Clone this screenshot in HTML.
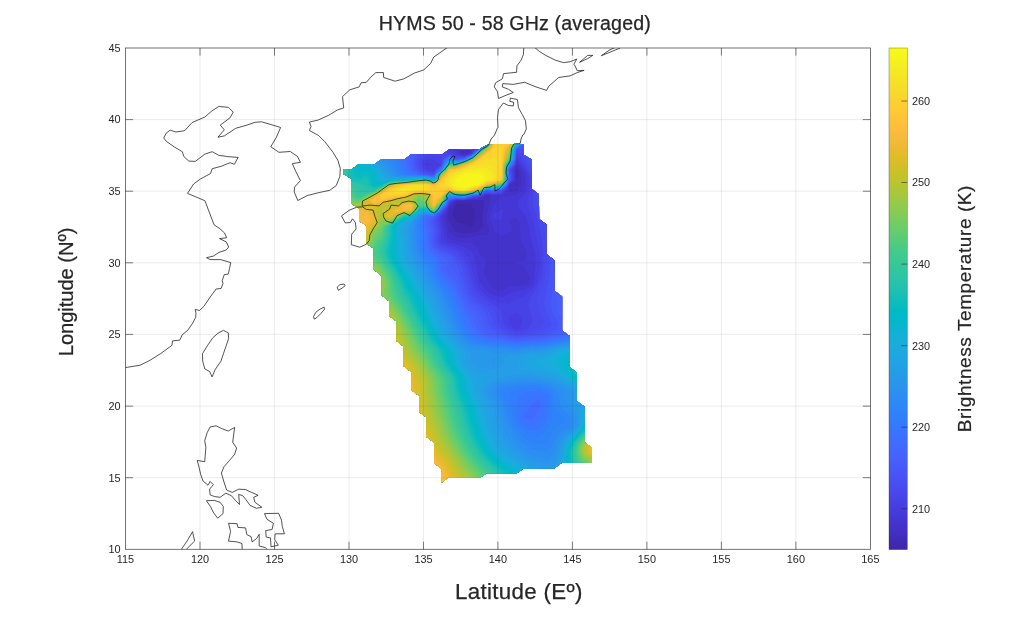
<!DOCTYPE html><html><head><meta charset="utf-8"><title>HYMS 50 - 58 GHz (averaged)</title>
<style>html,body{margin:0;padding:0;background:#fff}body{width:1024px;height:619px;overflow:hidden}svg{display:block}text{font-family:"Liberation Sans",Arial,Helvetica,sans-serif;fill:#262626}</style></head><body>
<svg width="1024" height="619" viewBox="0 0 1024 619">
<rect width="1024" height="619" fill="#fff"/>
<defs><clipPath id="ax"><rect x="125.5" y="48.0" width="744.9" height="501.3"/></clipPath>
<clipPath id="sw"><path d="M343.8 169.5 L351.2 169.5 L358.4 164.6 L374.0 164.6 L381.3 159.4 L404.3 159.4 L411.3 154.3 L442.3 154.3 L448.9 149.5 L478.8 149.5 L488.5 144.0 L523.7 144.0 L523.7 154.7 L531.8 159.6 L531.8 188.7 L538.9 194.3 L539.2 219.1 L547.0 224.7 L547.0 254.6 L554.5 260.3 L554.7 290.8 L562.1 296.5 L562.1 330.4 L569.7 336.1 L569.7 367.6 L577.0 372.4 L577.0 401.3 L584.7 407.0 L584.7 442.5 L591.8 447.4 L591.8 462.7 L561.6 463.0 L554.3 468.2 L523.8 468.4 L516.6 473.2 L486.7 473.2 L479.7 478.0 L448.2 478.1 L441.7 482.4 L441.7 469.2 L434.0 462.7 L434.0 442.5 L426.4 436.9 L426.4 417.5 L419.1 411.8 L419.1 395.7 L411.6 390.5 L411.6 372.4 L403.6 366.0 L403.6 346.6 L396.4 340.9 L396.4 321.5 L389.1 315.9 L389.1 301.3 L381.8 295.4 L381.7 276.0 L373.6 269.5 L373.6 248.5 L366.4 243.6 L366.3 225.4 L359.0 221.0 L359.0 208.6 L351.3 203.5 L351.3 178.8 L343.8 174.2Z"/></clipPath>
<linearGradient id="cb" x1="0" y1="1" x2="0" y2="0"><stop offset="0.0000" stop-color="#3e26a8"/><stop offset="0.0159" stop-color="#402ab4"/><stop offset="0.0317" stop-color="#422ec0"/><stop offset="0.0476" stop-color="#4332cb"/><stop offset="0.0635" stop-color="#4537d5"/><stop offset="0.0794" stop-color="#463cde"/><stop offset="0.0952" stop-color="#4741e5"/><stop offset="0.1111" stop-color="#4747eb"/><stop offset="0.1270" stop-color="#484df0"/><stop offset="0.1429" stop-color="#4852f4"/><stop offset="0.1587" stop-color="#4758f8"/><stop offset="0.1746" stop-color="#465efb"/><stop offset="0.1905" stop-color="#4563fd"/><stop offset="0.2063" stop-color="#4269fe"/><stop offset="0.2222" stop-color="#3e6fff"/><stop offset="0.2381" stop-color="#3875fe"/><stop offset="0.2540" stop-color="#327cfc"/><stop offset="0.2698" stop-color="#2f81fa"/><stop offset="0.2857" stop-color="#2e87f7"/><stop offset="0.3016" stop-color="#2d8cf3"/><stop offset="0.3175" stop-color="#2b91ef"/><stop offset="0.3333" stop-color="#2797eb"/><stop offset="0.3492" stop-color="#259be8"/><stop offset="0.3651" stop-color="#23a0e5"/><stop offset="0.3810" stop-color="#20a5e3"/><stop offset="0.3968" stop-color="#1ca9df"/><stop offset="0.4127" stop-color="#18addb"/><stop offset="0.4286" stop-color="#12b1d6"/><stop offset="0.4444" stop-color="#08b5d0"/><stop offset="0.4603" stop-color="#01b8ca"/><stop offset="0.4762" stop-color="#02bac3"/><stop offset="0.4921" stop-color="#0bbdbd"/><stop offset="0.5079" stop-color="#19bfb6"/><stop offset="0.5238" stop-color="#24c1ae"/><stop offset="0.5397" stop-color="#2cc4a7"/><stop offset="0.5556" stop-color="#31c69f"/><stop offset="0.5714" stop-color="#37c897"/><stop offset="0.5873" stop-color="#3fca8e"/><stop offset="0.6032" stop-color="#4acb84"/><stop offset="0.6190" stop-color="#57cc7a"/><stop offset="0.6349" stop-color="#64cd6f"/><stop offset="0.6508" stop-color="#72cd64"/><stop offset="0.6667" stop-color="#81cc59"/><stop offset="0.6825" stop-color="#8fcb4e"/><stop offset="0.6984" stop-color="#9dc943"/><stop offset="0.7143" stop-color="#abc739"/><stop offset="0.7302" stop-color="#b9c431"/><stop offset="0.7460" stop-color="#c5c22a"/><stop offset="0.7619" stop-color="#d1bf27"/><stop offset="0.7778" stop-color="#dcbd29"/><stop offset="0.7937" stop-color="#e6bb2d"/><stop offset="0.8095" stop-color="#f0ba36"/><stop offset="0.8254" stop-color="#f8ba3d"/><stop offset="0.8413" stop-color="#febe3c"/><stop offset="0.8571" stop-color="#fec338"/><stop offset="0.8730" stop-color="#fec934"/><stop offset="0.8889" stop-color="#fccf30"/><stop offset="0.9048" stop-color="#fad62d"/><stop offset="0.9206" stop-color="#f7dc2a"/><stop offset="0.9365" stop-color="#f5e327"/><stop offset="0.9524" stop-color="#f5e924"/><stop offset="0.9683" stop-color="#f6ef20"/><stop offset="0.9841" stop-color="#f7f51b"/><stop offset="1.0000" stop-color="#f9fb15"/></linearGradient></defs>
<g clip-path="url(#sw)"><path d="M328.7 128.6L336.3 128.6L343.8 128.6L351.3 128.6L358.8 128.6L366.3 128.6L373.9 128.6L381.4 128.6L388.9 128.6L396.4 128.6L403.9 128.6L411.5 128.6L419.0 128.6L426.5 128.6L434.0 128.6L441.5 128.6L449.1 128.6L456.6 128.6L464.1 128.6L471.6 128.6L479.1 128.6L486.7 128.6L494.2 128.6L501.7 128.6L509.2 128.6L516.7 128.6L524.3 128.6L531.8 128.6L539.3 128.6L546.8 128.6L554.3 128.6L561.9 128.6L569.4 128.6L576.9 128.6L584.4 128.6L591.9 128.6L599.5 128.6L607.0 128.6L614.5 128.6L614.5 133.7L614.5 138.9L614.5 144.0L614.5 149.1L614.5 154.3L614.5 159.4L614.5 164.6L614.5 169.7L614.5 174.8L614.5 180.0L614.5 185.1L614.5 190.3L614.5 195.4L614.5 200.5L614.5 205.7L614.5 210.8L614.5 216.0L614.5 221.1L614.5 226.2L614.5 231.4L614.5 236.5L614.5 241.7L614.5 246.8L614.5 251.9L614.5 257.1L614.5 262.2L614.5 267.4L614.5 272.5L614.5 277.6L614.5 282.8L614.5 287.9L614.5 293.1L614.5 298.2L614.5 303.3L614.5 308.5L614.5 313.6L614.5 318.8L614.5 323.9L614.5 329.0L614.5 334.2L614.5 339.3L614.5 344.5L614.5 349.6L614.5 354.7L614.5 359.9L614.5 365.0L614.5 370.2L614.5 375.3L614.5 380.4L614.5 385.6L614.5 390.7L614.5 395.9L614.5 401.0L614.5 406.1L614.5 411.3L614.5 416.4L614.5 421.6L614.5 426.7L614.5 431.8L614.5 437.0L614.5 442.1L614.5 447.3L614.5 452.4L614.5 457.5L614.5 462.7L614.5 467.8L614.5 473.0L614.5 478.1L614.5 483.2L614.5 488.4L614.5 493.5L614.5 498.7L607.0 498.7L599.5 498.7L591.9 498.7L584.4 498.7L576.9 498.7L569.4 498.7L561.9 498.7L554.3 498.7L546.8 498.7L539.3 498.7L531.8 498.7L524.3 498.7L516.7 498.7L509.2 498.7L501.7 498.7L494.2 498.7L486.7 498.7L479.1 498.7L471.6 498.7L464.1 498.7L456.6 498.7L449.1 498.7L441.5 498.7L434.0 498.7L426.5 498.7L419.0 498.7L411.5 498.7L403.9 498.7L396.4 498.7L388.9 498.7L381.4 498.7L373.9 498.7L366.3 498.7L358.8 498.7L351.3 498.7L343.8 498.7L336.3 498.7L328.7 498.7L328.7 493.5L328.7 488.4L328.7 483.2L328.7 478.1L328.7 473.0L328.7 467.8L328.7 462.7L328.7 457.5L328.7 452.4L328.7 447.3L328.7 442.1L328.7 437.0L328.7 431.8L328.7 426.7L328.7 421.6L328.7 416.4L328.7 411.3L328.7 406.1L328.7 401.0L328.7 395.9L328.7 390.7L328.7 385.6L328.7 380.4L328.7 375.3L328.7 370.2L328.7 365.0L328.7 359.9L328.7 354.7L328.7 349.6L328.7 344.5L328.7 339.3L328.7 334.2L328.7 329.0L328.7 323.9L328.7 318.8L328.7 313.6L328.7 308.5L328.7 303.3L328.7 298.2L328.7 293.1L328.7 287.9L328.7 282.8L328.7 277.6L328.7 272.5L328.7 267.4L328.7 262.2L328.7 257.1L328.7 251.9L328.7 246.8L328.7 241.7L328.7 236.5L328.7 231.4L328.7 226.2L328.7 221.1L328.7 216.0L328.7 210.8L328.7 205.7L328.7 200.5L328.7 195.4L328.7 190.3L328.7 185.1L328.7 180.0L328.7 174.8L328.7 169.7L328.7 164.6L328.7 159.4L328.7 154.3L328.7 149.1L328.7 144.0L328.7 138.9L328.7 133.7Z" fill="#3e26a8"/>
<path d="M328.7 128.6L336.3 128.6L343.8 128.6L351.3 128.6L358.8 128.6L366.3 128.6L373.9 128.6L381.4 128.6L388.9 128.6L396.4 128.6L403.9 128.6L411.5 128.6L419.0 128.6L426.5 128.6L434.0 128.6L441.5 128.6L449.1 128.6L456.6 128.6L464.1 128.6L471.6 128.6L479.1 128.6L486.7 128.6L494.2 128.6L501.7 128.6L509.2 128.6L516.7 128.6L524.3 128.6L531.8 128.6L539.3 128.6L546.8 128.6L554.3 128.6L561.9 128.6L569.4 128.6L576.9 128.6L584.4 128.6L591.9 128.6L599.5 128.6L607.0 128.6L614.5 128.6L614.5 133.7L614.5 138.9L614.5 144.0L614.5 149.1L614.5 154.3L614.5 159.4L614.5 164.6L614.5 169.7L614.5 174.8L614.5 180.0L614.5 185.1L614.5 190.3L614.5 195.4L614.5 200.5L614.5 205.7L614.5 210.8L614.5 216.0L614.5 221.1L614.5 226.2L614.5 231.4L614.5 236.5L614.5 241.7L614.5 246.8L614.5 251.9L614.5 257.1L614.5 262.2L614.5 267.4L614.5 272.5L614.5 277.6L614.5 282.8L614.5 287.9L614.5 293.1L614.5 298.2L614.5 303.3L614.5 308.5L614.5 313.6L614.5 318.8L614.5 323.9L614.5 329.0L614.5 334.2L614.5 339.3L614.5 344.5L614.5 349.6L614.5 354.7L614.5 359.9L614.5 365.0L614.5 370.2L614.5 375.3L614.5 380.4L614.5 385.6L614.5 390.7L614.5 395.9L614.5 401.0L614.5 406.1L614.5 411.3L614.5 416.4L614.5 421.6L614.5 426.7L614.5 431.8L614.5 437.0L614.5 442.1L614.5 447.3L614.5 452.4L614.5 457.5L614.5 462.7L614.5 467.8L614.5 473.0L614.5 478.1L614.5 483.2L614.5 488.4L614.5 493.5L614.5 498.7L607.0 498.7L599.5 498.7L591.9 498.7L584.4 498.7L576.9 498.7L569.4 498.7L561.9 498.7L554.3 498.7L546.8 498.7L539.3 498.7L531.8 498.7L524.3 498.7L516.7 498.7L509.2 498.7L501.7 498.7L494.2 498.7L486.7 498.7L479.1 498.7L471.6 498.7L464.1 498.7L456.6 498.7L449.1 498.7L441.5 498.7L434.0 498.7L426.5 498.7L419.0 498.7L411.5 498.7L403.9 498.7L396.4 498.7L388.9 498.7L381.4 498.7L373.9 498.7L366.3 498.7L358.8 498.7L351.3 498.7L343.8 498.7L336.3 498.7L328.7 498.7L328.7 493.5L328.7 488.4L328.7 483.2L328.7 478.1L328.7 473.0L328.7 467.8L328.7 462.7L328.7 457.5L328.7 452.4L328.7 447.3L328.7 442.1L328.7 437.0L328.7 431.8L328.7 426.7L328.7 421.6L328.7 416.4L328.7 411.3L328.7 406.1L328.7 401.0L328.7 395.9L328.7 390.7L328.7 385.6L328.7 380.4L328.7 375.3L328.7 370.2L328.7 365.0L328.7 359.9L328.7 354.7L328.7 349.6L328.7 344.5L328.7 339.3L328.7 334.2L328.7 329.0L328.7 323.9L328.7 318.8L328.7 313.6L328.7 308.5L328.7 303.3L328.7 298.2L328.7 293.1L328.7 287.9L328.7 282.8L328.7 277.6L328.7 272.5L328.7 267.4L328.7 262.2L328.7 257.1L328.7 251.9L328.7 246.8L328.7 241.7L328.7 236.5L328.7 231.4L328.7 226.2L328.7 221.1L328.7 216.0L328.7 210.8L328.7 205.7L328.7 200.5L328.7 195.4L328.7 190.3L328.7 185.1L328.7 180.0L328.7 174.8L328.7 169.7L328.7 164.6L328.7 159.4L328.7 154.3L328.7 149.1L328.7 144.0L328.7 138.9L328.7 133.7ZM456.6 204.1L455.2 205.7L453.3 210.8L453.3 216.0L455.9 221.1L456.6 222.5L464.1 223.7L466.4 226.2L471.6 226.7L472.6 226.2L474.1 221.1L475.2 216.0L475.2 210.8L472.0 205.7L471.6 203.1L464.1 203.7Z" fill="#402ab5"/>
<path d="M328.7 128.6L336.3 128.6L343.8 128.6L351.3 128.6L358.8 128.6L366.3 128.6L373.9 128.6L381.4 128.6L388.9 128.6L396.4 128.6L403.9 128.6L411.5 128.6L419.0 128.6L426.5 128.6L434.0 128.6L441.5 128.6L449.1 128.6L456.6 128.6L464.1 128.6L471.6 128.6L479.1 128.6L486.7 128.6L494.2 128.6L501.7 128.6L509.2 128.6L516.7 128.6L524.3 128.6L531.8 128.6L539.3 128.6L546.8 128.6L554.3 128.6L561.9 128.6L569.4 128.6L576.9 128.6L584.4 128.6L591.9 128.6L599.5 128.6L607.0 128.6L614.5 128.6L614.5 133.7L614.5 138.9L614.5 144.0L614.5 149.1L614.5 154.3L614.5 159.4L614.5 164.6L614.5 169.7L614.5 174.8L614.5 180.0L614.5 185.1L614.5 190.3L614.5 195.4L614.5 200.5L614.5 205.7L614.5 210.8L614.5 216.0L614.5 221.1L614.5 226.2L614.5 231.4L614.5 236.5L614.5 241.7L614.5 246.8L614.5 251.9L614.5 257.1L614.5 262.2L614.5 267.4L614.5 272.5L614.5 277.6L614.5 282.8L614.5 287.9L614.5 293.1L614.5 298.2L614.5 303.3L614.5 308.5L614.5 313.6L614.5 318.8L614.5 323.9L614.5 329.0L614.5 334.2L614.5 339.3L614.5 344.5L614.5 349.6L614.5 354.7L614.5 359.9L614.5 365.0L614.5 370.2L614.5 375.3L614.5 380.4L614.5 385.6L614.5 390.7L614.5 395.9L614.5 401.0L614.5 406.1L614.5 411.3L614.5 416.4L614.5 421.6L614.5 426.7L614.5 431.8L614.5 437.0L614.5 442.1L614.5 447.3L614.5 452.4L614.5 457.5L614.5 462.7L614.5 467.8L614.5 473.0L614.5 478.1L614.5 483.2L614.5 488.4L614.5 493.5L614.5 498.7L607.0 498.7L599.5 498.7L591.9 498.7L584.4 498.7L576.9 498.7L569.4 498.7L561.9 498.7L554.3 498.7L546.8 498.7L539.3 498.7L531.8 498.7L524.3 498.7L516.7 498.7L509.2 498.7L501.7 498.7L494.2 498.7L486.7 498.7L479.1 498.7L471.6 498.7L464.1 498.7L456.6 498.7L449.1 498.7L441.5 498.7L434.0 498.7L426.5 498.7L419.0 498.7L411.5 498.7L403.9 498.7L396.4 498.7L388.9 498.7L381.4 498.7L373.9 498.7L366.3 498.7L358.8 498.7L351.3 498.7L343.8 498.7L336.3 498.7L328.7 498.7L328.7 493.5L328.7 488.4L328.7 483.2L328.7 478.1L328.7 473.0L328.7 467.8L328.7 462.7L328.7 457.5L328.7 452.4L328.7 447.3L328.7 442.1L328.7 437.0L328.7 431.8L328.7 426.7L328.7 421.6L328.7 416.4L328.7 411.3L328.7 406.1L328.7 401.0L328.7 395.9L328.7 390.7L328.7 385.6L328.7 380.4L328.7 375.3L328.7 370.2L328.7 365.0L328.7 359.9L328.7 354.7L328.7 349.6L328.7 344.5L328.7 339.3L328.7 334.2L328.7 329.0L328.7 323.9L328.7 318.8L328.7 313.6L328.7 308.5L328.7 303.3L328.7 298.2L328.7 293.1L328.7 287.9L328.7 282.8L328.7 277.6L328.7 272.5L328.7 267.4L328.7 262.2L328.7 257.1L328.7 251.9L328.7 246.8L328.7 241.7L328.7 236.5L328.7 231.4L328.7 226.2L328.7 221.1L328.7 216.0L328.7 210.8L328.7 205.7L328.7 200.5L328.7 195.4L328.7 190.3L328.7 185.1L328.7 180.0L328.7 174.8L328.7 169.7L328.7 164.6L328.7 159.4L328.7 154.3L328.7 149.1L328.7 144.0L328.7 138.9L328.7 133.7ZM464.1 153.6L464.0 154.3L464.1 154.3L464.2 154.3ZM471.6 146.6L468.1 149.1L471.6 149.5L471.8 149.1ZM516.7 168.4L516.3 169.7L516.3 174.8L516.7 179.4L518.3 174.8L517.7 169.7ZM464.1 200.4L456.8 200.5L456.6 200.6L452.1 205.7L449.1 209.4L448.7 210.8L448.2 216.0L448.9 221.1L449.1 221.6L451.9 226.2L455.6 231.4L456.6 232.1L464.1 233.4L471.6 232.8L478.7 231.4L479.1 231.2L483.4 226.2L482.2 221.1L482.5 216.0L483.4 210.8L483.6 205.7L484.2 200.5L479.1 200.0L471.6 200.1ZM516.7 181.5L515.7 185.1L516.7 185.9L517.3 185.1Z" fill="#422ec0"/>
<path d="M328.7 128.6L336.3 128.6L343.8 128.6L351.3 128.6L358.8 128.6L366.3 128.6L373.9 128.6L381.4 128.6L388.9 128.6L396.4 128.6L403.9 128.6L411.5 128.6L419.0 128.6L426.5 128.6L434.0 128.6L441.5 128.6L449.1 128.6L456.6 128.6L464.1 128.6L471.6 128.6L479.1 128.6L486.7 128.6L494.2 128.6L501.7 128.6L509.2 128.6L516.7 128.6L524.3 128.6L531.8 128.6L539.3 128.6L546.8 128.6L554.3 128.6L561.9 128.6L569.4 128.6L576.9 128.6L584.4 128.6L591.9 128.6L599.5 128.6L607.0 128.6L614.5 128.6L614.5 133.7L614.5 138.9L614.5 144.0L614.5 149.1L614.5 154.3L614.5 159.4L614.5 164.6L614.5 169.7L614.5 174.8L614.5 180.0L614.5 185.1L614.5 190.3L614.5 195.4L614.5 200.5L614.5 205.7L614.5 210.8L614.5 216.0L614.5 221.1L614.5 226.2L614.5 231.4L614.5 236.5L614.5 241.7L614.5 246.8L614.5 251.9L614.5 257.1L614.5 262.2L614.5 267.4L614.5 272.5L614.5 277.6L614.5 282.8L614.5 287.9L614.5 293.1L614.5 298.2L614.5 303.3L614.5 308.5L614.5 313.6L614.5 318.8L614.5 323.9L614.5 329.0L614.5 334.2L614.5 339.3L614.5 344.5L614.5 349.6L614.5 354.7L614.5 359.9L614.5 365.0L614.5 370.2L614.5 375.3L614.5 380.4L614.5 385.6L614.5 390.7L614.5 395.9L614.5 401.0L614.5 406.1L614.5 411.3L614.5 416.4L614.5 421.6L614.5 426.7L614.5 431.8L614.5 437.0L614.5 442.1L614.5 447.3L614.5 452.4L614.5 457.5L614.5 462.7L614.5 467.8L614.5 473.0L614.5 478.1L614.5 483.2L614.5 488.4L614.5 493.5L614.5 498.7L607.0 498.7L599.5 498.7L591.9 498.7L584.4 498.7L576.9 498.7L569.4 498.7L561.9 498.7L554.3 498.7L546.8 498.7L539.3 498.7L531.8 498.7L524.3 498.7L516.7 498.7L509.2 498.7L501.7 498.7L494.2 498.7L486.7 498.7L479.1 498.7L471.6 498.7L464.1 498.7L456.6 498.7L449.1 498.7L441.5 498.7L434.0 498.7L426.5 498.7L419.0 498.7L411.5 498.7L403.9 498.7L396.4 498.7L388.9 498.7L381.4 498.7L373.9 498.7L366.3 498.7L358.8 498.7L351.3 498.7L343.8 498.7L336.3 498.7L328.7 498.7L328.7 493.5L328.7 488.4L328.7 483.2L328.7 478.1L328.7 473.0L328.7 467.8L328.7 462.7L328.7 457.5L328.7 452.4L328.7 447.3L328.7 442.1L328.7 437.0L328.7 431.8L328.7 426.7L328.7 421.6L328.7 416.4L328.7 411.3L328.7 406.1L328.7 401.0L328.7 395.9L328.7 390.7L328.7 385.6L328.7 380.4L328.7 375.3L328.7 370.2L328.7 365.0L328.7 359.9L328.7 354.7L328.7 349.6L328.7 344.5L328.7 339.3L328.7 334.2L328.7 329.0L328.7 323.9L328.7 318.8L328.7 313.6L328.7 308.5L328.7 303.3L328.7 298.2L328.7 293.1L328.7 287.9L328.7 282.8L328.7 277.6L328.7 272.5L328.7 267.4L328.7 262.2L328.7 257.1L328.7 251.9L328.7 246.8L328.7 241.7L328.7 236.5L328.7 231.4L328.7 226.2L328.7 221.1L328.7 216.0L328.7 210.8L328.7 205.7L328.7 200.5L328.7 195.4L328.7 190.3L328.7 185.1L328.7 180.0L328.7 174.8L328.7 169.7L328.7 164.6L328.7 159.4L328.7 154.3L328.7 149.1L328.7 144.0L328.7 138.9L328.7 133.7ZM471.6 138.7L471.4 138.9L464.1 143.5L463.7 144.0L460.2 149.1L461.3 154.3L464.1 154.8L466.1 154.3L471.6 150.7L472.5 149.1L479.1 144.2L479.4 144.0L479.7 138.9L479.1 137.6ZM486.7 195.0L485.7 195.4L479.1 199.2L471.6 199.6L464.1 200.2L456.6 200.3L455.5 200.5L449.1 205.6L449.0 205.7L447.8 210.8L446.0 216.0L446.5 221.1L447.7 226.2L448.9 231.4L449.1 231.8L454.7 236.5L456.6 237.2L464.1 238.1L471.6 237.3L474.1 236.5L479.1 235.3L486.7 235.2L489.6 231.4L488.9 226.2L486.8 221.1L486.7 219.1L486.4 216.0L486.7 215.1L487.7 210.8L488.8 205.7L490.4 200.5L491.4 195.4ZM516.7 165.1L515.3 169.7L515.5 174.8L515.9 180.0L509.2 185.1L509.2 185.1L508.9 190.3L509.2 191.4L516.7 190.8L517.4 190.3L521.2 185.1L521.0 180.0L521.4 174.8L519.9 169.7Z" fill="#4433cb"/>
<path d="M328.7 128.6L336.3 128.6L343.8 128.6L351.3 128.6L358.8 128.6L366.3 128.6L373.9 128.6L381.4 128.6L388.9 128.6L396.4 128.6L403.9 128.6L411.5 128.6L419.0 128.6L426.5 128.6L434.0 128.6L441.5 128.6L449.1 128.6L456.6 128.6L464.1 128.6L471.6 128.6L479.1 128.6L486.7 128.6L494.2 128.6L501.7 128.6L509.2 128.6L516.7 128.6L524.3 128.6L531.8 128.6L539.3 128.6L546.8 128.6L554.3 128.6L561.9 128.6L569.4 128.6L576.9 128.6L584.4 128.6L591.9 128.6L599.5 128.6L607.0 128.6L614.5 128.6L614.5 133.7L614.5 138.9L614.5 144.0L614.5 149.1L614.5 154.3L614.5 159.4L614.5 164.6L614.5 169.7L614.5 174.8L614.5 180.0L614.5 185.1L614.5 190.3L614.5 195.4L614.5 200.5L614.5 205.7L614.5 210.8L614.5 216.0L614.5 221.1L614.5 226.2L614.5 231.4L614.5 236.5L614.5 241.7L614.5 246.8L614.5 251.9L614.5 257.1L614.5 262.2L614.5 267.4L614.5 272.5L614.5 277.6L614.5 282.8L614.5 287.9L614.5 293.1L614.5 298.2L614.5 303.3L614.5 308.5L614.5 313.6L614.5 318.8L614.5 323.9L614.5 329.0L614.5 334.2L614.5 339.3L614.5 344.5L614.5 349.6L614.5 354.7L614.5 359.9L614.5 365.0L614.5 370.2L614.5 375.3L614.5 380.4L614.5 385.6L614.5 390.7L614.5 395.9L614.5 401.0L614.5 406.1L614.5 411.3L614.5 416.4L614.5 421.6L614.5 426.7L614.5 431.8L614.5 437.0L614.5 442.1L614.5 447.3L614.5 452.4L614.5 457.5L614.5 462.7L614.5 467.8L614.5 473.0L614.5 478.1L614.5 483.2L614.5 488.4L614.5 493.5L614.5 498.7L607.0 498.7L599.5 498.7L591.9 498.7L584.4 498.7L576.9 498.7L569.4 498.7L561.9 498.7L554.3 498.7L546.8 498.7L539.3 498.7L531.8 498.7L524.3 498.7L516.7 498.7L509.2 498.7L501.7 498.7L494.2 498.7L486.7 498.7L479.1 498.7L471.6 498.7L464.1 498.7L456.6 498.7L449.1 498.7L441.5 498.7L434.0 498.7L426.5 498.7L419.0 498.7L411.5 498.7L403.9 498.7L396.4 498.7L388.9 498.7L381.4 498.7L373.9 498.7L366.3 498.7L358.8 498.7L351.3 498.7L343.8 498.7L336.3 498.7L328.7 498.7L328.7 493.5L328.7 488.4L328.7 483.2L328.7 478.1L328.7 473.0L328.7 467.8L328.7 462.7L328.7 457.5L328.7 452.4L328.7 447.3L328.7 442.1L328.7 437.0L328.7 431.8L328.7 426.7L328.7 421.6L328.7 416.4L328.7 411.3L328.7 406.1L328.7 401.0L328.7 395.9L328.7 390.7L328.7 385.6L328.7 380.4L328.7 375.3L328.7 370.2L328.7 365.0L328.7 359.9L328.7 354.7L328.7 349.6L328.7 344.5L328.7 339.3L328.7 334.2L328.7 329.0L328.7 323.9L328.7 318.8L328.7 313.6L328.7 308.5L328.7 303.3L328.7 298.2L328.7 293.1L328.7 287.9L328.7 282.8L328.7 277.6L328.7 272.5L328.7 267.4L328.7 262.2L328.7 257.1L328.7 251.9L328.7 246.8L328.7 241.7L328.7 236.5L328.7 231.4L328.7 226.2L328.7 221.1L328.7 216.0L328.7 210.8L328.7 205.7L328.7 200.5L328.7 195.4L328.7 190.3L328.7 185.1L328.7 180.0L328.7 174.8L328.7 169.7L328.7 164.6L328.7 159.4L328.7 154.3L328.7 149.1L328.7 144.0L328.7 138.9L328.7 133.7ZM471.6 131.8L468.0 133.7L464.1 135.9L461.5 138.9L457.6 144.0L456.6 145.7L455.2 149.1L456.6 150.8L458.7 154.3L464.1 155.2L467.9 154.3L471.6 151.9L473.2 149.1L479.1 144.8L479.9 144.0L482.3 138.9L486.7 133.8L486.7 133.7L486.7 133.5L479.1 130.9ZM516.7 162.0L516.4 164.6L514.3 169.7L514.6 174.8L514.9 180.0L509.2 184.3L509.0 185.1L507.8 190.3L501.7 195.2L494.2 195.1L486.7 194.5L484.3 195.4L479.1 198.4L471.6 199.1L464.1 200.0L456.6 200.0L454.4 200.5L449.1 204.8L448.7 205.7L446.9 210.8L443.9 216.0L444.0 221.1L445.4 226.2L446.4 231.4L447.4 236.5L449.1 238.6L456.6 241.0L460.3 241.7L464.1 242.4L471.6 242.7L476.4 246.8L478.9 251.9L479.1 252.9L483.3 257.1L486.4 262.2L484.2 267.4L483.8 272.5L485.8 277.6L486.7 279.2L489.5 282.8L492.1 287.9L494.2 289.4L501.7 291.0L507.1 287.9L509.2 286.2L516.7 285.3L524.3 285.5L529.6 282.8L529.8 277.6L527.3 272.5L524.9 267.4L524.3 265.0L516.7 263.7L515.9 262.2L516.7 261.7L524.3 260.9L526.4 257.1L526.4 251.9L524.3 246.8L524.3 246.6L521.7 241.7L520.5 236.5L519.9 231.4L520.0 226.2L518.9 221.1L516.7 218.3L509.2 220.2L508.9 221.1L509.2 222.8L511.6 226.2L511.6 231.4L509.2 232.6L501.7 236.2L494.4 231.4L494.2 231.0L492.9 226.2L490.7 221.1L489.9 216.0L491.3 210.8L493.2 205.7L494.2 203.7L497.3 200.5L501.7 196.9L509.2 196.4L512.8 195.4L516.7 194.8L522.5 190.3L524.3 187.0L524.8 185.1L525.0 180.0L524.5 174.8L524.3 174.3L522.2 169.7L518.5 164.6Z" fill="#4537d6"/>
<path d="M328.7 128.6L336.3 128.6L343.8 128.6L351.3 128.6L358.8 128.6L366.3 128.6L373.9 128.6L381.4 128.6L388.9 128.6L396.4 128.6L403.9 128.6L411.5 128.6L419.0 128.6L426.5 128.6L434.0 128.6L441.5 128.6L449.1 128.6L456.6 128.6L463.8 128.6L458.6 133.7L456.6 136.2L455.1 138.9L452.9 144.0L451.5 149.1L455.8 154.3L456.6 154.5L464.1 155.7L469.8 154.3L471.6 153.1L473.9 149.1L479.1 145.3L480.5 144.0L485.0 138.9L486.7 136.9L487.0 133.7L487.0 128.6L494.2 128.6L501.7 128.6L509.2 128.6L516.7 128.6L524.3 128.6L531.8 128.6L539.3 128.6L546.8 128.6L554.3 128.6L561.9 128.6L569.4 128.6L576.9 128.6L584.4 128.6L591.9 128.6L599.5 128.6L607.0 128.6L614.5 128.6L614.5 133.7L614.5 138.9L614.5 144.0L614.5 149.1L614.5 154.3L614.5 159.4L614.5 164.6L614.5 169.7L614.5 174.8L614.5 180.0L614.5 185.1L614.5 190.3L614.5 195.4L614.5 200.5L614.5 205.7L614.5 210.8L614.5 216.0L614.5 221.1L614.5 226.2L614.5 231.4L614.5 236.5L614.5 241.7L614.5 246.8L614.5 251.9L614.5 257.1L614.5 262.2L614.5 267.4L614.5 272.5L614.5 277.6L614.5 282.8L614.5 287.9L614.5 293.1L614.5 298.2L614.5 303.3L614.5 308.5L614.5 313.6L614.5 318.8L614.5 323.9L614.5 329.0L614.5 334.2L614.5 339.3L614.5 344.5L614.5 349.6L614.5 354.7L614.5 359.9L614.5 365.0L614.5 370.2L614.5 375.3L614.5 380.4L614.5 385.6L614.5 390.7L614.5 395.9L614.5 401.0L614.5 406.1L614.5 411.3L614.5 416.4L614.5 421.6L614.5 426.7L614.5 431.8L614.5 437.0L614.5 442.1L614.5 447.3L614.5 452.4L614.5 457.5L614.5 462.7L614.5 467.8L614.5 473.0L614.5 478.1L614.5 483.2L614.5 488.4L614.5 493.5L614.5 498.7L607.0 498.7L599.5 498.7L591.9 498.7L584.4 498.7L576.9 498.7L569.4 498.7L561.9 498.7L554.3 498.7L546.8 498.7L539.3 498.7L531.8 498.7L524.3 498.7L516.7 498.7L509.2 498.7L501.7 498.7L494.2 498.7L486.7 498.7L479.1 498.7L471.6 498.7L464.1 498.7L456.6 498.7L449.1 498.7L441.5 498.7L434.0 498.7L426.5 498.7L419.0 498.7L411.5 498.7L403.9 498.7L396.4 498.7L388.9 498.7L381.4 498.7L373.9 498.7L366.3 498.7L358.8 498.7L351.3 498.7L343.8 498.7L336.3 498.7L328.7 498.7L328.7 493.5L328.7 488.4L328.7 483.2L328.7 478.1L328.7 473.0L328.7 467.8L328.7 462.7L328.7 457.5L328.7 452.4L328.7 447.3L328.7 442.1L328.7 437.0L328.7 431.8L328.7 426.7L328.7 421.6L328.7 416.4L328.7 411.3L328.7 406.1L328.7 401.0L328.7 395.9L328.7 390.7L328.7 385.6L328.7 380.4L328.7 375.3L328.7 370.2L328.7 365.0L328.7 359.9L328.7 354.7L328.7 349.6L328.7 344.5L328.7 339.3L328.7 334.2L328.7 329.0L328.7 323.9L328.7 318.8L328.7 313.6L328.7 308.5L328.7 303.3L328.7 298.2L328.7 293.1L328.7 287.9L328.7 282.8L328.7 277.6L328.7 272.5L328.7 267.4L328.7 262.2L328.7 257.1L328.7 251.9L328.7 246.8L328.7 241.7L328.7 236.5L328.7 231.4L328.7 226.2L328.7 221.1L328.7 216.0L328.7 210.8L328.7 205.7L328.7 200.5L328.7 195.4L328.7 190.3L328.7 185.1L328.7 180.0L328.7 174.8L328.7 169.7L328.7 164.6L328.7 159.4L328.7 154.3L328.7 149.1L328.7 144.0L328.7 138.9L328.7 133.7ZM426.5 163.5L426.0 164.6L426.5 165.3L432.4 164.6ZM516.7 158.7L516.7 159.4L515.9 164.6L513.3 169.7L513.7 174.8L513.9 180.0L509.2 183.6L508.7 185.1L506.7 190.3L501.7 194.3L494.2 194.7L486.7 194.0L482.9 195.4L479.1 197.6L471.6 198.7L464.1 199.8L456.6 199.8L453.3 200.5L449.1 203.9L448.4 205.7L445.9 210.8L441.8 216.0L441.5 220.1L441.5 221.1L441.5 221.3L443.1 226.2L444.0 231.4L443.7 236.5L447.2 241.7L449.1 242.5L456.6 244.3L464.1 246.8L464.1 246.8L471.6 251.4L472.0 251.9L474.5 257.1L475.6 262.2L476.5 267.4L477.2 272.5L477.9 277.6L479.1 281.1L480.5 282.8L484.2 287.9L486.7 291.0L489.7 293.1L494.2 295.5L501.7 297.0L509.2 293.8L510.5 293.1L516.7 290.9L524.3 290.2L528.0 287.9L531.8 285.9L533.8 282.8L534.4 277.6L534.2 272.5L534.8 267.4L535.8 262.2L535.3 257.1L534.3 251.9L533.0 246.8L531.8 241.8L531.7 241.7L530.4 236.5L529.6 231.4L528.8 226.2L527.4 221.1L525.2 216.0L524.3 214.0L521.2 210.8L517.3 205.7L518.0 200.5L523.9 195.4L524.3 195.1L526.5 190.3L527.5 185.1L527.5 180.0L526.7 174.8L524.4 169.7L524.3 169.5L520.7 164.6L517.2 159.4ZM500.0 210.8L501.7 209.1L502.9 210.8L502.4 216.0L501.7 219.9L494.2 219.3L493.4 216.0L494.2 213.4Z" fill="#463cdf"/>
<path d="M328.7 128.6L336.3 128.6L343.8 128.6L351.3 128.6L358.8 128.6L366.3 128.6L373.9 128.6L381.4 128.6L388.9 128.6L396.4 128.6L403.9 128.6L411.5 128.6L419.0 128.6L426.5 128.6L434.0 128.6L441.5 128.6L449.1 128.6L455.2 128.6L452.0 133.7L449.8 138.9L449.1 141.4L448.3 144.0L447.4 149.1L449.1 150.5L452.4 154.3L456.6 155.5L464.1 156.1L471.6 154.3L471.6 154.3L474.6 149.1L479.1 145.8L481.0 144.0L486.7 139.0L486.7 138.9L487.4 133.7L488.0 128.6L494.2 128.6L501.7 128.6L509.2 128.6L516.7 128.6L524.3 128.6L531.8 128.6L539.3 128.6L546.8 128.6L554.3 128.6L561.9 128.6L569.4 128.6L576.9 128.6L584.4 128.6L591.9 128.6L599.5 128.6L607.0 128.6L614.5 128.6L614.5 133.7L614.5 138.9L614.5 144.0L614.5 149.1L614.5 154.3L614.5 159.4L614.5 164.6L614.5 169.7L614.5 174.8L614.5 180.0L614.5 185.1L614.5 190.3L614.5 195.4L614.5 200.5L614.5 205.7L614.5 210.8L614.5 216.0L614.5 221.1L614.5 226.2L614.5 231.4L614.5 236.5L614.5 241.7L614.5 246.8L614.5 251.9L614.5 257.1L614.5 262.2L614.5 267.4L614.5 272.5L614.5 277.6L614.5 282.8L614.5 287.9L614.5 293.1L614.5 298.2L614.5 303.3L614.5 308.5L614.5 313.6L614.5 318.8L614.5 323.9L614.5 329.0L614.5 334.2L614.5 339.3L614.5 344.5L614.5 349.6L614.5 354.7L614.5 359.9L614.5 365.0L614.5 370.2L614.5 375.3L614.5 380.4L614.5 385.6L614.5 390.7L614.5 395.9L614.5 401.0L614.5 406.1L614.5 411.3L614.5 416.4L614.5 421.6L614.5 426.7L614.5 431.8L614.5 437.0L614.5 442.1L614.5 447.3L614.5 452.4L614.5 457.5L614.5 462.7L614.5 467.8L614.5 473.0L614.5 478.1L614.5 483.2L614.5 488.4L614.5 493.5L614.5 498.7L607.0 498.7L599.5 498.7L591.9 498.7L584.4 498.7L576.9 498.7L569.4 498.7L561.9 498.7L554.3 498.7L546.8 498.7L539.3 498.7L531.8 498.7L524.3 498.7L516.7 498.7L509.2 498.7L501.7 498.7L494.2 498.7L486.7 498.7L479.1 498.7L471.6 498.7L464.1 498.7L456.6 498.7L449.1 498.7L441.5 498.7L434.0 498.7L426.5 498.7L419.0 498.7L411.5 498.7L403.9 498.7L396.4 498.7L388.9 498.7L381.4 498.7L373.9 498.7L366.3 498.7L358.8 498.7L351.3 498.7L343.8 498.7L336.3 498.7L328.7 498.7L328.7 493.5L328.7 488.4L328.7 483.2L328.7 478.1L328.7 473.0L328.7 467.8L328.7 462.7L328.7 457.5L328.7 452.4L328.7 447.3L328.7 442.1L328.7 437.0L328.7 431.8L328.7 426.7L328.7 421.6L328.7 416.4L328.7 411.3L328.7 406.1L328.7 401.0L328.7 395.9L328.7 390.7L328.7 385.6L328.7 380.4L328.7 375.3L328.7 370.2L328.7 365.0L328.7 359.9L328.7 354.7L328.7 349.6L328.7 344.5L328.7 339.3L328.7 334.2L328.7 329.0L328.7 323.9L328.7 318.8L328.7 313.6L328.7 308.5L328.7 303.3L328.7 298.2L328.7 293.1L328.7 287.9L328.7 282.8L328.7 277.6L328.7 272.5L328.7 267.4L328.7 262.2L328.7 257.1L328.7 251.9L328.7 246.8L328.7 241.7L328.7 236.5L328.7 231.4L328.7 226.2L328.7 221.1L328.7 216.0L328.7 210.8L328.7 205.7L328.7 200.5L328.7 195.4L328.7 190.3L328.7 185.1L328.7 180.0L328.7 174.8L328.7 169.7L328.7 164.6L328.7 159.4L328.7 154.3L328.7 149.1L328.7 144.0L328.7 138.9L328.7 133.7ZM426.5 158.4L425.7 159.4L423.6 164.6L426.5 169.4L427.1 169.7L434.0 170.7L434.5 169.7L439.9 164.6L434.0 159.6L433.2 159.4ZM516.7 155.1L516.5 159.4L515.5 164.6L512.3 169.7L512.9 174.8L513.0 180.0L509.2 182.9L508.5 185.1L505.5 190.3L501.7 193.4L494.2 194.2L486.7 193.4L481.5 195.4L479.1 196.7L471.6 198.2L464.1 199.6L456.6 199.6L452.3 200.5L449.1 203.1L448.0 205.7L445.0 210.8L441.5 215.0L440.5 216.0L439.6 221.1L440.9 226.2L441.5 231.4L440.8 236.5L441.3 241.7L441.5 241.9L449.1 245.1L454.9 246.8L456.6 247.4L463.8 251.9L464.1 252.3L468.5 257.1L470.6 262.2L471.6 266.6L471.8 267.4L473.3 272.5L474.5 277.6L476.4 282.8L479.1 287.9L479.1 287.9L483.2 293.1L486.7 295.9L490.8 298.2L494.2 300.1L501.7 303.0L506.4 303.3L509.2 304.2L510.2 303.3L516.7 299.2L517.8 298.2L524.3 295.9L527.0 293.1L531.8 290.0L533.4 287.9L536.5 282.8L537.8 277.6L538.7 272.5L539.3 269.2L539.6 267.4L540.1 262.2L540.0 257.1L539.4 251.9L539.3 251.2L538.4 246.8L537.3 241.7L536.2 236.5L535.3 231.4L534.3 226.2L533.1 221.1L531.8 217.0L531.3 216.0L528.9 210.8L527.1 205.7L527.1 200.5L528.5 195.4L529.8 190.3L530.3 185.1L530.0 180.0L528.9 174.8L526.6 169.7L524.3 166.5L522.9 164.6L519.9 159.4ZM516.7 313.1L515.3 313.6L509.2 316.4L508.7 318.8L509.2 321.7L509.9 323.9L515.6 329.0L516.7 329.5L518.5 329.0L521.9 323.9L521.9 318.8L517.2 313.6Z" fill="#4742e6"/>
<path d="M328.7 128.6L336.3 128.6L343.8 128.6L351.3 128.6L358.8 128.6L366.3 128.6L373.9 128.6L381.4 128.6L388.9 128.6L396.4 128.6L403.9 128.6L411.5 128.6L419.0 128.6L426.5 128.6L434.0 128.6L441.5 128.6L448.0 128.6L445.7 133.7L444.1 138.9L443.2 144.0L442.7 149.1L448.3 154.3L449.1 154.3L456.6 156.4L464.1 156.6L471.6 154.4L471.8 154.3L475.3 149.1L479.1 146.3L481.5 144.0L486.7 139.5L486.9 138.9L487.8 133.7L489.0 128.6L494.2 128.6L501.7 128.6L509.2 128.6L516.7 128.6L524.3 128.6L531.8 128.6L539.3 128.6L546.8 128.6L554.3 128.6L561.9 128.6L569.4 128.6L576.9 128.6L584.4 128.6L591.9 128.6L599.5 128.6L607.0 128.6L614.5 128.6L614.5 133.7L614.5 138.9L614.5 144.0L614.5 149.1L614.5 154.3L614.5 159.4L614.5 164.6L614.5 169.7L614.5 174.8L614.5 180.0L614.5 185.1L614.5 190.3L614.5 195.4L614.5 200.5L614.5 205.7L614.5 210.8L614.5 216.0L614.5 221.1L614.5 226.2L614.5 231.4L614.5 236.5L614.5 241.7L614.5 246.8L614.5 251.9L614.5 257.1L614.5 262.2L614.5 267.4L614.5 272.5L614.5 277.6L614.5 282.8L614.5 287.9L614.5 293.1L614.5 298.2L614.5 303.3L614.5 308.5L614.5 313.6L614.5 318.8L614.5 323.9L614.5 329.0L614.5 334.2L614.5 339.3L614.5 344.5L614.5 349.6L614.5 354.7L614.5 359.9L614.5 365.0L614.5 370.2L614.5 375.3L614.5 380.4L614.5 385.6L614.5 390.7L614.5 395.9L614.5 401.0L614.5 406.1L614.5 411.3L614.5 416.4L614.5 421.6L614.5 426.7L614.5 431.8L614.5 437.0L614.5 442.1L614.5 447.3L614.5 452.4L614.5 457.5L614.5 462.7L614.5 467.8L614.5 473.0L614.5 478.1L614.5 483.2L614.5 488.4L614.5 493.5L614.5 498.7L607.0 498.7L599.5 498.7L591.9 498.7L584.4 498.7L576.9 498.7L569.4 498.7L561.9 498.7L554.3 498.7L546.8 498.7L539.3 498.7L531.8 498.7L524.3 498.7L516.7 498.7L509.2 498.7L501.7 498.7L494.2 498.7L486.7 498.7L479.1 498.7L471.6 498.7L464.1 498.7L456.6 498.7L449.1 498.7L441.5 498.7L434.0 498.7L426.5 498.7L419.0 498.7L411.5 498.7L403.9 498.7L396.4 498.7L388.9 498.7L381.4 498.7L373.9 498.7L366.3 498.7L358.8 498.7L351.3 498.7L343.8 498.7L336.3 498.7L328.7 498.7L328.7 493.5L328.7 488.4L328.7 483.2L328.7 478.1L328.7 473.0L328.7 467.8L328.7 462.7L328.7 457.5L328.7 452.4L328.7 447.3L328.7 442.1L328.7 437.0L328.7 431.8L328.7 426.7L328.7 421.6L328.7 416.4L328.7 411.3L328.7 406.1L328.7 401.0L328.7 395.9L328.7 390.7L328.7 385.6L328.7 380.4L328.7 375.3L328.7 370.2L328.7 365.0L328.7 359.9L328.7 354.7L328.7 349.6L328.7 344.5L328.7 339.3L328.7 334.2L328.7 329.0L328.7 323.9L328.7 318.8L328.7 313.6L328.7 308.5L328.7 303.3L328.7 298.2L328.7 293.1L328.7 287.9L328.7 282.8L328.7 277.6L328.7 272.5L328.7 267.4L328.7 262.2L328.7 257.1L328.7 251.9L328.7 246.8L328.7 241.7L328.7 236.5L328.7 231.4L328.7 226.2L328.7 221.1L328.7 216.0L328.7 210.8L328.7 205.7L328.7 200.5L328.7 195.4L328.7 190.3L328.7 185.1L328.7 180.0L328.7 174.8L328.7 169.7L328.7 164.6L328.7 159.4L328.7 154.3L328.7 149.1L328.7 144.0L328.7 138.9L328.7 133.7ZM426.5 154.6L422.7 159.4L421.1 164.6L424.2 169.7L426.5 170.8L434.0 172.3L435.2 169.7L441.5 164.9L441.7 164.6L441.8 159.4L441.5 155.8L434.0 154.7ZM516.7 152.6L516.6 154.3L516.2 159.4L515.1 164.6L511.3 169.7L512.0 174.8L512.0 180.0L509.2 182.1L508.2 185.1L504.4 190.3L501.7 192.4L494.2 193.8L486.7 192.9L480.1 195.4L479.1 195.9L471.6 197.7L464.1 199.4L456.6 199.3L451.2 200.5L449.1 202.2L447.7 205.7L444.1 210.8L441.5 213.8L439.4 216.0L437.7 221.1L439.2 226.2L439.9 231.4L439.1 236.5L439.4 241.7L441.5 244.4L447.1 246.8L449.1 247.6L456.6 250.5L458.9 251.9L462.9 257.1L464.1 258.7L466.8 262.2L468.7 267.4L469.9 272.5L471.2 277.6L471.6 279.0L473.0 282.8L475.2 287.9L478.2 293.1L479.1 294.0L484.1 298.2L486.7 300.1L492.3 303.3L494.2 304.8L499.3 308.5L501.6 313.6L501.7 314.4L502.4 318.8L504.2 323.9L509.0 329.0L509.2 329.1L516.7 332.1L524.3 330.3L527.4 329.0L531.5 323.9L531.8 322.0L532.4 318.8L531.8 316.7L530.9 313.6L528.9 308.5L528.3 303.3L530.2 298.2L531.8 296.2L533.4 293.1L536.7 287.9L539.2 282.8L539.3 282.3L541.4 277.6L542.3 272.5L542.9 267.4L543.2 262.2L543.3 257.1L543.2 251.9L542.7 246.8L542.0 241.7L541.2 236.5L540.2 231.4L539.3 226.9L539.1 226.2L537.8 221.1L536.2 216.0L534.5 210.8L533.0 205.7L532.5 200.5L532.8 195.4L533.2 190.3L533.1 185.1L532.5 180.0L531.8 177.6L531.1 174.8L528.8 169.7L525.2 164.6L524.3 162.7L522.5 159.4L519.5 154.3Z" fill="#4848ec"/>
<path d="M328.7 128.6L336.3 128.6L343.8 128.6L351.3 128.6L358.8 128.6L366.3 128.6L373.9 128.6L381.4 128.6L388.9 128.6L396.4 128.6L403.9 128.6L411.5 128.6L419.0 128.6L426.5 128.6L434.0 128.6L441.1 128.6L439.1 133.7L437.4 138.9L435.2 144.0L434.0 145.7L428.9 149.1L426.5 149.8L422.8 154.3L419.7 159.4L419.0 162.7L418.7 164.6L419.0 165.1L421.7 169.7L426.5 172.0L434.0 173.8L435.8 169.7L441.5 165.4L442.0 164.6L442.4 159.4L449.1 154.7L456.6 157.4L464.1 157.0L471.6 154.6L472.1 154.3L476.0 149.1L479.1 146.8L482.0 144.0L486.7 140.0L487.1 138.9L488.1 133.7L490.0 128.6L494.2 128.6L501.7 128.6L509.2 128.6L516.7 128.6L524.3 128.6L531.8 128.6L539.3 128.6L546.8 128.6L554.3 128.6L561.9 128.6L569.4 128.6L576.9 128.6L584.4 128.6L591.9 128.6L599.5 128.6L607.0 128.6L614.5 128.6L614.5 133.7L614.5 138.9L614.5 144.0L614.5 149.1L614.5 154.3L614.5 159.4L614.5 164.6L614.5 169.7L614.5 174.8L614.5 180.0L614.5 185.1L614.5 190.3L614.5 195.4L614.5 200.5L614.5 205.7L614.5 210.8L614.5 216.0L614.5 221.1L614.5 226.2L614.5 231.4L614.5 236.5L614.5 241.7L614.5 246.8L614.5 251.9L614.5 257.1L614.5 262.2L614.5 267.4L614.5 272.5L614.5 277.6L614.5 282.8L614.5 287.9L614.5 293.1L614.5 298.2L614.5 303.3L614.5 308.5L614.5 313.6L614.5 318.8L614.5 323.9L614.5 329.0L614.5 334.2L614.5 339.3L614.5 344.5L614.5 349.6L614.5 354.7L614.5 359.9L614.5 365.0L614.5 370.2L614.5 375.3L614.5 380.4L614.5 385.6L614.5 390.7L614.5 395.9L614.5 401.0L614.5 406.1L614.5 411.3L614.5 416.4L614.5 421.6L614.5 426.7L614.5 431.8L614.5 437.0L614.5 442.1L614.5 447.3L614.5 452.4L614.5 457.5L614.5 462.7L614.5 467.8L614.5 473.0L614.5 478.1L614.5 483.2L614.5 488.4L614.5 493.5L614.5 498.7L607.0 498.7L599.5 498.7L591.9 498.7L584.4 498.7L576.9 498.7L569.4 498.7L561.9 498.7L554.3 498.7L546.8 498.7L539.3 498.7L531.8 498.7L524.3 498.7L516.7 498.7L509.2 498.7L501.7 498.7L494.2 498.7L486.7 498.7L479.1 498.7L471.6 498.7L464.1 498.7L456.6 498.7L449.1 498.7L441.5 498.7L434.0 498.7L426.5 498.7L419.0 498.7L411.5 498.7L403.9 498.7L396.4 498.7L388.9 498.7L381.4 498.7L373.9 498.7L366.3 498.7L358.8 498.7L351.3 498.7L343.8 498.7L336.3 498.7L328.7 498.7L328.7 493.5L328.7 488.4L328.7 483.2L328.7 478.1L328.7 473.0L328.7 467.8L328.7 462.7L328.7 457.5L328.7 452.4L328.7 447.3L328.7 442.1L328.7 437.0L328.7 431.8L328.7 426.7L328.7 421.6L328.7 416.4L328.7 411.3L328.7 406.1L328.7 401.0L328.7 395.9L328.7 390.7L328.7 385.6L328.7 380.4L328.7 375.3L328.7 370.2L328.7 365.0L328.7 359.9L328.7 354.7L328.7 349.6L328.7 344.5L328.7 339.3L328.7 334.2L328.7 329.0L328.7 323.9L328.7 318.8L328.7 313.6L328.7 308.5L328.7 303.3L328.7 298.2L328.7 293.1L328.7 287.9L328.7 282.8L328.7 277.6L328.7 272.5L328.7 267.4L328.7 262.2L328.7 257.1L328.7 251.9L328.7 246.8L328.7 241.7L328.7 236.5L328.7 231.4L328.7 226.2L328.7 221.1L328.7 216.0L328.7 210.8L328.7 205.7L328.7 200.5L328.7 195.4L328.7 190.3L328.7 185.1L328.7 180.0L328.7 174.8L328.7 169.7L328.7 164.6L328.7 159.4L328.7 154.3L328.7 149.1L328.7 144.0L328.7 138.9L328.7 133.7ZM516.7 150.5L516.4 154.3L516.0 159.4L514.6 164.6L510.3 169.7L511.1 174.8L511.1 180.0L509.2 181.4L508.0 185.1L503.2 190.3L501.7 191.5L494.2 193.3L486.7 192.4L479.1 195.4L478.5 195.4L471.6 197.3L464.1 199.2L456.6 199.1L450.1 200.5L449.1 201.4L447.3 205.7L443.1 210.8L441.5 212.7L438.3 216.0L435.8 221.1L437.4 226.2L438.3 231.4L437.4 236.5L437.5 241.7L441.4 246.8L441.5 246.9L449.1 249.8L453.9 251.9L456.6 254.1L459.2 257.1L463.2 262.2L464.1 264.0L465.7 267.4L466.8 272.5L468.2 277.6L469.9 282.8L471.4 287.9L471.6 288.7L473.7 293.1L478.7 298.2L479.1 298.6L485.7 303.3L486.7 304.1L492.5 308.5L494.2 310.9L496.1 313.6L497.2 318.8L498.9 323.9L501.7 326.7L503.9 329.0L509.2 331.7L515.4 334.2L516.7 334.5L519.5 334.2L524.3 333.2L531.8 330.4L539.3 329.3L539.8 329.0L544.0 323.9L542.8 318.8L540.2 313.6L539.3 311.0L538.2 308.5L537.2 303.3L537.6 298.2L538.9 293.1L539.3 291.5L540.5 287.9L543.5 282.8L545.1 277.6L545.9 272.5L546.2 267.4L546.3 262.2L546.7 257.1L546.8 254.8L547.0 251.9L546.8 247.0L546.8 246.8L546.3 241.7L545.5 236.5L544.6 231.4L543.5 226.2L542.2 221.1L540.8 216.0L539.3 210.8L539.3 210.7L537.9 205.7L537.0 200.5L536.7 195.4L536.5 190.3L536.1 185.1L535.3 180.0L533.6 174.8L531.8 171.4L531.0 169.7L527.8 164.6L525.2 159.4L524.3 156.9L523.0 154.3Z" fill="#484df1"/>
<path d="M328.7 128.6L336.3 128.6L343.8 128.6L351.3 128.6L358.8 128.6L366.3 128.6L373.9 128.6L381.4 128.6L388.9 128.6L396.4 128.6L403.9 128.6L411.5 128.6L419.0 128.6L426.5 128.6L433.9 128.6L431.8 133.7L429.3 138.9L426.5 142.4L425.6 144.0L422.0 149.1L419.0 153.8L418.8 154.3L417.3 159.4L416.8 164.6L419.0 169.2L419.2 169.7L426.5 173.2L432.5 174.8L434.0 175.0L434.1 174.8L436.5 169.7L441.5 165.9L442.2 164.6L442.9 159.4L449.1 155.1L456.6 158.4L464.1 157.5L471.6 154.8L472.3 154.3L476.7 149.1L479.1 147.3L482.6 144.0L486.7 140.4L487.3 138.9L488.5 133.7L491.0 128.6L494.2 128.6L501.7 128.6L509.2 128.6L516.7 128.6L524.3 128.6L531.8 128.6L539.3 128.6L546.8 128.6L554.3 128.6L561.9 128.6L569.4 128.6L576.9 128.6L584.4 128.6L591.9 128.6L599.5 128.6L607.0 128.6L614.5 128.6L614.5 133.7L614.5 138.9L614.5 144.0L614.5 149.1L614.5 154.3L614.5 159.4L614.5 164.6L614.5 169.7L614.5 174.8L614.5 180.0L614.5 185.1L614.5 190.3L614.5 195.4L614.5 200.5L614.5 205.7L614.5 210.8L614.5 216.0L614.5 221.1L614.5 226.2L614.5 231.4L614.5 236.5L614.5 241.7L614.5 246.8L614.5 251.9L614.5 257.1L614.5 262.2L614.5 267.4L614.5 272.5L614.5 277.6L614.5 282.8L614.5 287.9L614.5 293.1L614.5 298.2L614.5 303.3L614.5 308.5L614.5 313.6L614.5 318.8L614.5 323.9L614.5 329.0L614.5 334.2L614.5 339.3L614.5 344.5L614.5 349.6L614.5 354.7L614.5 359.9L614.5 365.0L614.5 370.2L614.5 375.3L614.5 380.4L614.5 385.6L614.5 390.7L614.5 395.9L614.5 401.0L614.5 406.1L614.5 411.3L614.5 416.4L614.5 421.6L614.5 426.7L614.5 431.8L614.5 437.0L614.5 442.1L614.5 447.3L614.5 452.4L614.5 457.5L614.5 462.7L614.5 467.8L614.5 473.0L614.5 478.1L614.5 483.2L614.5 488.4L614.5 493.5L614.5 498.7L607.0 498.7L599.5 498.7L591.9 498.7L584.4 498.7L576.9 498.7L569.4 498.7L561.9 498.7L554.3 498.7L546.8 498.7L539.3 498.7L531.8 498.7L524.3 498.7L516.7 498.7L509.2 498.7L501.7 498.7L494.2 498.7L486.7 498.7L479.1 498.7L471.6 498.7L464.1 498.7L456.6 498.7L449.1 498.7L441.5 498.7L434.0 498.7L426.5 498.7L419.0 498.7L411.5 498.7L403.9 498.7L396.4 498.7L388.9 498.7L381.4 498.7L373.9 498.7L366.3 498.7L358.8 498.7L351.3 498.7L343.8 498.7L336.3 498.7L328.7 498.7L328.7 493.5L328.7 488.4L328.7 483.2L328.7 478.1L328.7 473.0L328.7 467.8L328.7 462.7L328.7 457.5L328.7 452.4L328.7 447.3L328.7 442.1L328.7 437.0L328.7 431.8L328.7 426.7L328.7 421.6L328.7 416.4L328.7 411.3L328.7 406.1L328.7 401.0L328.7 395.9L328.7 390.7L328.7 385.6L328.7 380.4L328.7 375.3L328.7 370.2L328.7 365.0L328.7 359.9L328.7 354.7L328.7 349.6L328.7 344.5L328.7 339.3L328.7 334.2L328.7 329.0L328.7 323.9L328.7 318.8L328.7 313.6L328.7 308.5L328.7 303.3L328.7 298.2L328.7 293.1L328.7 287.9L328.7 282.8L328.7 277.6L328.7 272.5L328.7 267.4L328.7 262.2L328.7 257.1L328.7 251.9L328.7 246.8L328.7 241.7L328.7 236.5L328.7 231.4L328.7 226.2L328.7 221.1L328.7 216.0L328.7 210.8L328.7 205.7L328.7 200.5L328.7 195.4L328.7 190.3L328.7 185.1L328.7 180.0L328.7 174.8L328.7 169.7L328.7 164.6L328.7 159.4L328.7 154.3L328.7 149.1L328.7 144.0L328.7 138.9L328.7 133.7ZM516.7 149.0L516.7 149.1L516.2 154.3L515.8 159.4L514.2 164.6L509.3 169.7L510.3 174.8L510.1 180.0L509.2 180.7L507.7 185.1L502.1 190.3L501.7 190.6L494.2 192.9L486.7 191.8L479.1 195.2L476.8 195.4L471.6 196.8L464.1 198.9L456.6 198.8L449.1 200.5L449.1 200.5L447.0 205.7L442.2 210.8L441.5 211.6L437.2 216.0L434.0 221.0L433.9 221.1L434.0 221.3L435.7 226.2L436.7 231.4L435.8 236.5L435.6 241.7L438.8 246.8L441.5 249.1L448.8 251.9L449.1 252.0L455.6 257.1L456.6 258.3L459.8 262.2L462.3 267.4L463.7 272.5L464.1 273.6L465.2 277.6L467.0 282.8L468.5 287.9L470.0 293.1L471.6 295.7L474.0 298.2L479.1 302.5L480.3 303.3L486.7 308.4L486.8 308.5L490.8 313.6L492.3 318.8L493.8 323.9L494.2 324.4L498.3 329.0L501.7 330.5L509.2 334.2L509.2 334.2L516.7 336.0L524.3 335.1L530.0 334.2L531.8 333.5L539.3 333.0L546.8 329.9L548.9 329.0L551.9 323.9L550.0 318.8L547.3 313.6L546.8 312.1L545.3 308.5L544.4 303.3L544.8 298.2L545.9 293.1L546.8 289.1L547.0 287.9L548.1 282.8L549.2 277.6L549.8 272.5L550.0 267.4L550.2 262.2L550.6 257.1L550.8 251.9L550.7 246.8L550.3 241.7L549.7 236.5L548.8 231.4L547.7 226.2L546.8 222.3L546.5 221.1L545.2 216.0L543.7 210.8L542.3 205.7L541.3 200.5L540.6 195.4L539.9 190.3L539.3 186.7L539.1 185.1L538.0 180.0L536.3 174.8L533.7 169.7L531.8 166.8L530.4 164.6L528.0 159.4L526.1 154.3L524.3 149.2L524.2 149.1Z" fill="#4853f5"/>
<path d="M328.7 128.6L336.3 128.6L343.8 128.6L351.3 128.6L358.8 128.6L366.3 128.6L373.9 128.6L381.4 128.6L388.9 128.6L396.4 128.6L403.9 128.6L411.5 128.6L419.0 128.6L426.5 128.6L426.7 128.6L426.5 129.0L424.7 133.7L422.4 138.9L419.8 144.0L419.0 145.3L417.6 149.1L416.1 154.3L415.1 159.4L414.8 164.6L417.1 169.7L419.0 170.8L426.5 174.4L428.0 174.8L434.0 175.3L434.3 174.8L437.2 169.7L441.5 166.5L442.5 164.6L443.5 159.4L449.1 155.5L456.6 159.4L464.1 157.9L471.6 154.9L472.5 154.3L477.4 149.1L479.1 147.8L483.1 144.0L486.7 140.9L487.5 138.9L488.9 133.7L492.0 128.6L494.2 128.6L501.7 128.6L509.2 128.6L516.7 128.6L524.3 128.6L531.8 128.6L539.3 128.6L546.8 128.6L554.3 128.6L561.9 128.6L569.4 128.6L576.9 128.6L584.4 128.6L591.9 128.6L599.5 128.6L607.0 128.6L614.5 128.6L614.5 133.7L614.5 138.9L614.5 144.0L614.5 149.1L614.5 154.3L614.5 159.4L614.5 164.6L614.5 169.7L614.5 174.8L614.5 180.0L614.5 185.1L614.5 190.3L614.5 195.4L614.5 200.5L614.5 205.7L614.5 210.8L614.5 216.0L614.5 221.1L614.5 226.2L614.5 231.4L614.5 236.5L614.5 241.7L614.5 246.8L614.5 251.9L614.5 257.1L614.5 262.2L614.5 267.4L614.5 272.5L614.5 277.6L614.5 282.8L614.5 287.9L614.5 293.1L614.5 298.2L614.5 303.3L614.5 308.5L614.5 313.6L614.5 318.8L614.5 323.9L614.5 329.0L614.5 334.2L614.5 339.3L614.5 344.5L614.5 349.6L614.5 354.7L614.5 359.9L614.5 365.0L614.5 370.2L614.5 375.3L614.5 380.4L614.5 385.6L614.5 390.7L614.5 395.9L614.5 401.0L614.5 406.1L614.5 411.3L614.5 416.4L614.5 421.6L614.5 426.7L614.5 431.8L614.5 437.0L614.5 442.1L614.5 447.3L614.5 452.4L614.5 457.5L614.5 462.7L614.5 467.8L614.5 473.0L614.5 478.1L614.5 483.2L614.5 488.4L614.5 493.5L614.5 498.7L607.0 498.7L599.5 498.7L591.9 498.7L584.4 498.7L576.9 498.7L569.4 498.7L561.9 498.7L554.3 498.7L546.8 498.7L539.3 498.7L531.8 498.7L524.3 498.7L516.7 498.7L509.2 498.7L501.7 498.7L494.2 498.7L486.7 498.7L479.1 498.7L471.6 498.7L464.1 498.7L456.6 498.7L449.1 498.7L441.5 498.7L434.0 498.7L426.5 498.7L419.0 498.7L411.5 498.7L403.9 498.7L396.4 498.7L388.9 498.7L381.4 498.7L373.9 498.7L366.3 498.7L358.8 498.7L351.3 498.7L343.8 498.7L336.3 498.7L328.7 498.7L328.7 493.5L328.7 488.4L328.7 483.2L328.7 478.1L328.7 473.0L328.7 467.8L328.7 462.7L328.7 457.5L328.7 452.4L328.7 447.3L328.7 442.1L328.7 437.0L328.7 431.8L328.7 426.7L328.7 421.6L328.7 416.4L328.7 411.3L328.7 406.1L328.7 401.0L328.7 395.9L328.7 390.7L328.7 385.6L328.7 380.4L328.7 375.3L328.7 370.2L328.7 365.0L328.7 359.9L328.7 354.7L328.7 349.6L328.7 344.5L328.7 339.3L328.7 334.2L328.7 329.0L328.7 323.9L328.7 318.8L328.7 313.6L328.7 308.5L328.7 303.3L328.7 298.2L328.7 293.1L328.7 287.9L328.7 282.8L328.7 277.6L328.7 272.5L328.7 267.4L328.7 262.2L328.7 257.1L328.7 251.9L328.7 246.8L328.7 241.7L328.7 236.5L328.7 231.4L328.7 226.2L328.7 221.1L328.7 216.0L328.7 210.8L328.7 205.7L328.7 200.5L328.7 195.4L328.7 190.3L328.7 185.1L328.7 180.0L328.7 174.8L328.7 169.7L328.7 164.6L328.7 159.4L328.7 154.3L328.7 149.1L328.7 144.0L328.7 138.9L328.7 133.7ZM516.7 148.8L516.5 149.1L516.0 154.3L515.5 159.4L513.8 164.6L509.2 169.3L509.1 169.7L509.2 173.9L509.4 174.8L509.2 179.1L509.2 180.0L507.5 185.1L501.7 190.1L500.8 190.3L494.2 192.5L486.7 191.3L479.1 195.1L475.1 195.4L471.6 196.3L464.1 198.7L456.6 198.6L449.1 200.1L448.8 200.5L446.6 205.7L441.5 210.7L441.5 210.8L436.1 216.0L434.0 219.3L432.0 221.1L433.9 226.2L434.0 226.7L435.1 231.4L434.1 236.5L434.0 237.2L433.7 241.7L434.0 242.4L436.3 246.8L441.5 251.2L443.5 251.9L449.1 254.6L452.2 257.1L456.4 262.2L456.6 262.7L458.6 267.4L459.8 272.5L461.7 277.6L464.1 282.8L464.1 282.9L465.6 287.9L466.9 293.1L470.0 298.2L471.6 300.2L475.3 303.3L479.1 306.5L481.6 308.5L485.8 313.6L486.7 316.3L487.5 318.8L488.9 323.9L492.4 329.0L494.2 330.1L501.7 333.2L503.7 334.2L509.2 335.8L516.7 337.4L524.3 336.6L531.8 335.5L539.3 335.4L544.8 334.2L546.8 333.3L554.3 330.0L556.7 329.0L558.6 323.9L556.1 318.8L554.3 316.2L552.7 313.6L551.0 308.5L550.6 303.3L551.1 298.2L551.9 293.1L552.4 287.9L552.9 282.8L553.5 277.6L553.8 272.5L554.0 267.4L554.2 262.2L554.3 259.9L554.5 257.1L554.7 251.9L554.6 246.8L554.3 242.2L554.3 241.7L553.7 236.5L552.9 231.4L551.9 226.2L550.7 221.1L549.4 216.0L548.0 210.8L546.8 206.2L546.7 205.7L545.4 200.5L544.4 195.4L543.5 190.3L542.4 185.1L541.0 180.0L539.3 175.7L539.0 174.8L536.7 169.7L533.4 164.6L531.8 161.5L530.8 159.4L529.2 154.3L527.5 149.1L524.3 146.2Z" fill="#4759f8"/>
<path d="M328.7 128.6L336.3 128.6L343.8 128.6L351.3 128.6L358.8 128.6L366.3 128.6L373.9 128.6L381.4 128.6L388.9 128.6L396.4 128.6L403.9 128.6L411.5 128.6L419.0 128.6L420.2 128.6L419.0 131.8L418.4 133.7L416.8 138.9L415.4 144.0L414.2 149.1L413.4 154.3L412.9 159.4L412.9 164.6L415.0 169.7L419.0 172.1L424.7 174.8L426.5 175.0L434.0 175.6L434.5 174.8L437.9 169.7L441.5 167.0L442.8 164.6L444.1 159.4L449.1 155.9L455.8 159.4L456.6 159.6L458.8 159.4L464.1 158.4L471.6 155.1L472.7 154.3L478.1 149.1L479.1 148.4L483.6 144.0L486.7 141.3L487.7 138.9L489.3 133.7L493.0 128.6L494.2 128.6L501.7 128.6L509.2 128.6L516.7 128.6L524.3 128.6L531.8 128.6L539.3 128.6L546.8 128.6L554.3 128.6L561.9 128.6L569.4 128.6L576.9 128.6L584.4 128.6L591.9 128.6L599.5 128.6L607.0 128.6L614.5 128.6L614.5 133.7L614.5 138.9L614.5 144.0L614.5 149.1L614.5 154.3L614.5 159.4L614.5 164.6L614.5 169.7L614.5 174.8L614.5 180.0L614.5 185.1L614.5 190.3L614.5 195.4L614.5 200.5L614.5 205.7L614.5 210.8L614.5 216.0L614.5 221.1L614.5 226.2L614.5 231.4L614.5 236.5L614.5 241.7L614.5 246.8L614.5 251.9L614.5 257.1L614.5 262.2L614.5 267.4L614.5 272.5L614.5 277.6L614.5 282.8L614.5 287.9L614.5 293.1L614.5 298.2L614.5 303.3L614.5 308.5L614.5 313.6L614.5 318.8L614.5 323.9L614.5 329.0L614.5 334.2L614.5 339.3L614.5 344.5L614.5 349.6L614.5 354.7L614.5 359.9L614.5 365.0L614.5 370.2L614.5 375.3L614.5 380.4L614.5 385.6L614.5 390.7L614.5 395.9L614.5 401.0L614.5 406.1L614.5 411.3L614.5 416.4L614.5 421.6L614.5 426.7L614.5 431.8L614.5 437.0L614.5 442.1L614.5 447.3L614.5 452.4L614.5 457.5L614.5 462.7L614.5 467.8L614.5 473.0L614.5 478.1L614.5 483.2L614.5 488.4L614.5 493.5L614.5 498.7L607.0 498.7L599.5 498.7L591.9 498.7L584.4 498.7L576.9 498.7L569.4 498.7L561.9 498.7L554.3 498.7L546.8 498.7L539.3 498.7L531.8 498.7L524.3 498.7L516.7 498.7L509.2 498.7L501.7 498.7L494.2 498.7L486.7 498.7L479.1 498.7L471.6 498.7L464.1 498.7L456.6 498.7L449.1 498.7L441.5 498.7L434.0 498.7L426.5 498.7L419.0 498.7L411.5 498.7L403.9 498.7L396.4 498.7L388.9 498.7L381.4 498.7L373.9 498.7L366.3 498.7L358.8 498.7L351.3 498.7L343.8 498.7L336.3 498.7L328.7 498.7L328.7 493.5L328.7 488.4L328.7 483.2L328.7 478.1L328.7 473.0L328.7 467.8L328.7 462.7L328.7 457.5L328.7 452.4L328.7 447.3L328.7 442.1L328.7 437.0L328.7 431.8L328.7 426.7L328.7 421.6L328.7 416.4L328.7 411.3L328.7 406.1L328.7 401.0L328.7 395.9L328.7 390.7L328.7 385.6L328.7 380.4L328.7 375.3L328.7 370.2L328.7 365.0L328.7 359.9L328.7 354.7L328.7 349.6L328.7 344.5L328.7 339.3L328.7 334.2L328.7 329.0L328.7 323.9L328.7 318.8L328.7 313.6L328.7 308.5L328.7 303.3L328.7 298.2L328.7 293.1L328.7 287.9L328.7 282.8L328.7 277.6L328.7 272.5L328.7 267.4L328.7 262.2L328.7 257.1L328.7 251.9L328.7 246.8L328.7 241.7L328.7 236.5L328.7 231.4L328.7 226.2L328.7 221.1L328.7 216.0L328.7 210.8L328.7 205.7L328.7 200.5L328.7 195.4L328.7 190.3L328.7 185.1L328.7 180.0L328.7 174.8L328.7 169.7L328.7 164.6L328.7 159.4L328.7 154.3L328.7 149.1L328.7 144.0L328.7 138.9L328.7 133.7ZM524.3 143.7L524.2 144.0L516.7 148.5L516.3 149.1L515.8 154.3L515.3 159.4L513.3 164.6L509.2 168.8L508.9 169.7L509.1 174.8L509.0 180.0L507.3 185.1L501.7 189.9L499.5 190.3L494.2 192.0L486.7 190.8L479.1 194.9L473.3 195.4L471.6 195.9L464.1 198.5L456.6 198.3L449.1 199.6L448.6 200.5L446.3 205.7L441.5 210.4L441.2 210.8L435.0 216.0L434.0 217.5L430.0 221.1L431.7 226.2L433.3 231.4L432.3 236.5L432.0 241.7L433.8 246.8L434.0 247.1L439.5 251.9L441.5 253.6L448.7 257.1L449.1 257.4L452.6 262.2L451.3 267.4L454.9 272.5L456.6 274.4L457.9 277.6L460.6 282.8L462.7 287.9L463.9 293.1L464.1 293.5L466.8 298.2L470.7 303.3L471.6 304.5L476.4 308.5L479.1 311.3L481.1 313.6L482.8 318.8L484.1 323.9L486.7 328.8L486.8 329.0L494.2 333.5L495.9 334.2L501.7 335.3L509.2 337.3L516.7 338.9L524.3 338.1L531.8 337.1L539.3 337.1L546.8 335.5L552.3 334.2L554.3 333.3L561.9 330.5L563.2 329.0L563.9 323.9L562.1 318.8L561.9 318.4L558.5 313.6L556.6 308.5L556.3 303.3L556.7 298.2L557.3 293.1L557.5 287.9L557.7 282.8L557.9 277.6L558.1 272.5L558.3 267.4L558.4 262.2L558.6 257.1L558.7 251.9L558.6 246.8L558.3 241.7L557.7 236.5L557.0 231.4L556.0 226.2L554.9 221.1L554.3 218.9L553.6 216.0L552.2 210.8L550.9 205.7L549.5 200.5L548.3 195.4L547.0 190.3L546.8 189.5L545.7 185.1L544.2 180.0L542.3 174.8L539.7 169.7L539.3 169.0L536.9 164.6L534.2 159.4L532.2 154.3L531.8 152.7L530.8 149.1L526.3 144.0Z" fill="#465ffb"/>
<path d="M328.7 128.6L336.3 128.6L343.8 128.6L351.3 128.6L358.8 128.6L366.3 128.6L373.9 128.6L381.4 128.6L388.9 128.6L396.4 128.6L403.9 128.6L411.5 128.6L414.3 128.6L413.0 133.7L412.0 138.9L411.5 141.9L411.2 144.0L410.7 149.1L410.6 154.3L410.6 159.4L410.8 164.6L411.5 166.1L412.9 169.7L419.0 173.4L422.0 174.8L426.5 175.2L434.0 176.0L434.7 174.8L438.5 169.7L441.5 167.5L443.0 164.6L444.7 159.4L449.1 156.3L455.0 159.4L456.6 159.8L461.1 159.4L464.1 158.8L471.6 155.2L472.9 154.3L478.8 149.1L479.1 148.9L484.2 144.0L486.7 141.8L487.8 138.9L489.6 133.7L494.0 128.6L494.2 128.6L501.7 128.6L509.2 128.6L516.7 128.6L524.3 128.6L531.8 128.6L539.3 128.6L546.8 128.6L554.3 128.6L561.9 128.6L569.4 128.6L576.9 128.6L584.4 128.6L591.9 128.6L599.5 128.6L607.0 128.6L614.5 128.6L614.5 133.7L614.5 138.9L614.5 144.0L614.5 149.1L614.5 154.3L614.5 159.4L614.5 164.6L614.5 169.7L614.5 174.8L614.5 180.0L614.5 185.1L614.5 190.3L614.5 195.4L614.5 200.5L614.5 205.7L614.5 210.8L614.5 216.0L614.5 221.1L614.5 226.2L614.5 231.4L614.5 236.5L614.5 241.7L614.5 246.8L614.5 251.9L614.5 257.1L614.5 262.2L614.5 267.4L614.5 272.5L614.5 277.6L614.5 282.8L614.5 287.9L614.5 293.1L614.5 298.2L614.5 303.3L614.5 308.5L614.5 313.6L614.5 318.8L614.5 323.9L614.5 329.0L614.5 334.2L614.5 339.3L614.5 344.5L614.5 349.6L614.5 354.7L614.5 359.9L614.5 365.0L614.5 370.2L614.5 375.3L614.5 380.4L614.5 385.6L614.5 390.7L614.5 395.9L614.5 401.0L614.5 406.1L614.5 411.3L614.5 416.4L614.5 421.6L614.5 426.7L614.5 431.8L614.5 437.0L614.5 442.1L614.5 447.3L614.5 452.4L614.5 457.5L614.5 462.7L614.5 467.8L614.5 473.0L614.5 478.1L614.5 483.2L614.5 488.4L614.5 493.5L614.5 498.7L607.0 498.7L599.5 498.7L591.9 498.7L584.4 498.7L576.9 498.7L569.4 498.7L561.9 498.7L554.3 498.7L546.8 498.7L539.3 498.7L531.8 498.7L524.3 498.7L516.7 498.7L509.2 498.7L501.7 498.7L494.2 498.7L486.7 498.7L479.1 498.7L471.6 498.7L464.1 498.7L456.6 498.7L449.1 498.7L441.5 498.7L434.0 498.7L426.5 498.7L419.0 498.7L411.5 498.7L403.9 498.7L396.4 498.7L388.9 498.7L381.4 498.7L373.9 498.7L366.3 498.7L358.8 498.7L351.3 498.7L343.8 498.7L336.3 498.7L328.7 498.7L328.7 493.5L328.7 488.4L328.7 483.2L328.7 478.1L328.7 473.0L328.7 467.8L328.7 462.7L328.7 457.5L328.7 452.4L328.7 447.3L328.7 442.1L328.7 437.0L328.7 431.8L328.7 426.7L328.7 421.6L328.7 416.4L328.7 411.3L328.7 406.1L328.7 401.0L328.7 395.9L328.7 390.7L328.7 385.6L328.7 380.4L328.7 375.3L328.7 370.2L328.7 365.0L328.7 359.9L328.7 354.7L328.7 349.6L328.7 344.5L328.7 339.3L328.7 334.2L328.7 329.0L328.7 323.9L328.7 318.8L328.7 313.6L328.7 308.5L328.7 303.3L328.7 298.2L328.7 293.1L328.7 287.9L328.7 282.8L328.7 277.6L328.7 272.5L328.7 267.4L328.7 262.2L328.7 257.1L328.7 251.9L328.7 246.8L328.7 241.7L328.7 236.5L328.7 231.4L328.7 226.2L328.7 221.1L328.7 216.0L328.7 210.8L328.7 205.7L328.7 200.5L328.7 195.4L328.7 190.3L328.7 185.1L328.7 180.0L328.7 174.8L328.7 169.7L328.7 164.6L328.7 159.4L328.7 154.3L328.7 149.1L328.7 144.0L328.7 138.9L328.7 133.7ZM531.8 138.6L531.7 138.9L524.3 142.7L523.8 144.0L516.7 148.3L516.1 149.1L515.6 154.3L515.1 159.4L512.9 164.6L509.2 168.4L508.7 169.7L508.9 174.8L508.9 180.0L507.0 185.1L501.7 189.7L498.1 190.3L494.2 191.6L486.7 190.3L486.7 190.3L486.7 190.3L479.1 194.8L471.6 195.4L471.6 195.4L464.1 198.3L456.6 198.1L449.1 199.2L448.4 200.5L445.9 205.7L441.5 210.0L441.0 210.8L434.0 215.9L433.7 216.0L428.0 221.1L429.5 226.2L431.2 231.4L430.5 236.5L430.2 241.7L431.7 246.8L434.0 249.9L436.3 251.9L441.5 256.2L443.3 257.1L448.5 262.2L445.0 267.4L447.8 272.5L449.1 273.9L453.3 277.6L456.6 281.7L457.2 282.8L459.8 287.9L461.4 293.1L463.6 298.2L464.1 299.2L467.1 303.3L471.1 308.5L471.6 309.2L475.8 313.6L478.0 318.8L479.1 322.9L479.4 323.9L482.0 329.0L486.7 333.0L488.7 334.2L494.2 335.8L501.7 337.0L509.2 338.9L511.2 339.3L516.7 340.2L524.3 339.5L526.6 339.3L531.8 338.7L539.3 338.9L546.8 337.2L554.3 335.4L561.9 334.4L562.3 334.2L567.0 329.0L568.0 323.9L566.9 318.8L564.3 313.6L562.4 308.5L561.9 303.3L562.1 298.2L562.3 293.1L562.4 287.9L562.4 282.8L562.5 277.6L562.5 272.5L562.6 267.4L562.6 262.2L562.7 257.1L562.7 251.9L562.5 246.8L562.2 241.7L561.9 238.0L561.7 236.5L561.0 231.4L560.1 226.2L559.0 221.1L557.8 216.0L556.4 210.8L555.0 205.7L554.3 203.2L553.6 200.5L552.2 195.4L550.8 190.3L549.3 185.1L547.6 180.0L546.8 178.2L545.6 174.8L543.2 169.7L540.4 164.6L539.3 162.4L537.9 159.4L536.0 154.3L534.5 149.1L533.2 144.0L531.9 138.9Z" fill="#4464fd"/>
<path d="M328.7 128.6L336.3 128.6L343.8 128.6L351.3 128.6L358.8 128.6L366.3 128.6L373.9 128.6L381.4 128.6L388.9 128.6L396.4 128.6L403.9 128.6L408.9 128.6L408.0 133.7L407.4 138.9L407.2 144.0L407.3 149.1L407.6 154.3L408.0 159.4L408.4 164.6L410.7 169.7L411.5 170.2L419.0 174.7L419.3 174.8L426.5 175.4L434.0 176.3L434.9 174.8L439.2 169.7L441.5 168.0L443.3 164.6L445.2 159.4L449.1 156.7L454.3 159.4L456.6 160.0L463.4 159.4L464.1 159.3L471.6 155.4L473.1 154.3L479.1 149.2L479.2 149.1L484.7 144.0L486.7 142.3L488.0 138.9L490.0 133.7L494.2 128.9L494.3 128.6L501.7 128.6L509.2 128.6L516.7 128.6L524.3 128.6L531.8 128.6L531.5 133.7L529.7 138.9L524.3 141.7L523.4 144.0L516.7 148.1L515.9 149.1L515.4 154.3L514.8 159.4L512.5 164.6L509.2 167.9L508.6 169.7L508.8 174.8L508.7 180.0L506.8 185.1L501.7 189.5L496.8 190.3L494.2 191.1L489.3 190.3L486.7 190.1L486.4 190.3L479.1 194.6L471.6 195.3L471.1 195.4L464.1 198.1L456.6 197.8L449.1 198.7L448.2 200.5L445.6 205.7L441.5 209.7L440.7 210.8L434.0 215.7L430.8 216.0L426.5 220.5L426.1 221.1L426.5 223.0L427.3 226.2L429.1 231.4L428.7 236.5L428.5 241.7L429.6 246.8L433.2 251.9L434.0 252.7L439.4 257.1L441.3 262.2L440.9 267.4L441.5 269.2L443.9 272.5L448.4 277.6L449.1 278.4L453.3 282.8L456.6 287.5L456.8 287.9L458.8 293.1L460.9 298.2L463.6 303.3L464.1 304.2L467.2 308.5L470.6 313.6L471.6 315.9L473.2 318.8L475.0 323.9L477.5 329.0L479.1 330.8L483.1 334.2L486.7 335.7L494.2 337.8L501.7 338.8L504.0 339.3L509.2 340.3L516.7 341.4L524.3 340.7L531.8 340.0L539.3 340.2L545.0 339.3L546.8 338.9L554.3 337.0L561.9 336.1L566.1 334.2L569.4 330.6L570.3 329.0L571.2 323.9L571.0 318.8L569.8 313.6L569.4 311.6L568.3 308.5L567.4 303.3L567.2 298.2L567.1 293.1L567.1 287.9L567.0 282.8L566.9 277.6L566.9 272.5L566.9 267.4L566.9 262.2L566.8 257.1L566.8 251.9L566.6 246.8L566.2 241.7L565.7 236.5L565.0 231.4L564.1 226.2L563.1 221.1L561.9 216.0L561.9 215.9L560.6 210.8L559.2 205.7L557.7 200.5L556.2 195.4L554.7 190.3L554.3 189.3L553.1 185.1L551.3 180.0L549.2 174.8L546.8 169.8L546.8 169.7L544.3 164.6L541.8 159.4L539.7 154.3L539.3 153.0L538.2 149.1L537.1 144.0L535.9 138.9L534.5 133.7L532.0 128.6L539.3 128.6L546.8 128.6L554.3 128.6L561.9 128.6L569.4 128.6L576.9 128.6L584.4 128.6L591.9 128.6L599.5 128.6L607.0 128.6L614.5 128.6L614.5 133.7L614.5 138.9L614.5 144.0L614.5 149.1L614.5 154.3L614.5 159.4L614.5 164.6L614.5 169.7L614.5 174.8L614.5 180.0L614.5 185.1L614.5 190.3L614.5 195.4L614.5 200.5L614.5 205.7L614.5 210.8L614.5 216.0L614.5 221.1L614.5 226.2L614.5 231.4L614.5 236.5L614.5 241.7L614.5 246.8L614.5 251.9L614.5 257.1L614.5 262.2L614.5 267.4L614.5 272.5L614.5 277.6L614.5 282.8L614.5 287.9L614.5 293.1L614.5 298.2L614.5 303.3L614.5 308.5L614.5 313.6L614.5 318.8L614.5 323.9L614.5 329.0L614.5 334.2L614.5 339.3L614.5 344.5L614.5 349.6L614.5 354.7L614.5 359.9L614.5 365.0L614.5 370.2L614.5 375.3L614.5 380.4L614.5 385.6L614.5 390.7L614.5 395.9L614.5 401.0L614.5 406.1L614.5 411.3L614.5 416.4L614.5 421.6L614.5 426.7L614.5 431.8L614.5 437.0L614.5 442.1L614.5 447.3L614.5 452.4L614.5 457.5L614.5 462.7L614.5 467.8L614.5 473.0L614.5 478.1L614.5 483.2L614.5 488.4L614.5 493.5L614.5 498.7L607.0 498.7L599.5 498.7L591.9 498.7L584.4 498.7L576.9 498.7L569.4 498.7L561.9 498.7L554.3 498.7L546.8 498.7L539.3 498.7L531.8 498.7L524.3 498.7L516.7 498.7L509.2 498.7L501.7 498.7L494.2 498.7L486.7 498.7L479.1 498.7L471.6 498.7L464.1 498.7L456.6 498.7L449.1 498.7L441.5 498.7L434.0 498.7L426.5 498.7L419.0 498.7L411.5 498.7L403.9 498.7L396.4 498.7L388.9 498.7L381.4 498.7L373.9 498.7L366.3 498.7L358.8 498.7L351.3 498.7L343.8 498.7L336.3 498.7L328.7 498.7L328.7 493.5L328.7 488.4L328.7 483.2L328.7 478.1L328.7 473.0L328.7 467.8L328.7 462.7L328.7 457.5L328.7 452.4L328.7 447.3L328.7 442.1L328.7 437.0L328.7 431.8L328.7 426.7L328.7 421.6L328.7 416.4L328.7 411.3L328.7 406.1L328.7 401.0L328.7 395.9L328.7 390.7L328.7 385.6L328.7 380.4L328.7 375.3L328.7 370.2L328.7 365.0L328.7 359.9L328.7 354.7L328.7 349.6L328.7 344.5L328.7 339.3L328.7 334.2L328.7 329.0L328.7 323.9L328.7 318.8L328.7 313.6L328.7 308.5L328.7 303.3L328.7 298.2L328.7 293.1L328.7 287.9L328.7 282.8L328.7 277.6L328.7 272.5L328.7 267.4L328.7 262.2L328.7 257.1L328.7 251.9L328.7 246.8L328.7 241.7L328.7 236.5L328.7 231.4L328.7 226.2L328.7 221.1L328.7 216.0L328.7 210.8L328.7 205.7L328.7 200.5L328.7 195.4L328.7 190.3L328.7 185.1L328.7 180.0L328.7 174.8L328.7 169.7L328.7 164.6L328.7 159.4L328.7 154.3L328.7 149.1L328.7 144.0L328.7 138.9L328.7 133.7Z" fill="#416afe"/>
<path d="M328.7 128.6L336.3 128.6L343.8 128.6L351.3 128.6L358.8 128.6L366.3 128.6L373.9 128.6L381.4 128.6L388.9 128.6L396.4 128.6L403.7 128.6L403.1 133.7L402.9 138.9L403.2 144.0L403.9 149.1L403.9 149.5L404.7 154.3L405.4 159.4L406.0 164.6L407.9 169.7L411.5 171.9L416.4 174.8L419.0 175.1L426.5 175.6L434.0 176.7L435.1 174.8L439.9 169.7L441.5 168.5L443.5 164.6L445.8 159.4L449.1 157.1L453.5 159.4L456.6 160.2L464.1 159.5L464.3 159.4L471.6 155.5L473.3 154.3L479.1 149.4L479.5 149.1L485.2 144.0L486.7 142.7L488.2 138.9L490.4 133.7L494.2 129.4L494.5 128.6L501.7 128.6L509.2 128.6L516.7 128.6L524.3 128.6L531.5 128.6L531.1 133.7L527.7 138.9L524.3 140.6L522.9 144.0L516.7 147.8L515.7 149.1L515.2 154.3L514.6 159.4L512.0 164.6L509.2 167.5L508.4 169.7L508.6 174.8L508.5 180.0L506.5 185.1L501.7 189.3L495.4 190.3L494.2 190.7L491.9 190.3L486.7 190.0L486.2 190.3L479.1 194.5L471.6 195.2L470.5 195.4L464.1 197.9L456.6 197.6L449.1 198.3L448.0 200.5L445.2 205.7L441.5 209.3L440.4 210.8L434.0 215.6L427.9 216.0L426.5 217.4L424.5 221.1L425.2 226.2L426.5 230.1L426.9 231.4L427.0 236.5L426.7 241.7L427.5 246.8L430.4 251.9L434.0 255.2L436.3 257.1L439.1 262.2L439.1 267.4L440.7 272.5L441.5 274.1L444.9 277.6L449.1 282.4L449.4 282.8L453.5 287.9L456.2 293.1L456.6 293.9L458.3 298.2L460.8 303.3L463.5 308.5L464.1 309.9L466.5 313.6L469.0 318.8L470.9 323.9L471.6 325.7L473.3 329.0L478.1 334.2L479.1 334.7L486.7 337.9L492.4 339.3L494.2 339.6L501.7 340.3L509.2 341.6L516.7 342.6L524.3 341.9L531.8 341.2L539.3 341.4L546.8 340.3L551.7 339.3L554.3 338.7L561.9 337.7L569.4 334.4L569.7 334.2L572.6 329.0L574.0 323.9L574.3 318.8L573.7 313.6L572.9 308.5L572.2 303.3L571.9 298.2L571.7 293.1L571.6 287.9L571.5 282.8L571.3 277.6L571.2 272.5L571.2 267.4L571.1 262.2L571.0 257.1L570.8 251.9L570.6 246.8L570.2 241.7L569.7 236.5L569.4 234.0L569.0 231.4L568.2 226.2L567.2 221.1L566.0 216.0L564.7 210.8L563.3 205.7L561.9 200.6L561.9 200.5L560.3 195.4L558.7 190.3L557.0 185.1L555.1 180.0L554.3 178.1L553.1 174.8L550.8 169.7L548.4 164.6L546.8 161.3L546.0 159.4L544.0 154.3L542.4 149.1L541.2 144.0L540.1 138.9L539.3 135.1L539.0 133.7L537.7 128.6L539.3 128.6L546.8 128.6L554.3 128.6L561.9 128.6L569.4 128.6L576.9 128.6L584.4 128.6L591.9 128.6L599.5 128.6L607.0 128.6L614.5 128.6L614.5 133.7L614.5 138.9L614.5 144.0L614.5 149.1L614.5 154.3L614.5 159.4L614.5 164.6L614.5 169.7L614.5 174.8L614.5 180.0L614.5 185.1L614.5 190.3L614.5 195.4L614.5 200.5L614.5 205.7L614.5 210.8L614.5 216.0L614.5 221.1L614.5 226.2L614.5 231.4L614.5 236.5L614.5 241.7L614.5 246.8L614.5 251.9L614.5 257.1L614.5 262.2L614.5 267.4L614.5 272.5L614.5 277.6L614.5 282.8L614.5 287.9L614.5 293.1L614.5 298.2L614.5 303.3L614.5 308.5L614.5 313.6L614.5 318.8L614.5 323.9L614.5 329.0L614.5 334.2L614.5 339.3L614.5 344.5L614.5 349.6L614.5 354.7L614.5 359.9L614.5 365.0L614.5 370.2L614.5 375.3L614.5 380.4L614.5 385.6L614.5 390.7L614.5 395.9L614.5 401.0L614.5 406.1L614.5 411.3L614.5 416.4L614.5 421.6L614.5 426.7L614.5 431.8L614.5 437.0L614.5 442.1L614.5 447.3L614.5 452.4L614.5 457.5L614.5 462.7L614.5 467.8L614.5 473.0L614.5 478.1L614.5 483.2L614.5 488.4L614.5 493.5L614.5 498.7L607.0 498.7L599.5 498.7L591.9 498.7L584.4 498.7L576.9 498.7L569.4 498.7L561.9 498.7L554.3 498.7L546.8 498.7L539.3 498.7L531.8 498.7L524.3 498.7L516.7 498.7L509.2 498.7L501.7 498.7L494.2 498.7L486.7 498.7L479.1 498.7L471.6 498.7L464.1 498.7L456.6 498.7L449.1 498.7L441.5 498.7L434.0 498.7L426.5 498.7L419.0 498.7L411.5 498.7L403.9 498.7L396.4 498.7L388.9 498.7L381.4 498.7L373.9 498.7L366.3 498.7L358.8 498.7L351.3 498.7L343.8 498.7L336.3 498.7L328.7 498.7L328.7 493.5L328.7 488.4L328.7 483.2L328.7 478.1L328.7 473.0L328.7 467.8L328.7 462.7L328.7 457.5L328.7 452.4L328.7 447.3L328.7 442.1L328.7 437.0L328.7 431.8L328.7 426.7L328.7 421.6L328.7 416.4L328.7 411.3L328.7 406.1L328.7 401.0L328.7 395.9L328.7 390.7L328.7 385.6L328.7 380.4L328.7 375.3L328.7 370.2L328.7 365.0L328.7 359.9L328.7 354.7L328.7 349.6L328.7 344.5L328.7 339.3L328.7 334.2L328.7 329.0L328.7 323.9L328.7 318.8L328.7 313.6L328.7 308.5L328.7 303.3L328.7 298.2L328.7 293.1L328.7 287.9L328.7 282.8L328.7 277.6L328.7 272.5L328.7 267.4L328.7 262.2L328.7 257.1L328.7 251.9L328.7 246.8L328.7 241.7L328.7 236.5L328.7 231.4L328.7 226.2L328.7 221.1L328.7 216.0L328.7 210.8L328.7 205.7L328.7 200.5L328.7 195.4L328.7 190.3L328.7 185.1L328.7 180.0L328.7 174.8L328.7 169.7L328.7 164.6L328.7 159.4L328.7 154.3L328.7 149.1L328.7 144.0L328.7 138.9L328.7 133.7ZM539.3 399.4L536.5 401.0L531.8 405.2L531.4 406.1L527.9 411.3L524.3 415.1L523.8 416.4L524.3 417.3L531.8 419.7L535.4 416.4L537.5 411.3L539.3 408.6L539.7 406.1L539.9 401.0Z" fill="#3d71ff"/>
<path d="M328.7 128.6L336.3 128.6L343.8 128.6L351.3 128.6L358.8 128.6L366.3 128.6L373.9 128.6L381.4 128.6L388.9 128.6L396.4 128.6L398.8 128.6L398.4 133.7L398.4 138.9L398.9 144.0L399.9 149.1L401.3 154.3L402.6 159.4L403.5 164.6L403.9 165.8L405.2 169.7L411.5 173.7L413.4 174.8L419.0 175.3L426.5 175.8L434.0 177.0L435.3 174.8L440.6 169.7L441.5 169.0L443.8 164.6L446.4 159.4L449.1 157.5L452.7 159.4L456.6 160.4L464.1 159.7L464.6 159.4L471.6 155.7L473.5 154.3L479.1 149.6L479.7 149.1L485.7 144.0L486.7 143.2L488.4 138.9L490.7 133.7L494.2 129.8L494.7 128.6L501.7 128.6L509.2 128.6L516.7 128.6L524.3 128.6L531.3 128.6L530.7 133.7L525.7 138.9L524.3 139.6L522.5 144.0L516.7 147.6L515.5 149.1L515.0 154.3L514.3 159.4L511.6 164.6L509.2 167.0L508.3 169.7L508.4 174.8L508.3 180.0L506.3 185.1L501.7 189.1L494.2 190.2L486.7 189.9L485.9 190.3L479.1 194.4L471.6 195.0L469.9 195.4L464.1 197.7L456.6 197.3L449.1 197.9L447.8 200.5L444.9 205.7L441.5 209.0L440.2 210.8L434.0 215.4L426.5 215.7L425.8 216.0L422.9 221.1L423.2 226.2L424.7 231.4L424.8 236.5L424.6 241.7L425.3 246.8L426.5 249.8L427.6 251.9L432.9 257.1L434.0 257.9L437.0 262.2L437.2 267.4L438.5 272.5L441.4 277.6L441.5 277.9L446.1 282.8L449.1 286.6L450.1 287.9L453.3 293.1L455.6 298.2L456.6 300.5L457.9 303.3L460.5 308.5L462.8 313.6L464.1 316.7L465.1 318.8L467.3 323.9L469.7 329.0L471.6 332.1L473.4 334.2L479.1 337.2L484.6 339.3L486.7 339.8L494.2 341.2L501.7 341.7L509.2 342.9L516.7 343.8L524.3 343.1L531.8 342.4L539.3 342.6L546.8 341.5L554.3 340.0L561.9 339.4L562.1 339.3L569.4 336.2L571.8 334.2L575.0 329.0L576.8 323.9L576.9 322.9L577.4 318.8L577.5 313.6L577.1 308.5L576.9 305.2L576.7 303.3L576.4 298.2L576.1 293.1L575.9 287.9L575.8 282.8L575.7 277.6L575.5 272.5L575.4 267.4L575.3 262.2L575.1 257.1L574.9 251.9L574.7 246.8L574.3 241.7L573.8 236.5L573.1 231.4L572.3 226.2L571.3 221.1L570.1 216.0L569.4 212.8L568.9 210.8L567.5 205.7L566.1 200.5L564.5 195.4L562.8 190.3L561.9 187.5L561.1 185.1L559.2 180.0L557.2 174.8L554.9 169.7L554.3 168.4L552.7 164.6L550.4 159.4L548.4 154.3L546.8 149.3L546.8 149.1L545.6 144.0L544.5 138.9L543.6 133.7L542.7 128.6L546.8 128.6L554.3 128.6L561.9 128.6L569.4 128.6L576.9 128.6L584.4 128.6L591.9 128.6L599.5 128.6L607.0 128.6L614.5 128.6L614.5 133.7L614.5 138.9L614.5 144.0L614.5 149.1L614.5 154.3L614.5 159.4L614.5 164.6L614.5 169.7L614.5 174.8L614.5 180.0L614.5 185.1L614.5 190.3L614.5 195.4L614.5 200.5L614.5 205.7L614.5 210.8L614.5 216.0L614.5 221.1L614.5 226.2L614.5 231.4L614.5 236.5L614.5 241.7L614.5 246.8L614.5 251.9L614.5 257.1L614.5 262.2L614.5 267.4L614.5 272.5L614.5 277.6L614.5 282.8L614.5 287.9L614.5 293.1L614.5 298.2L614.5 303.3L614.5 308.5L614.5 313.6L614.5 318.8L614.5 323.9L614.5 329.0L614.5 334.2L614.5 339.3L614.5 344.5L614.5 349.6L614.5 354.7L614.5 359.9L614.5 365.0L614.5 370.2L614.5 375.3L614.5 380.4L614.5 385.6L614.5 390.7L614.5 395.9L614.5 401.0L614.5 406.1L614.5 411.3L614.5 416.4L614.5 421.6L614.5 426.7L614.5 431.8L614.5 437.0L614.5 442.1L614.5 447.3L614.5 452.4L614.5 457.5L614.5 462.7L614.5 467.8L614.5 473.0L614.5 478.1L614.5 483.2L614.5 488.4L614.5 493.5L614.5 498.7L607.0 498.7L599.5 498.7L591.9 498.7L584.4 498.7L576.9 498.7L569.4 498.7L561.9 498.7L554.3 498.7L546.8 498.7L539.3 498.7L531.8 498.7L524.3 498.7L516.7 498.7L509.2 498.7L501.7 498.7L494.2 498.7L486.7 498.7L479.1 498.7L471.6 498.7L464.1 498.7L456.6 498.7L449.1 498.7L441.5 498.7L434.0 498.7L426.5 498.7L419.0 498.7L411.5 498.7L403.9 498.7L396.4 498.7L388.9 498.7L381.4 498.7L373.9 498.7L366.3 498.7L358.8 498.7L351.3 498.7L343.8 498.7L336.3 498.7L328.7 498.7L328.7 493.5L328.7 488.4L328.7 483.2L328.7 478.1L328.7 473.0L328.7 467.8L328.7 462.7L328.7 457.5L328.7 452.4L328.7 447.3L328.7 442.1L328.7 437.0L328.7 431.8L328.7 426.7L328.7 421.6L328.7 416.4L328.7 411.3L328.7 406.1L328.7 401.0L328.7 395.9L328.7 390.7L328.7 385.6L328.7 380.4L328.7 375.3L328.7 370.2L328.7 365.0L328.7 359.9L328.7 354.7L328.7 349.6L328.7 344.5L328.7 339.3L328.7 334.2L328.7 329.0L328.7 323.9L328.7 318.8L328.7 313.6L328.7 308.5L328.7 303.3L328.7 298.2L328.7 293.1L328.7 287.9L328.7 282.8L328.7 277.6L328.7 272.5L328.7 267.4L328.7 262.2L328.7 257.1L328.7 251.9L328.7 246.8L328.7 241.7L328.7 236.5L328.7 231.4L328.7 226.2L328.7 221.1L328.7 216.0L328.7 210.8L328.7 205.7L328.7 200.5L328.7 195.4L328.7 190.3L328.7 185.1L328.7 180.0L328.7 174.8L328.7 169.7L328.7 164.6L328.7 159.4L328.7 154.3L328.7 149.1L328.7 144.0L328.7 138.9L328.7 133.7ZM531.8 395.0L529.8 395.9L526.7 401.0L525.1 406.1L524.3 407.0L521.1 411.3L520.3 416.4L522.9 421.6L524.3 422.9L531.8 425.2L539.0 421.6L539.3 421.2L542.0 416.4L543.1 411.3L543.5 406.1L544.1 401.0L543.5 395.9L539.3 393.6Z" fill="#3777fe"/>
<path d="M328.7 128.6L336.3 128.6L343.8 128.6L351.3 128.6L358.8 128.6L366.3 128.6L373.9 128.6L381.4 128.6L388.9 128.6L394.1 128.6L393.8 133.7L393.9 138.9L394.5 144.0L395.9 149.1L396.4 150.3L397.8 154.3L399.6 159.4L400.8 164.6L402.5 169.7L403.9 171.2L409.9 174.8L411.5 175.0L419.0 175.5L426.5 176.1L434.0 177.4L435.6 174.8L441.3 169.7L441.5 169.5L444.1 164.6L447.0 159.4L449.1 157.9L451.9 159.4L456.6 160.6L464.1 159.8L464.9 159.4L471.6 155.8L473.8 154.3L479.1 149.8L479.9 149.1L486.3 144.0L486.7 143.7L488.6 138.9L491.1 133.7L494.2 130.2L494.9 128.6L501.7 128.6L509.2 128.6L516.7 128.6L524.3 128.6L531.0 128.6L530.3 133.7L524.3 138.8L524.2 138.9L522.1 144.0L516.7 147.3L515.3 149.1L514.8 154.3L514.1 159.4L511.2 164.6L509.2 166.6L508.1 169.7L508.3 174.8L508.2 180.0L506.1 185.1L501.7 188.9L494.2 190.1L486.7 189.7L485.7 190.3L479.1 194.2L471.6 194.9L469.4 195.4L464.1 197.4L456.6 197.1L449.1 197.4L447.6 200.5L444.6 205.7L441.5 208.7L439.9 210.8L434.0 215.2L426.5 215.2L424.4 216.0L421.2 221.1L421.1 226.2L422.4 231.4L422.6 236.5L422.4 241.7L423.1 246.8L425.0 251.9L426.5 254.4L429.0 257.1L434.0 260.9L434.9 262.2L435.4 267.4L436.3 272.5L438.8 277.6L441.5 281.4L442.8 282.8L447.0 287.9L449.1 291.1L450.3 293.1L452.8 298.2L455.1 303.3L456.6 306.7L457.5 308.5L459.8 313.6L461.8 318.8L463.8 323.9L464.1 324.4L466.4 329.0L469.8 334.2L471.6 336.0L478.2 339.3L479.1 339.6L486.7 341.4L494.2 342.7L501.7 343.2L509.2 344.2L511.9 344.5L516.7 345.0L522.2 344.5L524.3 344.3L531.8 343.6L539.3 343.7L546.8 342.8L554.3 341.2L561.9 340.4L566.3 339.3L569.4 338.0L573.9 334.2L576.9 329.6L577.3 329.0L579.2 323.9L580.1 318.8L580.5 313.6L580.5 308.5L580.4 303.3L580.3 298.2L580.1 293.1L580.0 287.9L579.9 282.8L579.8 277.6L579.7 272.5L579.5 267.4L579.4 262.2L579.2 257.1L579.0 251.9L578.7 246.8L578.3 241.7L577.8 236.5L577.1 231.4L576.9 229.9L576.3 226.2L575.4 221.1L574.3 216.0L573.1 210.8L571.8 205.7L570.3 200.5L569.4 197.5L568.7 195.4L567.1 190.3L565.4 185.1L563.5 180.0L561.9 175.9L561.4 174.8L559.4 169.7L557.2 164.6L555.0 159.4L554.3 157.5L553.1 154.3L551.6 149.1L550.3 144.0L549.2 138.9L548.3 133.7L547.4 128.6L554.3 128.6L561.9 128.6L569.4 128.6L576.9 128.6L584.4 128.6L591.9 128.6L599.5 128.6L607.0 128.6L614.5 128.6L614.5 133.7L614.5 138.9L614.5 144.0L614.5 149.1L614.5 154.3L614.5 159.4L614.5 164.6L614.5 169.7L614.5 174.8L614.5 180.0L614.5 185.1L614.5 190.3L614.5 195.4L614.5 200.5L614.5 205.7L614.5 210.8L614.5 216.0L614.5 221.1L614.5 226.2L614.5 231.4L614.5 236.5L614.5 241.7L614.5 246.8L614.5 251.9L614.5 257.1L614.5 262.2L614.5 267.4L614.5 272.5L614.5 277.6L614.5 282.8L614.5 287.9L614.5 293.1L614.5 298.2L614.5 303.3L614.5 308.5L614.5 313.6L614.5 318.8L614.5 323.9L614.5 329.0L614.5 334.2L614.5 339.3L614.5 344.5L614.5 349.6L614.5 354.7L614.5 359.9L614.5 365.0L614.5 370.2L614.5 375.3L614.5 380.4L614.5 385.6L614.5 390.7L614.5 395.9L614.5 401.0L614.5 406.1L614.5 411.3L614.5 416.4L614.5 421.6L614.5 426.7L614.5 431.8L614.5 437.0L614.5 442.1L614.5 447.3L614.5 452.4L614.5 457.5L614.5 462.7L614.5 467.8L614.5 473.0L614.5 478.1L614.5 483.2L614.5 488.4L614.5 493.5L614.5 498.7L607.0 498.7L599.5 498.7L591.9 498.7L584.4 498.7L576.9 498.7L569.4 498.7L561.9 498.7L554.3 498.7L546.8 498.7L539.3 498.7L531.8 498.7L524.3 498.7L516.7 498.7L509.2 498.7L501.7 498.7L494.2 498.7L486.7 498.7L479.1 498.7L471.6 498.7L464.1 498.7L456.6 498.7L449.1 498.7L441.5 498.7L434.0 498.7L426.5 498.7L419.0 498.7L411.5 498.7L403.9 498.7L396.4 498.7L388.9 498.7L381.4 498.7L373.9 498.7L366.3 498.7L358.8 498.7L351.3 498.7L343.8 498.7L336.3 498.7L328.7 498.7L328.7 493.5L328.7 488.4L328.7 483.2L328.7 478.1L328.7 473.0L328.7 467.8L328.7 462.7L328.7 457.5L328.7 452.4L328.7 447.3L328.7 442.1L328.7 437.0L328.7 431.8L328.7 426.7L328.7 421.6L328.7 416.4L328.7 411.3L328.7 406.1L328.7 401.0L328.7 395.9L328.7 390.7L328.7 385.6L328.7 380.4L328.7 375.3L328.7 370.2L328.7 365.0L328.7 359.9L328.7 354.7L328.7 349.6L328.7 344.5L328.7 339.3L328.7 334.2L328.7 329.0L328.7 323.9L328.7 318.8L328.7 313.6L328.7 308.5L328.7 303.3L328.7 298.2L328.7 293.1L328.7 287.9L328.7 282.8L328.7 277.6L328.7 272.5L328.7 267.4L328.7 262.2L328.7 257.1L328.7 251.9L328.7 246.8L328.7 241.7L328.7 236.5L328.7 231.4L328.7 226.2L328.7 221.1L328.7 216.0L328.7 210.8L328.7 205.7L328.7 200.5L328.7 195.4L328.7 190.3L328.7 185.1L328.7 180.0L328.7 174.8L328.7 169.7L328.7 164.6L328.7 159.4L328.7 154.3L328.7 149.1L328.7 144.0L328.7 138.9L328.7 133.7ZM539.3 390.4L532.0 390.7L531.8 390.7L524.3 392.7L518.8 395.9L517.7 401.0L517.2 406.1L516.7 408.2L516.4 411.3L516.7 416.4L516.7 416.5L519.2 421.6L524.3 426.6L524.5 426.7L531.8 430.2L539.3 428.4L540.9 426.7L544.9 421.6L546.8 416.8L547.0 416.4L547.4 411.3L547.3 406.1L547.9 401.0L548.2 395.9L546.8 394.0L540.5 390.7Z" fill="#317dfc"/>
<path d="M328.7 128.6L336.3 128.6L343.8 128.6L351.3 128.6L358.8 128.6L366.3 128.6L373.9 128.6L381.4 128.6L388.9 128.6L389.6 128.6L389.3 133.7L389.3 138.9L389.9 144.0L391.2 149.1L393.5 154.3L396.4 158.9L396.6 159.4L398.1 164.6L399.7 169.7L403.9 174.1L405.2 174.8L411.5 175.3L419.0 175.8L426.5 176.3L434.0 177.7L435.8 174.8L441.5 169.8L441.7 169.7L444.3 164.6L447.5 159.4L449.1 158.3L451.1 159.4L456.6 160.9L464.1 160.0L465.2 159.4L471.6 156.0L474.0 154.3L479.1 149.9L480.1 149.1L486.7 144.0L486.7 144.0L488.8 138.9L491.5 133.7L494.2 130.6L495.1 128.6L501.7 128.6L509.2 128.6L516.7 128.6L524.3 128.6L530.8 128.6L529.9 133.7L524.3 138.4L524.0 138.9L521.7 144.0L516.7 147.1L515.1 149.1L514.6 154.3L513.9 159.4L510.7 164.6L509.2 166.1L507.9 169.7L508.1 174.8L508.0 180.0L505.8 185.1L501.7 188.7L494.2 189.9L486.7 189.6L485.5 190.3L479.1 194.1L471.6 194.8L468.8 195.4L464.1 197.2L456.6 196.8L449.1 197.0L447.4 200.5L444.2 205.7L441.5 208.3L439.7 210.8L434.0 215.0L426.5 214.7L423.0 216.0L419.6 221.1L419.1 226.2L420.0 231.4L420.3 236.5L420.2 241.7L420.9 246.8L422.6 251.9L425.6 257.1L426.5 258.4L431.3 262.2L433.2 267.4L434.0 271.5L434.2 272.5L436.3 277.6L439.8 282.8L441.5 285.0L443.9 287.9L447.3 293.1L449.1 296.4L449.9 298.2L452.3 303.3L454.6 308.5L456.6 313.4L456.7 313.6L458.7 318.8L460.8 323.9L463.3 329.0L464.1 330.3L466.7 334.2L471.6 339.1L472.2 339.3L479.1 341.5L486.7 343.0L494.2 344.2L498.7 344.5L501.7 344.6L509.2 345.5L516.7 346.4L524.3 345.5L531.8 344.7L539.3 344.9L543.1 344.5L546.8 344.0L554.3 342.4L561.9 341.5L569.4 339.6L569.9 339.3L576.0 334.2L576.9 332.8L579.4 329.0L581.5 323.9L582.8 318.8L583.6 313.6L583.9 308.5L584.1 303.3L584.1 298.2L584.1 293.1L584.0 287.9L584.0 282.8L583.9 277.6L583.8 272.5L583.6 267.4L583.5 262.2L583.3 257.1L583.1 251.9L582.8 246.8L582.4 241.7L581.9 236.5L581.2 231.4L580.4 226.2L579.5 221.1L578.5 216.0L577.3 210.8L576.9 209.2L576.0 205.7L574.6 200.5L573.1 195.4L571.5 190.3L569.7 185.1L569.4 184.2L567.9 180.0L566.0 174.8L564.0 169.7L561.9 164.6L561.9 164.5L559.9 159.4L558.1 154.3L556.5 149.1L555.2 144.0L554.3 140.0L554.1 138.9L553.3 133.7L552.5 128.6L554.3 128.6L561.9 128.6L569.4 128.6L576.9 128.6L584.4 128.6L591.9 128.6L599.5 128.6L607.0 128.6L614.5 128.6L614.5 133.7L614.5 138.9L614.5 144.0L614.5 149.1L614.5 154.3L614.5 159.4L614.5 164.6L614.5 169.7L614.5 174.8L614.5 180.0L614.5 185.1L614.5 190.3L614.5 195.4L614.5 200.5L614.5 205.7L614.5 210.8L614.5 216.0L614.5 221.1L614.5 226.2L614.5 231.4L614.5 236.5L614.5 241.7L614.5 246.8L614.5 251.9L614.5 257.1L614.5 262.2L614.5 267.4L614.5 272.5L614.5 277.6L614.5 282.8L614.5 287.9L614.5 293.1L614.5 298.2L614.5 303.3L614.5 308.5L614.5 313.6L614.5 318.8L614.5 323.9L614.5 329.0L614.5 334.2L614.5 339.3L614.5 344.5L614.5 349.6L614.5 354.7L614.5 359.9L614.5 365.0L614.5 370.2L614.5 375.3L614.5 380.4L614.5 385.6L614.5 390.7L614.5 395.9L614.5 401.0L614.5 406.1L614.5 411.3L614.5 416.4L614.5 421.6L614.5 426.7L614.5 431.8L614.5 437.0L614.5 442.1L614.5 447.3L614.5 452.4L614.5 457.5L614.5 462.7L614.5 467.8L614.5 473.0L614.5 478.1L614.5 483.2L614.5 488.4L614.5 493.5L614.5 498.7L607.0 498.7L599.5 498.7L591.9 498.7L584.4 498.7L576.9 498.7L569.4 498.7L561.9 498.7L554.3 498.7L546.8 498.7L539.3 498.7L531.8 498.7L524.3 498.7L516.7 498.7L509.2 498.7L501.7 498.7L494.2 498.7L486.7 498.7L479.1 498.7L471.6 498.7L464.1 498.7L456.6 498.7L449.1 498.7L441.5 498.7L434.0 498.7L426.5 498.7L419.0 498.7L411.5 498.7L403.9 498.7L396.4 498.7L388.9 498.7L381.4 498.7L373.9 498.7L366.3 498.7L358.8 498.7L351.3 498.7L343.8 498.7L336.3 498.7L328.7 498.7L328.7 493.5L328.7 488.4L328.7 483.2L328.7 478.1L328.7 473.0L328.7 467.8L328.7 462.7L328.7 457.5L328.7 452.4L328.7 447.3L328.7 442.1L328.7 437.0L328.7 431.8L328.7 426.7L328.7 421.6L328.7 416.4L328.7 411.3L328.7 406.1L328.7 401.0L328.7 395.9L328.7 390.7L328.7 385.6L328.7 380.4L328.7 375.3L328.7 370.2L328.7 365.0L328.7 359.9L328.7 354.7L328.7 349.6L328.7 344.5L328.7 339.3L328.7 334.2L328.7 329.0L328.7 323.9L328.7 318.8L328.7 313.6L328.7 308.5L328.7 303.3L328.7 298.2L328.7 293.1L328.7 287.9L328.7 282.8L328.7 277.6L328.7 272.5L328.7 267.4L328.7 262.2L328.7 257.1L328.7 251.9L328.7 246.8L328.7 241.7L328.7 236.5L328.7 231.4L328.7 226.2L328.7 221.1L328.7 216.0L328.7 210.8L328.7 205.7L328.7 200.5L328.7 195.4L328.7 190.3L328.7 185.1L328.7 180.0L328.7 174.8L328.7 169.7L328.7 164.6L328.7 159.4L328.7 154.3L328.7 149.1L328.7 144.0L328.7 138.9L328.7 133.7ZM516.7 389.7L512.8 390.7L509.2 395.3L509.0 395.9L509.2 396.5L510.8 401.0L512.1 406.1L512.6 411.3L513.4 416.4L515.5 421.6L516.7 423.3L519.9 426.7L524.3 431.4L525.2 431.8L531.8 436.3L539.3 436.4L544.5 431.8L546.8 429.0L548.1 426.7L551.3 421.6L552.7 416.4L552.0 411.3L550.9 406.1L551.1 401.0L551.3 395.9L547.7 390.7L546.8 390.2L539.3 388.1L531.8 388.0L524.3 388.4Z" fill="#2e83f9"/>
<path d="M328.7 128.6L336.3 128.6L343.8 128.6L351.3 128.6L358.8 128.6L366.3 128.6L373.9 128.6L381.4 128.6L385.5 128.6L385.2 133.7L385.2 138.9L385.6 144.0L386.6 149.1L388.6 154.3L388.9 154.7L391.9 159.4L395.0 164.6L396.4 167.9L397.0 169.7L401.7 174.8L403.9 175.2L411.5 175.7L419.0 176.0L426.5 176.5L434.0 178.1L436.0 174.8L441.5 170.0L441.9 169.7L444.6 164.6L448.1 159.4L449.1 158.8L450.3 159.4L456.6 161.1L464.1 160.1L465.5 159.4L471.6 156.1L474.2 154.3L479.1 150.1L480.4 149.1L486.7 144.2L486.9 144.0L488.9 138.9L491.8 133.7L494.2 131.0L495.3 128.6L501.7 128.6L509.2 128.6L516.7 128.6L524.3 128.6L530.5 128.6L529.5 133.7L524.3 138.1L523.8 138.9L521.3 144.0L516.7 146.8L514.9 149.1L514.3 154.3L513.6 159.4L510.3 164.6L509.2 165.7L507.8 169.7L507.9 174.8L507.8 180.0L505.6 185.1L501.7 188.5L494.2 189.7L486.7 189.4L485.2 190.3L479.1 193.9L471.6 194.7L468.3 195.4L464.1 197.0L456.6 196.6L449.1 196.5L447.2 200.5L443.9 205.7L441.5 208.0L439.4 210.8L434.0 214.8L426.5 214.2L421.6 216.0L419.0 219.8L418.1 221.1L417.1 226.2L417.7 231.4L418.0 236.5L418.0 241.7L418.7 246.8L419.0 247.9L420.2 251.9L422.8 257.1L426.5 262.2L426.5 262.2L430.0 267.4L431.6 272.5L433.7 277.6L434.0 278.2L436.9 282.8L440.9 287.9L441.5 288.9L444.3 293.1L447.0 298.2L449.1 302.5L449.5 303.3L451.7 308.5L453.8 313.6L455.7 318.8L456.6 321.1L457.7 323.9L460.3 329.0L463.7 334.2L464.1 334.6L468.8 339.3L471.6 341.4L479.1 343.4L486.2 344.5L486.7 344.5L494.2 346.0L501.7 346.2L509.2 346.9L516.7 347.7L524.3 346.8L531.8 345.9L539.3 346.1L546.8 345.3L550.4 344.5L554.3 343.6L561.9 342.6L569.4 340.8L572.2 339.3L576.9 335.3L578.1 334.2L581.6 329.0L583.9 323.9L584.4 322.1L585.4 318.8L586.4 313.6L587.0 308.5L587.3 303.3L587.6 298.2L587.7 293.1L587.8 287.9L587.8 282.8L587.8 277.6L587.7 272.5L587.6 267.4L587.5 262.2L587.3 257.1L587.1 251.9L586.8 246.8L586.4 241.7L585.9 236.5L585.3 231.4L584.6 226.2L584.4 225.4L583.7 221.1L582.7 216.0L581.6 210.8L580.4 205.7L579.0 200.5L577.5 195.4L576.9 193.4L575.9 190.3L574.3 185.1L572.5 180.0L570.6 174.8L569.4 171.5L568.7 169.7L566.8 164.6L565.0 159.4L563.2 154.3L561.9 149.8L561.7 149.1L560.4 144.0L559.4 138.9L558.5 133.7L557.8 128.6L561.9 128.6L569.4 128.6L576.9 128.6L584.4 128.6L591.9 128.6L599.5 128.6L607.0 128.6L614.5 128.6L614.5 133.7L614.5 138.9L614.5 144.0L614.5 149.1L614.5 154.3L614.5 159.4L614.5 164.6L614.5 169.7L614.5 174.8L614.5 180.0L614.5 185.1L614.5 190.3L614.5 195.4L614.5 200.5L614.5 205.7L614.5 210.8L614.5 216.0L614.5 221.1L614.5 226.2L614.5 231.4L614.5 236.5L614.5 241.7L614.5 246.8L614.5 251.9L614.5 257.1L614.5 262.2L614.5 267.4L614.5 272.5L614.5 277.6L614.5 282.8L614.5 287.9L614.5 293.1L614.5 298.2L614.5 303.3L614.5 308.5L614.5 313.6L614.5 318.8L614.5 323.9L614.5 329.0L614.5 334.2L614.5 339.3L614.5 344.5L614.5 349.6L614.5 354.7L614.5 359.9L614.5 365.0L614.5 370.2L614.5 375.3L614.5 380.4L614.5 385.6L614.5 390.7L614.5 395.9L614.5 401.0L614.5 406.1L614.5 411.3L614.5 416.4L614.5 421.6L614.5 426.7L614.5 431.8L614.5 437.0L614.5 442.1L614.5 447.3L614.5 452.4L614.5 457.5L614.5 462.7L614.5 467.8L614.5 473.0L614.5 478.1L614.5 483.2L614.5 488.4L614.5 493.5L614.5 498.7L607.0 498.7L599.5 498.7L591.9 498.7L584.4 498.7L576.9 498.7L569.4 498.7L561.9 498.7L554.3 498.7L546.8 498.7L539.3 498.7L531.8 498.7L524.3 498.7L516.7 498.7L509.2 498.7L501.7 498.7L494.2 498.7L486.7 498.7L479.1 498.7L471.6 498.7L464.1 498.7L456.6 498.7L449.1 498.7L441.5 498.7L434.0 498.7L426.5 498.7L419.0 498.7L411.5 498.7L403.9 498.7L396.4 498.7L388.9 498.7L381.4 498.7L373.9 498.7L366.3 498.7L358.8 498.7L351.3 498.7L343.8 498.7L336.3 498.7L328.7 498.7L328.7 493.5L328.7 488.4L328.7 483.2L328.7 478.1L328.7 473.0L328.7 467.8L328.7 462.7L328.7 457.5L328.7 452.4L328.7 447.3L328.7 442.1L328.7 437.0L328.7 431.8L328.7 426.7L328.7 421.6L328.7 416.4L328.7 411.3L328.7 406.1L328.7 401.0L328.7 395.9L328.7 390.7L328.7 385.6L328.7 380.4L328.7 375.3L328.7 370.2L328.7 365.0L328.7 359.9L328.7 354.7L328.7 349.6L328.7 344.5L328.7 339.3L328.7 334.2L328.7 329.0L328.7 323.9L328.7 318.8L328.7 313.6L328.7 308.5L328.7 303.3L328.7 298.2L328.7 293.1L328.7 287.9L328.7 282.8L328.7 277.6L328.7 272.5L328.7 267.4L328.7 262.2L328.7 257.1L328.7 251.9L328.7 246.8L328.7 241.7L328.7 236.5L328.7 231.4L328.7 226.2L328.7 221.1L328.7 216.0L328.7 210.8L328.7 205.7L328.7 200.5L328.7 195.4L328.7 190.3L328.7 185.1L328.7 180.0L328.7 174.8L328.7 169.7L328.7 164.6L328.7 159.4L328.7 154.3L328.7 149.1L328.7 144.0L328.7 138.9L328.7 133.7ZM524.3 385.2L520.6 385.6L516.7 386.1L509.2 388.0L501.7 390.6L501.6 390.7L501.7 391.1L503.3 395.9L506.0 401.0L507.7 406.1L508.8 411.3L509.2 413.1L510.0 416.4L512.0 421.6L515.5 426.7L516.7 428.6L519.5 431.8L523.5 437.0L524.3 438.0L529.8 442.1L531.8 443.4L539.3 444.6L546.8 442.4L547.0 442.1L549.7 437.0L552.2 431.8L554.3 427.5L555.9 426.7L561.9 424.2L565.6 421.6L562.6 416.4L561.9 415.8L558.0 411.3L554.9 406.1L554.3 402.6L554.2 401.0L554.3 397.6L554.4 395.9L554.3 395.7L551.9 390.7L546.8 387.7L539.3 385.8L535.8 385.6L531.8 385.3Z" fill="#2d88f6"/>
<path d="M328.7 128.6L336.3 128.6L343.8 128.6L351.3 128.6L358.8 128.6L366.3 128.6L373.9 128.6L381.4 128.6L381.5 128.6L381.4 130.3L381.2 133.7L381.2 138.9L381.4 144.0L381.4 144.0L382.2 149.1L384.0 154.3L387.2 159.4L388.9 161.5L391.1 164.6L394.0 169.7L396.4 172.4L398.6 174.8L403.9 175.8L411.5 176.0L419.0 176.3L426.5 176.7L434.0 178.4L436.2 174.8L441.5 170.2L442.1 169.7L444.8 164.6L448.7 159.4L449.1 159.2L449.6 159.4L456.6 161.3L464.1 160.2L465.8 159.4L471.6 156.3L474.4 154.3L479.1 150.3L480.6 149.1L486.7 144.4L487.1 144.0L489.1 138.9L492.2 133.7L494.2 131.5L495.4 128.6L501.7 128.6L509.2 128.6L516.7 128.6L524.3 128.6L530.2 128.6L529.1 133.7L524.3 137.8L523.6 138.9L520.9 144.0L516.7 146.6L514.7 149.1L514.1 154.3L513.4 159.4L509.9 164.6L509.2 165.2L507.6 169.7L507.8 174.8L507.7 180.0L505.3 185.1L501.7 188.2L494.2 189.5L486.7 189.3L485.0 190.3L479.1 193.8L471.6 194.5L467.7 195.4L464.1 196.8L456.6 196.3L449.1 196.1L447.0 200.5L443.5 205.7L441.5 207.6L439.2 210.8L434.0 214.6L426.5 213.7L420.2 216.0L419.0 217.7L416.6 221.1L415.1 226.2L415.2 231.4L415.6 236.5L415.9 241.7L416.5 246.8L417.8 251.9L419.0 254.8L420.1 257.1L423.5 262.2L426.5 266.8L426.9 267.4L428.9 272.5L431.1 277.6L434.0 282.7L434.1 282.8L437.9 287.9L441.4 293.1L441.5 293.4L444.1 298.2L446.5 303.3L448.9 308.5L449.1 308.9L451.0 313.6L452.8 318.8L454.8 323.9L456.6 327.4L457.4 329.0L460.9 334.2L464.1 337.8L465.6 339.3L471.6 343.6L475.1 344.5L479.1 345.4L486.7 346.2L494.2 347.8L501.7 347.8L509.2 348.3L516.7 349.1L524.3 348.0L531.8 347.0L539.3 347.3L546.8 346.5L554.3 344.8L556.4 344.5L561.9 343.6L569.4 341.9L574.5 339.3L576.9 337.3L580.2 334.2L583.8 329.0L584.4 327.6L586.3 323.9L588.0 318.8L589.2 313.6L590.0 308.5L590.6 303.3L591.0 298.2L591.3 293.1L591.4 287.9L591.6 282.8L591.6 277.6L591.6 272.5L591.6 267.4L591.5 262.2L591.3 257.1L591.1 251.9L590.8 246.8L590.5 241.7L590.0 236.5L589.4 231.4L588.7 226.2L587.9 221.1L587.0 216.0L585.9 210.8L584.7 205.7L584.4 204.5L583.4 200.5L582.0 195.4L580.5 190.3L578.9 185.1L577.2 180.0L576.9 179.1L575.5 174.8L573.7 169.7L571.9 164.6L570.1 159.4L569.4 157.1L568.5 154.3L567.1 149.1L565.8 144.0L564.8 138.9L564.0 133.7L563.2 128.6L569.4 128.6L576.9 128.6L584.4 128.6L591.9 128.6L599.5 128.6L607.0 128.6L614.5 128.6L614.5 133.7L614.5 138.9L614.5 144.0L614.5 149.1L614.5 154.3L614.5 159.4L614.5 164.6L614.5 169.7L614.5 174.8L614.5 180.0L614.5 185.1L614.5 190.3L614.5 195.4L614.5 200.5L614.5 205.7L614.5 210.8L614.5 216.0L614.5 221.1L614.5 226.2L614.5 231.4L614.5 236.5L614.5 241.7L614.5 246.8L614.5 251.9L614.5 257.1L614.5 262.2L614.5 267.4L614.5 272.5L614.5 277.6L614.5 282.8L614.5 287.9L614.5 293.1L614.5 298.2L614.5 303.3L614.5 308.5L614.5 313.6L614.5 318.8L614.5 323.9L614.5 329.0L614.5 334.2L614.5 339.3L614.5 344.5L614.5 349.6L614.5 354.7L614.5 359.9L614.5 365.0L614.5 370.2L614.5 375.3L614.5 380.4L614.5 385.6L614.5 390.7L614.5 395.9L614.5 401.0L614.5 406.1L614.5 411.3L614.5 416.4L614.5 421.6L614.5 426.7L614.5 431.8L614.5 437.0L614.5 442.1L614.5 447.3L614.5 452.4L614.5 457.5L614.5 462.7L614.5 467.8L614.5 473.0L614.5 478.1L614.5 483.2L614.5 488.4L614.5 493.5L614.5 498.7L607.0 498.7L599.5 498.7L591.9 498.7L584.4 498.7L576.9 498.7L569.4 498.7L561.9 498.7L554.3 498.7L546.8 498.7L539.3 498.7L531.8 498.7L524.3 498.7L516.7 498.7L509.2 498.7L501.7 498.7L494.2 498.7L486.7 498.7L479.1 498.7L471.6 498.7L464.1 498.7L456.6 498.7L449.1 498.7L441.5 498.7L434.0 498.7L426.5 498.7L419.0 498.7L411.5 498.7L403.9 498.7L396.4 498.7L388.9 498.7L381.4 498.7L373.9 498.7L366.3 498.7L358.8 498.7L351.3 498.7L343.8 498.7L336.3 498.7L328.7 498.7L328.7 493.5L328.7 488.4L328.7 483.2L328.7 478.1L328.7 473.0L328.7 467.8L328.7 462.7L328.7 457.5L328.7 452.4L328.7 447.3L328.7 442.1L328.7 437.0L328.7 431.8L328.7 426.7L328.7 421.6L328.7 416.4L328.7 411.3L328.7 406.1L328.7 401.0L328.7 395.9L328.7 390.7L328.7 385.6L328.7 380.4L328.7 375.3L328.7 370.2L328.7 365.0L328.7 359.9L328.7 354.7L328.7 349.6L328.7 344.5L328.7 339.3L328.7 334.2L328.7 329.0L328.7 323.9L328.7 318.8L328.7 313.6L328.7 308.5L328.7 303.3L328.7 298.2L328.7 293.1L328.7 287.9L328.7 282.8L328.7 277.6L328.7 272.5L328.7 267.4L328.7 262.2L328.7 257.1L328.7 251.9L328.7 246.8L328.7 241.7L328.7 236.5L328.7 231.4L328.7 226.2L328.7 221.1L328.7 216.0L328.7 210.8L328.7 205.7L328.7 200.5L328.7 195.4L328.7 190.3L328.7 185.1L328.7 180.0L328.7 174.8L328.7 169.7L328.7 164.6L328.7 159.4L328.7 154.3L328.7 149.1L328.7 144.0L328.7 138.9L328.7 133.7ZM509.2 384.7L502.7 385.6L501.7 385.8L497.3 390.7L498.7 395.9L501.7 400.8L501.8 401.0L504.0 406.1L505.3 411.3L506.5 416.4L508.5 421.6L509.2 423.1L511.3 426.7L514.5 431.8L516.7 435.6L517.7 437.0L521.5 442.1L524.3 445.3L527.1 447.3L531.8 449.7L539.3 451.3L546.8 452.1L551.2 447.3L554.1 442.1L554.3 441.6L555.8 437.0L560.3 431.8L561.9 430.9L569.4 427.2L569.9 426.7L571.5 421.6L570.4 416.4L569.4 414.6L565.4 411.3L561.9 407.1L561.1 406.1L559.5 401.0L559.3 395.9L556.6 390.7L554.3 389.3L547.8 385.6L546.8 385.2L539.3 383.7L531.8 383.0L524.3 382.8L516.7 383.5Z" fill="#2c8ef2"/>
<path d="M328.7 128.6L336.3 128.6L343.8 128.6L351.3 128.6L358.8 128.6L366.3 128.6L373.9 128.6L378.0 128.6L377.8 133.7L377.7 138.9L378.0 144.0L378.7 149.1L380.0 154.3L381.4 157.5L382.5 159.4L387.3 164.6L388.9 166.5L391.1 169.7L395.5 174.8L396.4 175.1L403.9 176.3L411.5 176.4L419.0 176.5L426.5 176.9L434.0 178.8L436.4 174.8L441.5 170.4L442.3 169.7L445.1 164.6L449.1 159.5L456.6 161.5L464.1 160.4L466.1 159.4L471.6 156.5L474.6 154.3L479.1 150.5L480.8 149.1L486.7 144.6L487.3 144.0L489.3 138.9L492.6 133.7L494.2 131.9L495.6 128.6L501.7 128.6L509.2 128.6L516.7 128.6L524.3 128.6L530.0 128.6L528.7 133.7L524.3 137.4L523.4 138.9L520.5 144.0L516.7 146.3L514.5 149.1L513.9 154.3L513.2 159.4L509.4 164.6L509.2 164.8L507.5 169.7L507.6 174.8L507.5 180.0L505.1 185.1L501.7 188.0L494.2 189.4L486.7 189.2L484.8 190.3L479.1 193.7L471.6 194.4L467.2 195.4L464.1 196.6L456.6 196.1L449.1 195.6L446.8 200.5L443.2 205.7L441.5 207.3L438.9 210.8L434.0 214.4L426.5 213.2L419.0 215.9L418.9 216.0L415.2 221.1L413.1 226.2L412.8 231.4L413.3 236.5L413.7 241.7L414.3 246.8L415.4 251.9L417.4 257.1L419.0 259.9L420.5 262.2L423.8 267.4L426.3 272.5L426.5 273.0L428.4 277.6L431.3 282.8L434.0 286.7L434.9 287.9L438.4 293.1L441.2 298.2L441.5 299.0L443.6 303.3L445.9 308.5L448.1 313.6L449.1 316.4L449.9 318.8L451.9 323.9L454.5 329.0L456.6 332.0L458.0 334.2L462.6 339.3L464.1 340.8L469.2 344.5L471.6 346.2L479.1 347.6L486.7 347.9L493.9 349.6L494.2 349.7L495.8 349.6L501.7 349.4L505.5 349.6L509.2 349.9L516.7 350.9L522.0 349.6L524.3 349.3L531.8 348.2L539.3 348.6L546.8 347.8L554.3 346.0L561.9 344.7L563.1 344.5L569.4 343.1L576.8 339.3L576.9 339.2L582.4 334.2L584.4 331.2L586.0 329.0L588.6 323.9L590.5 318.8L591.9 313.6L591.9 313.4L592.9 308.5L593.7 303.3L594.2 298.2L594.6 293.1L594.9 287.9L595.1 282.8L595.3 277.6L595.4 272.5L595.4 267.4L595.4 262.2L595.3 257.1L595.1 251.9L594.8 246.8L594.5 241.7L594.1 236.5L593.5 231.4L592.9 226.2L592.1 221.1L591.9 220.1L591.2 216.0L590.2 210.8L589.1 205.7L587.9 200.5L586.6 195.4L585.2 190.3L584.4 187.7L583.7 185.1L582.1 180.0L580.4 174.8L578.8 169.7L577.1 164.6L576.9 164.0L575.5 159.4L574.0 154.3L572.6 149.1L571.4 144.0L570.4 138.9L569.6 133.7L569.4 132.1L568.9 128.6L569.4 128.6L576.9 128.6L584.4 128.6L591.9 128.6L599.5 128.6L607.0 128.6L614.5 128.6L614.5 133.7L614.5 138.9L614.5 144.0L614.5 149.1L614.5 154.3L614.5 159.4L614.5 164.6L614.5 169.7L614.5 174.8L614.5 180.0L614.5 185.1L614.5 190.3L614.5 195.4L614.5 200.5L614.5 205.7L614.5 210.8L614.5 216.0L614.5 221.1L614.5 226.2L614.5 231.4L614.5 236.5L614.5 241.7L614.5 246.8L614.5 251.9L614.5 257.1L614.5 262.2L614.5 267.4L614.5 272.5L614.5 277.6L614.5 282.8L614.5 287.9L614.5 293.1L614.5 298.2L614.5 303.3L614.5 308.5L614.5 313.6L614.5 318.8L614.5 323.9L614.5 329.0L614.5 334.2L614.5 339.3L614.5 344.5L614.5 349.6L614.5 354.7L614.5 359.9L614.5 365.0L614.5 370.2L614.5 375.3L614.5 380.4L614.5 385.6L614.5 390.7L614.5 395.9L614.5 401.0L614.5 406.1L614.5 411.3L614.5 416.4L614.5 421.6L614.5 426.7L614.5 431.8L614.5 437.0L614.5 442.1L614.5 447.3L614.5 452.4L614.5 457.5L614.5 462.7L614.5 467.8L614.5 473.0L614.5 478.1L614.5 483.2L614.5 488.4L614.5 493.5L614.5 498.7L607.0 498.7L599.5 498.7L591.9 498.7L584.4 498.7L576.9 498.7L569.4 498.7L561.9 498.7L554.3 498.7L546.8 498.7L539.3 498.7L531.8 498.7L524.3 498.7L516.7 498.7L509.2 498.7L501.7 498.7L494.2 498.7L486.7 498.7L479.1 498.7L471.6 498.7L464.1 498.7L456.6 498.7L449.1 498.7L441.5 498.7L434.0 498.7L426.5 498.7L419.0 498.7L411.5 498.7L403.9 498.7L396.4 498.7L388.9 498.7L381.4 498.7L373.9 498.7L366.3 498.7L358.8 498.7L351.3 498.7L343.8 498.7L336.3 498.7L328.7 498.7L328.7 493.5L328.7 488.4L328.7 483.2L328.7 478.1L328.7 473.0L328.7 467.8L328.7 462.7L328.7 457.5L328.7 452.4L328.7 447.3L328.7 442.1L328.7 437.0L328.7 431.8L328.7 426.7L328.7 421.6L328.7 416.4L328.7 411.3L328.7 406.1L328.7 401.0L328.7 395.9L328.7 390.7L328.7 385.6L328.7 380.4L328.7 375.3L328.7 370.2L328.7 365.0L328.7 359.9L328.7 354.7L328.7 349.6L328.7 344.5L328.7 339.3L328.7 334.2L328.7 329.0L328.7 323.9L328.7 318.8L328.7 313.6L328.7 308.5L328.7 303.3L328.7 298.2L328.7 293.1L328.7 287.9L328.7 282.8L328.7 277.6L328.7 272.5L328.7 267.4L328.7 262.2L328.7 257.1L328.7 251.9L328.7 246.8L328.7 241.7L328.7 236.5L328.7 231.4L328.7 226.2L328.7 221.1L328.7 216.0L328.7 210.8L328.7 205.7L328.7 200.5L328.7 195.4L328.7 190.3L328.7 185.1L328.7 180.0L328.7 174.8L328.7 169.7L328.7 164.6L328.7 159.4L328.7 154.3L328.7 149.1L328.7 144.0L328.7 138.9L328.7 133.7ZM524.3 380.4L523.6 380.4L516.7 380.9L509.2 382.3L501.7 383.3L496.8 385.6L494.2 388.8L492.8 390.7L494.2 394.4L494.6 395.9L498.2 401.0L500.4 406.1L501.7 411.0L501.8 411.3L503.0 416.4L504.7 421.6L507.1 426.7L509.2 431.0L509.7 431.8L512.5 437.0L515.8 442.1L516.7 443.3L520.2 447.3L524.3 451.1L526.7 452.4L531.8 454.5L539.3 457.2L540.6 457.5L546.8 459.4L549.6 457.5L554.3 453.7L554.8 452.4L555.7 447.3L557.0 442.1L560.0 437.0L561.9 435.1L565.5 431.8L569.4 429.7L572.3 426.7L574.3 421.6L573.6 416.4L571.0 411.3L569.4 408.9L566.6 406.1L564.6 401.0L564.6 395.9L562.0 390.7L561.9 390.6L554.3 385.7L554.1 385.6L546.8 383.0L539.3 381.6L531.8 380.7L525.3 380.4Z" fill="#2a93ed"/>
<path d="M328.7 128.6L336.3 128.6L343.8 128.6L351.3 128.6L358.8 128.6L366.3 128.6L373.9 128.6L374.5 128.6L374.3 133.7L374.3 138.9L374.6 144.0L375.3 149.1L376.8 154.3L379.2 159.4L381.4 162.2L383.7 164.6L388.3 169.7L388.9 170.6L392.6 174.8L396.4 175.9L403.9 176.8L411.5 176.7L419.0 176.7L426.5 177.1L434.0 179.1L436.6 174.8L441.5 170.5L442.5 169.7L445.4 164.6L449.1 159.9L456.6 161.7L464.1 160.5L466.4 159.4L471.6 156.6L474.8 154.3L479.1 150.7L481.0 149.1L486.7 144.8L487.5 144.0L489.5 138.9L493.0 133.7L494.2 132.3L495.8 128.6L501.7 128.6L509.2 128.6L516.7 128.6L524.3 128.6L529.7 128.6L528.3 133.7L524.3 137.1L523.2 138.9L520.1 144.0L516.7 146.1L514.3 149.1L513.7 154.3L512.9 159.4L509.2 164.4L509.1 164.6L507.3 169.7L507.4 174.8L507.3 180.0L504.8 185.1L501.7 187.8L494.2 189.2L486.7 189.0L484.5 190.3L479.1 193.5L471.6 194.3L466.6 195.4L464.1 196.4L456.6 195.8L450.7 195.4L449.1 195.3L449.0 195.4L446.6 200.5L442.8 205.7L441.5 207.0L438.7 210.8L434.0 214.2L426.5 212.7L419.0 215.3L418.2 216.0L413.7 221.1L411.5 225.8L411.1 226.2L410.3 231.4L411.0 236.5L411.5 240.8L411.6 241.7L412.1 246.8L413.0 251.9L414.7 257.1L417.5 262.2L419.0 264.7L420.6 267.4L423.4 272.5L425.8 277.6L426.5 279.1L428.4 282.8L431.9 287.9L434.0 291.0L435.4 293.1L438.2 298.2L440.6 303.3L441.5 305.5L442.8 308.5L445.0 313.6L447.0 318.8L448.9 323.9L449.1 324.1L451.5 329.0L455.1 334.2L456.6 335.7L459.8 339.3L464.1 343.5L465.4 344.5L471.6 348.9L477.3 349.6L479.1 350.1L486.7 349.7L494.2 354.1L501.7 352.4L509.2 352.3L516.7 353.0L524.3 351.0L530.1 349.6L531.8 349.4L536.2 349.6L539.3 349.9L541.2 349.6L546.8 349.1L554.3 347.2L561.9 345.8L568.2 344.5L569.4 344.2L576.9 340.8L579.2 339.3L584.4 334.3L584.5 334.2L588.3 329.0L591.0 323.9L591.9 321.4L593.0 318.8L594.6 313.6L595.8 308.5L596.7 303.3L597.4 298.2L597.9 293.1L598.4 287.9L598.7 282.8L599.0 277.6L599.1 272.5L599.2 267.4L599.2 262.2L599.2 257.1L599.0 251.9L598.8 246.8L598.5 241.7L598.1 236.5L597.7 231.4L597.1 226.2L596.4 221.1L595.6 216.0L594.6 210.8L593.6 205.7L592.5 200.5L591.9 198.4L591.2 195.4L589.9 190.3L588.5 185.1L587.0 180.0L585.5 174.8L584.4 171.3L583.9 169.7L582.4 164.6L580.9 159.4L579.5 154.3L578.3 149.1L577.2 144.0L576.9 142.6L576.2 138.9L575.5 133.7L574.9 128.6L576.9 128.6L584.4 128.6L591.9 128.6L599.5 128.6L607.0 128.6L614.5 128.6L614.5 133.7L614.5 138.9L614.5 144.0L614.5 149.1L614.5 154.3L614.5 159.4L614.5 164.6L614.5 169.7L614.5 174.8L614.5 180.0L614.5 185.1L614.5 190.3L614.5 195.4L614.5 200.5L614.5 205.7L614.5 210.8L614.5 216.0L614.5 221.1L614.5 226.2L614.5 231.4L614.5 236.5L614.5 241.7L614.5 246.8L614.5 251.9L614.5 257.1L614.5 262.2L614.5 267.4L614.5 272.5L614.5 277.6L614.5 282.8L614.5 287.9L614.5 293.1L614.5 298.2L614.5 303.3L614.5 308.5L614.5 313.6L614.5 318.8L614.5 323.9L614.5 329.0L614.5 334.2L614.5 339.3L614.5 344.5L614.5 349.6L614.5 354.7L614.5 359.9L614.5 365.0L614.5 370.2L614.5 375.3L614.5 380.4L614.5 385.6L614.5 390.7L614.5 395.9L614.5 401.0L614.5 406.1L614.5 411.3L614.5 416.4L614.5 421.6L614.5 426.7L614.5 431.8L614.5 437.0L614.5 442.1L614.5 447.3L614.5 452.4L614.5 457.5L614.5 462.7L614.5 467.8L614.5 473.0L614.5 478.1L614.5 483.2L614.5 488.4L614.5 493.5L614.5 498.7L607.0 498.7L599.5 498.7L591.9 498.7L584.4 498.7L576.9 498.7L569.4 498.7L561.9 498.7L554.3 498.7L546.8 498.7L539.3 498.7L531.8 498.7L524.3 498.7L516.7 498.7L509.2 498.7L501.7 498.7L494.2 498.7L486.7 498.7L479.1 498.7L471.6 498.7L464.1 498.7L456.6 498.7L449.1 498.7L441.5 498.7L434.0 498.7L426.5 498.7L419.0 498.7L411.5 498.7L403.9 498.7L396.4 498.7L388.9 498.7L381.4 498.7L373.9 498.7L366.3 498.7L358.8 498.7L351.3 498.7L343.8 498.7L336.3 498.7L328.7 498.7L328.7 493.5L328.7 488.4L328.7 483.2L328.7 478.1L328.7 473.0L328.7 467.8L328.7 462.7L328.7 457.5L328.7 452.4L328.7 447.3L328.7 442.1L328.7 437.0L328.7 431.8L328.7 426.7L328.7 421.6L328.7 416.4L328.7 411.3L328.7 406.1L328.7 401.0L328.7 395.9L328.7 390.7L328.7 385.6L328.7 380.4L328.7 375.3L328.7 370.2L328.7 365.0L328.7 359.9L328.7 354.7L328.7 349.6L328.7 344.5L328.7 339.3L328.7 334.2L328.7 329.0L328.7 323.9L328.7 318.8L328.7 313.6L328.7 308.5L328.7 303.3L328.7 298.2L328.7 293.1L328.7 287.9L328.7 282.8L328.7 277.6L328.7 272.5L328.7 267.4L328.7 262.2L328.7 257.1L328.7 251.9L328.7 246.8L328.7 241.7L328.7 236.5L328.7 231.4L328.7 226.2L328.7 221.1L328.7 216.0L328.7 210.8L328.7 205.7L328.7 200.5L328.7 195.4L328.7 190.3L328.7 185.1L328.7 180.0L328.7 174.8L328.7 169.7L328.7 164.6L328.7 159.4L328.7 154.3L328.7 149.1L328.7 144.0L328.7 138.9L328.7 133.7ZM494.2 357.5L492.7 359.9L493.5 365.0L494.2 365.2L494.6 365.0L495.2 359.9ZM509.2 379.7L505.3 380.4L501.7 380.9L494.2 383.9L491.5 385.6L488.1 390.7L490.2 395.9L494.2 400.4L494.6 401.0L496.9 406.1L498.1 411.3L499.2 416.4L500.8 421.6L501.7 423.7L502.9 426.7L505.1 431.8L507.5 437.0L509.2 439.8L510.6 442.1L514.8 447.3L516.7 449.1L520.4 452.4L524.3 455.1L529.8 457.5L531.8 458.4L539.3 462.2L540.7 462.7L546.8 464.9L550.7 462.7L554.3 460.2L555.4 457.5L557.0 452.4L558.1 447.3L559.8 442.1L561.9 439.2L563.0 437.0L569.4 432.1L569.6 431.8L574.7 426.7L576.9 421.8L577.0 421.6L576.9 419.2L576.7 416.4L574.7 411.3L571.5 406.1L569.4 401.0L570.0 395.9L569.4 393.5L568.3 390.7L561.9 386.8L560.0 385.6L554.3 383.1L546.8 380.9L544.5 380.4L539.3 379.4L531.8 378.2L524.3 377.7L516.7 378.0Z" fill="#2798ea"/>
<path d="M328.7 128.6L336.3 128.6L343.8 128.6L351.3 128.6L358.8 128.6L366.3 128.6L371.3 128.6L371.3 133.7L371.4 138.9L371.7 144.0L372.3 149.1L373.6 154.3L373.9 154.8L376.3 159.4L380.6 164.6L381.4 165.4L385.9 169.7L388.9 174.0L389.6 174.8L396.4 176.7L403.9 177.4L411.5 177.1L419.0 177.0L426.5 177.3L434.0 179.5L436.8 174.8L441.5 170.7L442.7 169.7L445.6 164.6L449.1 160.2L456.6 161.9L464.1 160.7L466.6 159.4L471.6 156.8L475.0 154.3L479.1 150.8L481.3 149.1L486.7 144.9L487.7 144.0L489.7 138.9L493.3 133.7L494.2 132.7L496.0 128.6L501.7 128.6L509.2 128.6L516.7 128.6L524.3 128.6L529.5 128.6L527.9 133.7L524.3 136.8L523.0 138.9L519.7 144.0L516.7 145.8L514.2 149.1L513.5 154.3L512.7 159.4L509.2 164.1L508.9 164.6L507.1 169.7L507.3 174.8L507.1 180.0L504.6 185.1L501.7 187.6L494.2 189.0L486.7 188.9L484.3 190.3L479.1 193.4L471.6 194.2L466.0 195.4L464.1 196.1L456.6 195.6L454.0 195.4L449.1 195.2L448.7 195.4L446.4 200.5L442.5 205.7L441.5 206.6L438.4 210.8L434.0 214.1L426.5 212.1L419.0 214.6L417.6 216.0L412.3 221.1L411.5 222.8L408.7 226.2L407.9 231.4L408.8 236.5L409.5 241.7L409.9 246.8L410.5 251.9L411.5 255.1L412.1 257.1L414.6 262.2L417.6 267.4L419.0 269.8L420.5 272.5L423.1 277.6L425.7 282.8L426.5 284.2L428.9 287.9L432.5 293.1L434.0 295.9L435.3 298.2L437.7 303.3L439.9 308.5L441.5 312.6L442.0 313.6L444.1 318.8L446.2 323.9L448.6 329.0L449.1 329.8L452.1 334.2L456.6 338.9L456.9 339.3L462.2 344.5L464.1 346.6L468.2 349.6L471.6 354.7L472.0 354.7L471.6 355.6L471.4 359.9L471.6 360.8L473.8 365.0L479.1 367.9L486.7 367.9L494.2 370.0L501.7 366.4L503.0 365.0L503.7 359.9L509.0 354.7L509.2 354.7L509.6 354.7L516.7 355.8L518.0 354.7L524.3 352.9L531.8 351.0L539.3 351.6L546.8 350.6L549.5 349.6L554.3 348.3L561.9 346.9L569.4 345.4L572.0 344.5L576.9 342.3L581.5 339.3L584.4 336.5L586.8 334.2L590.6 329.0L591.9 326.4L593.4 323.9L595.6 318.8L597.2 313.6L598.6 308.5L599.5 304.3L599.7 303.3L600.5 298.2L601.2 293.1L601.7 287.9L602.2 282.8L602.5 277.6L602.8 272.5L602.9 267.4L603.0 262.2L603.0 257.1L603.0 251.9L602.8 246.8L602.6 241.7L602.2 236.5L601.8 231.4L601.3 226.2L600.6 221.1L599.9 216.0L599.5 213.4L599.0 210.8L598.1 205.7L597.1 200.5L595.9 195.4L594.7 190.3L593.4 185.1L592.0 180.0L591.9 179.6L590.7 174.8L589.2 169.7L587.9 164.6L586.5 159.4L585.2 154.3L584.4 150.7L584.1 149.1L583.1 144.0L582.2 138.9L581.5 133.7L581.0 128.6L584.4 128.6L591.9 128.6L599.5 128.6L607.0 128.6L614.5 128.6L614.5 133.7L614.5 138.9L614.5 144.0L614.5 149.1L614.5 154.3L614.5 159.4L614.5 164.6L614.5 169.7L614.5 174.8L614.5 180.0L614.5 185.1L614.5 190.3L614.5 195.4L614.5 200.5L614.5 205.7L614.5 210.8L614.5 216.0L614.5 221.1L614.5 226.2L614.5 231.4L614.5 236.5L614.5 241.7L614.5 246.8L614.5 251.9L614.5 257.1L614.5 262.2L614.5 267.4L614.5 272.5L614.5 277.6L614.5 282.8L614.5 287.9L614.5 293.1L614.5 298.2L614.5 303.3L614.5 308.5L614.5 313.6L614.5 318.8L614.5 323.9L614.5 329.0L614.5 334.2L614.5 339.3L614.5 344.5L614.5 349.6L614.5 354.7L614.5 359.9L614.5 365.0L614.5 370.2L614.5 375.3L614.5 380.4L614.5 385.6L614.5 390.7L614.5 395.9L614.5 401.0L614.5 406.1L614.5 411.3L614.5 416.4L614.5 421.6L614.5 426.7L614.5 431.8L614.5 437.0L614.5 442.1L614.5 447.3L614.5 452.4L614.5 457.5L614.5 462.7L614.5 467.8L614.5 473.0L614.5 478.1L614.5 483.2L614.5 488.4L614.5 493.5L614.5 498.7L607.0 498.7L599.5 498.7L591.9 498.7L584.4 498.7L576.9 498.7L569.4 498.7L561.9 498.7L554.3 498.7L546.8 498.7L539.3 498.7L531.8 498.7L524.3 498.7L516.7 498.7L509.2 498.7L501.7 498.7L494.2 498.7L486.7 498.7L479.1 498.7L471.6 498.7L464.1 498.7L456.6 498.7L449.1 498.7L441.5 498.7L434.0 498.7L426.5 498.7L419.0 498.7L411.5 498.7L403.9 498.7L396.4 498.7L388.9 498.7L381.4 498.7L373.9 498.7L366.3 498.7L358.8 498.7L351.3 498.7L343.8 498.7L336.3 498.7L328.7 498.7L328.7 493.5L328.7 488.4L328.7 483.2L328.7 478.1L328.7 473.0L328.7 467.8L328.7 462.7L328.7 457.5L328.7 452.4L328.7 447.3L328.7 442.1L328.7 437.0L328.7 431.8L328.7 426.7L328.7 421.6L328.7 416.4L328.7 411.3L328.7 406.1L328.7 401.0L328.7 395.9L328.7 390.7L328.7 385.6L328.7 380.4L328.7 375.3L328.7 370.2L328.7 365.0L328.7 359.9L328.7 354.7L328.7 349.6L328.7 344.5L328.7 339.3L328.7 334.2L328.7 329.0L328.7 323.9L328.7 318.8L328.7 313.6L328.7 308.5L328.7 303.3L328.7 298.2L328.7 293.1L328.7 287.9L328.7 282.8L328.7 277.6L328.7 272.5L328.7 267.4L328.7 262.2L328.7 257.1L328.7 251.9L328.7 246.8L328.7 241.7L328.7 236.5L328.7 231.4L328.7 226.2L328.7 221.1L328.7 216.0L328.7 210.8L328.7 205.7L328.7 200.5L328.7 195.4L328.7 190.3L328.7 185.1L328.7 180.0L328.7 174.8L328.7 169.7L328.7 164.6L328.7 159.4L328.7 154.3L328.7 149.1L328.7 144.0L328.7 138.9L328.7 133.7ZM516.7 374.6L514.7 375.3L509.2 376.4L501.7 377.1L494.2 380.4L494.1 380.4L486.7 385.2L486.1 385.6L484.2 390.7L485.9 395.9L486.7 397.2L489.8 401.0L493.1 406.1L494.2 410.2L494.4 411.3L495.3 416.4L496.5 421.6L498.4 426.7L500.5 431.8L501.7 434.6L502.7 437.0L505.7 442.1L509.2 446.4L509.9 447.3L515.4 452.4L516.7 453.4L522.7 457.5L524.3 458.5L531.8 462.0L533.1 462.7L539.3 466.5L542.9 467.8L546.8 469.1L549.8 467.8L554.3 465.3L555.6 462.7L557.5 457.5L559.2 452.4L560.4 447.3L561.9 443.6L562.3 442.1L565.2 437.0L569.4 433.8L571.3 431.8L576.9 426.8L577.0 426.7L578.2 421.6L578.4 416.4L577.7 411.3L576.9 408.0L575.9 406.1L574.2 401.0L574.2 395.9L572.8 390.7L569.4 388.0L565.5 385.6L561.9 383.9L554.4 380.4L554.3 380.4L546.8 378.4L539.3 377.1L531.8 375.8L526.9 375.3L524.3 374.9ZM483.7 354.7L486.7 354.2L487.6 354.7L486.7 355.8Z" fill="#259de7"/>
<path d="M328.7 128.6L336.3 128.6L343.8 128.6L351.3 128.6L358.8 128.6L366.3 128.6L368.3 128.6L368.3 133.7L368.5 138.9L368.9 144.0L369.6 149.1L371.0 154.3L373.5 159.4L373.9 159.8L378.2 164.6L381.4 167.7L383.5 169.7L386.9 174.8L388.9 176.0L396.4 177.5L403.9 177.9L411.5 177.4L419.0 177.2L426.5 177.6L434.0 179.8L437.0 174.8L441.5 170.9L442.9 169.7L445.9 164.6L449.1 160.5L456.6 162.1L464.1 160.8L466.9 159.4L471.6 156.9L475.3 154.3L479.1 151.0L481.5 149.1L486.7 145.1L487.9 144.0L489.9 138.9L493.7 133.7L494.2 133.2L496.2 128.6L501.7 128.6L509.2 128.6L516.7 128.6L524.3 128.6L529.2 128.6L527.5 133.7L524.3 136.4L522.8 138.9L519.3 144.0L516.7 145.6L514.0 149.1L513.3 154.3L512.5 159.4L509.2 163.8L508.7 164.6L507.0 169.7L507.1 174.8L507.0 180.0L504.4 185.1L501.7 187.4L494.2 188.8L486.7 188.8L484.1 190.3L479.1 193.2L471.6 194.1L465.5 195.4L464.1 195.9L457.2 195.4L456.6 195.4L449.1 195.0L448.5 195.4L446.2 200.5L442.1 205.7L441.5 206.3L438.1 210.8L434.0 213.9L426.5 211.6L419.0 214.0L416.9 216.0L411.5 220.8L410.6 221.1L406.3 226.2L405.5 231.4L406.6 236.5L407.5 241.7L407.6 246.8L408.0 251.9L409.3 257.1L411.5 261.8L411.7 262.2L414.6 267.4L417.6 272.5L419.0 275.0L420.4 277.6L423.2 282.8L426.0 287.9L426.5 288.7L429.6 293.1L432.4 298.2L434.0 301.8L434.7 303.3L436.9 308.5L439.1 313.6L441.2 318.8L441.5 319.6L443.4 323.9L445.9 329.0L449.1 334.1L449.1 334.2L453.9 339.3L456.6 341.9L459.2 344.5L463.8 349.6L464.1 350.5L466.7 354.7L466.4 359.9L468.4 365.0L471.6 368.7L474.3 370.2L479.1 372.9L486.7 372.7L491.4 375.3L488.3 380.4L486.7 381.5L481.4 385.6L480.7 390.7L482.4 395.9L485.3 401.0L486.7 403.5L488.5 406.1L490.4 411.3L491.5 416.4L492.5 421.6L493.7 426.7L494.2 428.0L495.8 431.8L498.3 437.0L501.0 442.1L501.7 443.1L505.0 447.3L509.2 451.0L510.7 452.4L516.7 457.0L517.5 457.5L524.3 461.6L526.5 462.7L531.8 465.6L535.3 467.8L539.3 470.5L546.8 472.8L554.3 469.8L555.6 467.8L557.9 462.7L559.7 457.5L561.4 452.4L561.9 450.6L562.3 447.3L563.7 442.1L567.4 437.0L569.4 435.5L573.0 431.8L576.9 428.3L578.0 426.7L579.5 421.6L580.0 416.4L579.7 411.3L578.7 406.1L578.0 401.0L577.7 395.9L576.9 391.0L576.8 390.7L570.3 385.6L569.4 385.1L561.9 381.4L559.8 380.4L554.3 377.8L546.8 376.0L543.0 375.3L539.3 374.4L531.8 372.7L524.3 370.9L521.1 370.2L517.6 365.0L518.4 359.9L524.3 354.9L524.5 354.7L531.8 352.8L539.3 353.4L546.8 352.4L554.1 349.6L554.3 349.5L561.9 348.0L569.4 346.5L575.4 344.5L576.9 343.8L583.9 339.3L584.4 338.8L589.2 334.2L591.9 330.3L592.9 329.0L595.8 323.9L598.1 318.8L599.5 314.8L599.9 313.6L601.4 308.5L602.6 303.3L603.6 298.2L604.4 293.1L605.1 287.9L605.6 282.8L606.0 277.6L606.4 272.5L606.6 267.4L606.8 262.2L606.9 257.1L606.9 251.9L606.8 246.8L606.6 241.7L606.3 236.5L605.9 231.4L605.5 226.2L604.9 221.1L604.3 216.0L603.5 210.8L602.6 205.7L601.7 200.5L600.7 195.4L599.5 190.3L599.5 189.9L598.4 185.1L597.2 180.0L595.9 174.8L594.6 169.7L593.4 164.6L592.1 159.4L591.9 158.5L591.0 154.3L590.0 149.1L589.1 144.0L588.3 138.9L587.7 133.7L587.2 128.6L591.9 128.6L599.5 128.6L607.0 128.6L614.5 128.6L614.5 133.7L614.5 138.9L614.5 144.0L614.5 149.1L614.5 154.3L614.5 159.4L614.5 164.6L614.5 169.7L614.5 174.8L614.5 180.0L614.5 185.1L614.5 190.3L614.5 195.4L614.5 200.5L614.5 205.7L614.5 210.8L614.5 216.0L614.5 221.1L614.5 226.2L614.5 231.4L614.5 236.5L614.5 241.7L614.5 246.8L614.5 251.9L614.5 257.1L614.5 262.2L614.5 267.4L614.5 272.5L614.5 277.6L614.5 282.8L614.5 287.9L614.5 293.1L614.5 298.2L614.5 303.3L614.5 308.5L614.5 313.6L614.5 318.8L614.5 323.9L614.5 329.0L614.5 334.2L614.5 339.3L614.5 344.5L614.5 349.6L614.5 354.7L614.5 359.9L614.5 365.0L614.5 370.2L614.5 375.3L614.5 380.4L614.5 385.6L614.5 390.7L614.5 395.9L614.5 401.0L614.5 406.1L614.5 411.3L614.5 416.4L614.5 421.6L614.5 426.7L614.5 431.8L614.5 437.0L614.5 442.1L614.5 447.3L614.5 452.4L614.5 457.5L614.5 462.7L614.5 467.8L614.5 473.0L614.5 478.1L614.5 483.2L614.5 488.4L614.5 493.5L614.5 498.7L607.0 498.7L599.5 498.7L591.9 498.7L584.4 498.7L576.9 498.7L569.4 498.7L561.9 498.7L554.3 498.7L546.8 498.7L539.3 498.7L531.8 498.7L524.3 498.7L516.7 498.7L509.2 498.7L501.7 498.7L494.2 498.7L486.7 498.7L479.1 498.7L471.6 498.7L464.1 498.7L456.6 498.7L449.1 498.7L441.5 498.7L434.0 498.7L426.5 498.7L419.0 498.7L411.5 498.7L403.9 498.7L396.4 498.7L388.9 498.7L381.4 498.7L373.9 498.7L366.3 498.7L358.8 498.7L351.3 498.7L343.8 498.7L336.3 498.7L328.7 498.7L328.7 493.5L328.7 488.4L328.7 483.2L328.7 478.1L328.7 473.0L328.7 467.8L328.7 462.7L328.7 457.5L328.7 452.4L328.7 447.3L328.7 442.1L328.7 437.0L328.7 431.8L328.7 426.7L328.7 421.6L328.7 416.4L328.7 411.3L328.7 406.1L328.7 401.0L328.7 395.9L328.7 390.7L328.7 385.6L328.7 380.4L328.7 375.3L328.7 370.2L328.7 365.0L328.7 359.9L328.7 354.7L328.7 349.6L328.7 344.5L328.7 339.3L328.7 334.2L328.7 329.0L328.7 323.9L328.7 318.8L328.7 313.6L328.7 308.5L328.7 303.3L328.7 298.2L328.7 293.1L328.7 287.9L328.7 282.8L328.7 277.6L328.7 272.5L328.7 267.4L328.7 262.2L328.7 257.1L328.7 251.9L328.7 246.8L328.7 241.7L328.7 236.5L328.7 231.4L328.7 226.2L328.7 221.1L328.7 216.0L328.7 210.8L328.7 205.7L328.7 200.5L328.7 195.4L328.7 190.3L328.7 185.1L328.7 180.0L328.7 174.8L328.7 169.7L328.7 164.6L328.7 159.4L328.7 154.3L328.7 149.1L328.7 144.0L328.7 138.9L328.7 133.7Z" fill="#22a2e4"/>
<path d="M328.7 128.6L336.3 128.6L343.8 128.6L351.3 128.6L358.8 128.6L365.3 128.6L365.5 133.7L365.7 138.9L366.1 144.0L366.3 145.5L366.9 149.1L368.3 154.3L370.8 159.4L373.9 162.5L375.8 164.6L381.2 169.7L381.4 170.2L384.3 174.8L388.9 177.6L396.4 178.3L403.9 178.4L411.5 177.8L419.0 177.5L426.5 177.8L433.6 180.0L434.0 180.1L434.2 180.0L437.2 174.8L441.5 171.1L443.1 169.7L446.1 164.6L449.1 160.8L456.6 162.3L464.1 161.0L467.2 159.4L471.6 157.1L475.5 154.3L479.1 151.2L481.7 149.1L486.7 145.3L488.1 144.0L490.1 138.9L494.1 133.7L494.2 133.6L496.4 128.6L501.7 128.6L509.2 128.6L516.7 128.6L524.3 128.6L529.0 128.6L527.1 133.7L524.3 136.1L522.5 138.9L518.9 144.0L516.7 145.3L513.8 149.1L513.1 154.3L512.2 159.4L509.2 163.5L508.5 164.6L506.8 169.7L506.9 174.8L506.8 180.0L504.1 185.1L501.7 187.2L494.2 188.6L486.7 188.6L483.8 190.3L479.1 193.1L471.6 193.9L464.9 195.4L464.1 195.7L460.0 195.4L456.6 195.2L449.1 194.8L448.3 195.4L446.0 200.5L441.8 205.7L441.5 205.9L437.9 210.8L434.0 213.7L426.5 211.1L419.0 213.4L416.2 216.0L411.5 220.2L408.5 221.1L403.9 226.2L403.9 226.2L403.1 231.4L403.9 234.5L404.5 236.5L405.4 241.7L405.4 246.8L405.4 251.9L406.4 257.1L408.7 262.2L411.5 267.0L411.6 267.4L414.8 272.5L417.7 277.6L419.0 279.8L420.6 282.8L423.6 287.9L426.5 292.7L426.8 293.1L429.7 298.2L432.0 303.3L434.0 308.5L434.0 308.5L436.3 313.6L438.5 318.8L440.7 323.9L441.5 325.8L443.1 329.0L446.3 334.2L449.1 337.4L450.9 339.3L456.3 344.5L456.6 344.8L460.8 349.6L462.8 354.7L462.7 359.9L464.1 365.0L464.1 365.1L469.2 370.2L471.6 373.3L475.2 375.3L477.9 380.4L477.2 385.6L477.4 390.7L478.9 395.9L479.1 396.4L481.7 401.0L484.5 406.1L486.4 411.3L486.7 412.2L487.7 416.4L488.7 421.6L489.9 426.7L491.9 431.8L494.1 437.0L494.2 437.2L497.1 442.1L500.5 447.3L501.7 448.6L506.0 452.4L509.2 454.8L512.9 457.5L516.7 460.2L520.9 462.7L524.3 464.8L529.6 467.8L531.8 469.4L537.2 473.0L539.3 474.3L546.8 476.3L554.3 473.8L555.1 473.0L558.3 467.8L560.2 462.7L561.9 457.7L561.9 457.5L562.7 452.4L563.5 447.3L565.2 442.1L569.4 437.2L569.5 437.0L574.7 431.8L576.9 429.8L579.0 426.7L580.7 421.6L581.5 416.4L581.6 411.3L581.1 406.1L580.5 401.0L580.1 395.9L579.0 390.7L576.9 387.8L574.1 385.6L569.4 383.3L564.0 380.4L561.9 378.9L554.7 375.3L554.3 375.1L546.8 372.8L539.3 371.0L535.4 370.2L531.8 368.9L525.1 365.0L524.5 359.9L531.0 354.7L531.8 354.5L534.5 354.7L539.3 355.6L542.4 354.7L546.8 354.2L554.3 351.3L559.1 349.6L561.9 349.0L569.4 347.7L576.9 345.3L578.6 344.5L584.4 340.8L586.4 339.3L591.5 334.2L591.9 333.5L595.3 329.0L598.3 323.9L599.5 321.3L600.7 318.8L602.6 313.6L604.2 308.5L605.5 303.3L606.6 298.2L607.0 296.3L607.6 293.1L608.3 287.9L609.0 282.8L609.5 277.6L609.9 272.5L610.3 267.4L610.5 262.2L610.7 257.1L610.7 251.9L610.7 246.8L610.6 241.7L610.4 236.5L610.1 231.4L609.7 226.2L609.2 221.1L608.7 216.0L608.0 210.8L607.2 205.7L607.0 204.2L606.4 200.5L605.5 195.4L604.5 190.3L603.4 185.1L602.3 180.0L601.2 174.8L600.1 169.7L599.5 166.9L599.0 164.6L597.9 159.4L596.9 154.3L596.0 149.1L595.2 144.0L594.5 138.9L594.0 133.7L593.5 128.6L599.5 128.6L607.0 128.6L614.5 128.6L614.5 133.7L614.5 138.9L614.5 144.0L614.5 149.1L614.5 154.3L614.5 159.4L614.5 164.6L614.5 169.7L614.5 174.8L614.5 180.0L614.5 185.1L614.5 190.3L614.5 195.4L614.5 200.5L614.5 205.7L614.5 210.8L614.5 216.0L614.5 221.1L614.5 226.2L614.5 231.4L614.5 236.5L614.5 241.7L614.5 246.8L614.5 251.9L614.5 257.1L614.5 262.2L614.5 267.4L614.5 272.5L614.5 277.6L614.5 282.8L614.5 287.9L614.5 293.1L614.5 298.2L614.5 303.3L614.5 308.5L614.5 313.6L614.5 318.8L614.5 323.9L614.5 329.0L614.5 334.2L614.5 339.3L614.5 344.5L614.5 349.6L614.5 354.7L614.5 359.9L614.5 365.0L614.5 370.2L614.5 375.3L614.5 380.4L614.5 385.6L614.5 390.7L614.5 395.9L614.5 401.0L614.5 406.1L614.5 411.3L614.5 416.4L614.5 421.6L614.5 426.7L614.5 431.8L614.5 437.0L614.5 442.1L614.5 447.3L614.5 452.4L614.5 457.5L614.5 462.7L614.5 467.8L614.5 473.0L614.5 478.1L614.5 483.2L614.5 488.4L614.5 493.5L614.5 498.7L607.0 498.7L599.5 498.7L591.9 498.7L584.4 498.7L576.9 498.7L569.4 498.7L561.9 498.7L554.3 498.7L546.8 498.7L539.3 498.7L531.8 498.7L524.3 498.7L516.7 498.7L509.2 498.7L501.7 498.7L494.2 498.7L486.7 498.7L479.1 498.7L471.6 498.7L464.1 498.7L456.6 498.7L449.1 498.7L441.5 498.7L434.0 498.7L426.5 498.7L419.0 498.7L411.5 498.7L403.9 498.7L396.4 498.7L388.9 498.7L381.4 498.7L373.9 498.7L366.3 498.7L358.8 498.7L351.3 498.7L343.8 498.7L336.3 498.7L328.7 498.7L328.7 493.5L328.7 488.4L328.7 483.2L328.7 478.1L328.7 473.0L328.7 467.8L328.7 462.7L328.7 457.5L328.7 452.4L328.7 447.3L328.7 442.1L328.7 437.0L328.7 431.8L328.7 426.7L328.7 421.6L328.7 416.4L328.7 411.3L328.7 406.1L328.7 401.0L328.7 395.9L328.7 390.7L328.7 385.6L328.7 380.4L328.7 375.3L328.7 370.2L328.7 365.0L328.7 359.9L328.7 354.7L328.7 349.6L328.7 344.5L328.7 339.3L328.7 334.2L328.7 329.0L328.7 323.9L328.7 318.8L328.7 313.6L328.7 308.5L328.7 303.3L328.7 298.2L328.7 293.1L328.7 287.9L328.7 282.8L328.7 277.6L328.7 272.5L328.7 267.4L328.7 262.2L328.7 257.1L328.7 251.9L328.7 246.8L328.7 241.7L328.7 236.5L328.7 231.4L328.7 226.2L328.7 221.1L328.7 216.0L328.7 210.8L328.7 205.7L328.7 200.5L328.7 195.4L328.7 190.3L328.7 185.1L328.7 180.0L328.7 174.8L328.7 169.7L328.7 164.6L328.7 159.4L328.7 154.3L328.7 149.1L328.7 144.0L328.7 138.9L328.7 133.7Z" fill="#1ea6e1"/>
<path d="M328.7 128.6L336.3 128.6L343.8 128.6L351.3 128.6L358.8 128.6L362.6 128.6L362.8 133.7L363.2 138.9L363.7 144.0L364.4 149.1L365.7 154.3L366.3 155.7L368.1 159.4L373.2 164.6L373.9 164.9L379.2 169.7L381.4 174.4L381.7 174.8L388.9 179.2L396.4 179.1L403.9 178.9L411.5 178.1L419.0 177.7L426.5 178.0L432.9 180.0L434.0 180.3L434.4 180.0L437.5 174.8L441.5 171.3L443.4 169.7L446.4 164.6L449.1 161.2L456.6 162.5L464.1 161.1L467.5 159.4L471.6 157.2L475.7 154.3L479.1 151.4L481.9 149.1L486.7 145.5L488.3 144.0L490.2 138.9L494.2 133.9L494.3 133.7L496.5 128.6L501.7 128.6L509.2 128.6L516.7 128.6L524.3 128.6L528.7 128.6L526.7 133.7L524.3 135.8L522.3 138.9L518.5 144.0L516.7 145.1L513.6 149.1L512.9 154.3L512.0 159.4L509.2 163.1L508.3 164.6L506.6 169.7L506.8 174.8L506.6 180.0L503.9 185.1L501.7 187.0L494.2 188.5L486.7 188.5L483.6 190.3L479.1 192.9L471.6 193.8L464.4 195.4L464.1 195.5L462.8 195.4L456.6 195.1L449.1 194.7L448.1 195.4L445.8 200.5L441.5 205.6L441.5 205.7L437.6 210.8L434.0 213.5L426.7 210.8L426.5 210.7L425.6 210.8L419.0 212.7L415.6 216.0L411.5 219.6L406.4 221.1L403.9 223.9L401.6 226.2L401.0 231.4L402.3 236.5L403.3 241.7L403.0 246.8L402.8 251.9L403.6 257.1L403.9 258.1L405.7 262.2L408.9 267.4L411.5 271.6L412.0 272.5L415.1 277.6L418.1 282.8L419.0 284.2L421.3 287.9L424.3 293.1L426.5 297.5L426.9 298.2L429.3 303.3L431.4 308.5L433.5 313.6L434.0 314.8L435.9 318.8L438.2 323.9L440.6 329.0L441.5 330.9L443.5 334.2L447.9 339.3L449.1 340.4L453.4 344.5L456.6 348.1L457.9 349.6L459.9 354.7L460.1 359.9L461.7 365.0L464.1 368.6L465.7 370.2L470.0 375.3L471.6 379.2L472.5 380.4L473.4 385.6L474.4 390.7L476.2 395.9L478.3 401.0L479.1 403.0L481.0 406.1L483.1 411.3L484.5 416.4L485.4 421.6L486.3 426.7L486.7 427.8L488.4 431.8L490.9 437.0L493.4 442.1L494.2 443.7L496.7 447.3L501.3 452.4L501.7 452.8L508.3 457.5L509.2 458.1L515.9 462.7L516.7 463.3L524.0 467.8L524.3 468.0L531.4 473.0L531.8 473.3L539.3 478.0L539.7 478.1L546.8 479.9L553.3 478.1L554.3 477.8L558.4 473.0L560.9 467.8L561.9 465.1L562.3 462.7L563.1 457.5L563.8 452.4L564.7 447.3L566.7 442.1L569.4 438.9L570.8 437.0L576.4 431.8L576.9 431.4L580.0 426.7L582.0 421.6L583.1 416.4L583.6 411.3L583.5 406.1L583.1 401.0L582.5 395.9L581.1 390.7L577.5 385.6L576.9 385.2L569.4 381.4L567.5 380.4L561.9 376.5L559.5 375.3L554.3 371.7L549.5 370.2L546.8 368.6L539.3 365.4L537.9 365.0L534.6 359.9L539.3 359.7L546.8 357.6L550.2 354.7L554.3 353.2L561.9 350.5L564.9 349.6L569.4 348.8L576.9 346.8L581.6 344.5L584.4 342.7L589.0 339.3L591.9 336.3L594.0 334.2L597.8 329.0L599.5 326.1L600.8 323.9L603.3 318.8L605.3 313.6L607.0 308.6L607.0 308.5L608.5 303.3L609.7 298.2L610.7 293.1L611.6 287.9L612.3 282.8L613.0 277.6L613.5 272.5L613.9 267.4L614.2 262.2L614.5 257.1L614.5 255.9L614.5 257.1L614.5 262.2L614.5 267.4L614.5 272.5L614.5 277.6L614.5 282.8L614.5 287.9L614.5 293.1L614.5 298.2L614.5 303.3L614.5 308.5L614.5 313.6L614.5 318.8L614.5 323.9L614.5 329.0L614.5 334.2L614.5 339.3L614.5 344.5L614.5 349.6L614.5 354.7L614.5 359.9L614.5 365.0L614.5 370.2L614.5 375.3L614.5 380.4L614.5 385.6L614.5 390.7L614.5 395.9L614.5 401.0L614.5 406.1L614.5 411.3L614.5 416.4L614.5 421.6L614.5 426.7L614.5 431.8L614.5 437.0L614.5 442.1L614.5 447.3L614.5 452.4L614.5 457.5L614.5 462.7L614.5 467.8L614.5 473.0L614.5 478.1L614.5 483.2L614.5 488.4L614.5 493.5L614.5 498.7L607.0 498.7L599.5 498.7L591.9 498.7L584.4 498.7L576.9 498.7L569.4 498.7L561.9 498.7L554.3 498.7L546.8 498.7L539.3 498.7L531.8 498.7L524.3 498.7L516.7 498.7L509.2 498.7L501.7 498.7L494.2 498.7L486.7 498.7L479.1 498.7L471.6 498.7L464.1 498.7L456.6 498.7L449.1 498.7L441.5 498.7L434.0 498.7L426.5 498.7L419.0 498.7L411.5 498.7L403.9 498.7L396.4 498.7L388.9 498.7L381.4 498.7L373.9 498.7L366.3 498.7L358.8 498.7L351.3 498.7L343.8 498.7L336.3 498.7L328.7 498.7L328.7 493.5L328.7 488.4L328.7 483.2L328.7 478.1L328.7 473.0L328.7 467.8L328.7 462.7L328.7 457.5L328.7 452.4L328.7 447.3L328.7 442.1L328.7 437.0L328.7 431.8L328.7 426.7L328.7 421.6L328.7 416.4L328.7 411.3L328.7 406.1L328.7 401.0L328.7 395.9L328.7 390.7L328.7 385.6L328.7 380.4L328.7 375.3L328.7 370.2L328.7 365.0L328.7 359.9L328.7 354.7L328.7 349.6L328.7 344.5L328.7 339.3L328.7 334.2L328.7 329.0L328.7 323.9L328.7 318.8L328.7 313.6L328.7 308.5L328.7 303.3L328.7 298.2L328.7 293.1L328.7 287.9L328.7 282.8L328.7 277.6L328.7 272.5L328.7 267.4L328.7 262.2L328.7 257.1L328.7 251.9L328.7 246.8L328.7 241.7L328.7 236.5L328.7 231.4L328.7 226.2L328.7 221.1L328.7 216.0L328.7 210.8L328.7 205.7L328.7 200.5L328.7 195.4L328.7 190.3L328.7 185.1L328.7 180.0L328.7 174.8L328.7 169.7L328.7 164.6L328.7 159.4L328.7 154.3L328.7 149.1L328.7 144.0L328.7 138.9L328.7 133.7ZM600.0 128.6L607.0 128.6L614.5 128.6L614.5 133.7L614.5 138.9L614.5 144.0L614.5 149.1L614.5 154.3L614.5 159.4L614.5 164.6L614.5 169.7L614.5 174.8L614.5 180.0L614.5 185.1L614.5 190.3L614.5 195.4L614.5 200.5L614.5 205.7L614.5 210.8L614.5 216.0L614.5 221.1L614.5 226.2L614.5 231.4L614.5 236.5L614.5 236.8L614.5 236.5L614.3 231.4L614.0 226.2L613.6 221.1L613.1 216.0L612.5 210.8L611.8 205.7L611.1 200.5L610.3 195.4L609.4 190.3L608.5 185.1L607.5 180.0L607.0 177.0L606.6 174.8L605.6 169.7L604.6 164.6L603.7 159.4L602.8 154.3L602.1 149.1L601.4 144.0L600.8 138.9L600.4 133.7Z" fill="#1babde"/>
<path d="M328.7 128.6L336.3 128.6L343.8 128.6L351.3 128.6L358.8 128.6L359.8 128.6L360.2 133.7L360.6 138.9L361.2 144.0L362.0 149.1L363.2 154.3L365.4 159.4L366.3 160.5L370.0 164.6L373.9 166.6L377.3 169.7L379.6 174.8L380.9 180.0L381.4 180.2L388.9 180.1L394.6 180.0L396.4 179.9L403.9 179.5L411.5 178.5L419.0 177.9L426.5 178.2L432.2 180.0L434.0 180.4L434.6 180.0L437.7 174.8L441.5 171.5L443.6 169.7L446.6 164.6L449.1 161.5L456.6 162.7L464.1 161.3L467.8 159.4L471.6 157.4L475.9 154.3L479.1 151.6L482.2 149.1L486.7 145.6L488.5 144.0L490.4 138.9L494.2 134.1L494.6 133.7L496.7 128.6L501.7 128.6L509.2 128.6L516.7 128.6L524.3 128.6L528.5 128.6L526.3 133.7L524.3 135.4L522.1 138.9L518.1 144.0L516.7 144.8L513.4 149.1L512.7 154.3L511.8 159.4L509.2 162.8L508.1 164.6L506.5 169.7L506.6 174.8L506.4 180.0L503.6 185.1L501.7 186.8L494.2 188.3L486.7 188.4L483.4 190.3L479.1 192.8L471.6 193.7L464.1 195.3L456.6 194.9L449.1 194.5L447.8 195.4L445.6 200.5L441.5 205.4L441.2 205.7L437.4 210.8L434.0 213.3L427.2 210.8L426.5 210.3L423.5 210.8L419.0 212.1L414.9 216.0L411.5 219.0L404.3 221.1L403.9 221.6L399.3 226.2L398.9 231.4L400.1 236.5L400.9 241.7L400.6 246.8L400.3 251.9L400.9 257.1L403.0 262.2L403.9 263.9L406.3 267.4L409.5 272.5L411.5 276.0L412.5 277.6L415.5 282.8L418.9 287.9L419.0 288.1L421.9 293.1L424.4 298.2L426.5 303.2L426.6 303.3L428.7 308.5L431.0 313.6L433.3 318.8L434.0 320.3L435.7 323.9L438.3 329.0L440.9 334.2L441.5 335.1L445.1 339.3L449.1 343.1L450.5 344.5L455.1 349.6L456.6 353.4L457.1 354.7L457.5 359.9L459.3 365.0L462.9 370.2L464.1 372.0L467.0 375.3L469.3 380.4L470.2 385.6L471.4 390.7L471.6 391.4L473.4 395.9L475.7 401.0L477.9 406.1L479.1 409.7L479.9 411.3L481.5 416.4L482.6 421.6L483.7 426.7L485.3 431.8L486.7 435.1L487.6 437.0L490.4 442.1L493.2 447.3L494.2 448.7L497.5 452.4L501.7 455.9L504.0 457.5L509.2 461.2L511.5 462.7L516.7 466.3L519.2 467.8L524.3 471.5L526.3 473.0L531.8 477.1L533.3 478.1L539.3 481.6L546.2 483.2L546.8 483.4L547.5 483.2L554.3 481.7L558.1 478.1L561.7 473.0L561.9 472.5L563.0 467.8L563.8 462.7L564.3 457.5L564.9 452.4L565.8 447.3L568.2 442.1L569.4 440.7L572.0 437.0L576.9 432.6L577.5 431.8L581.1 426.7L583.2 421.6L584.4 417.2L584.6 416.4L585.3 411.3L585.4 406.1L585.3 401.0L584.8 395.9L584.4 394.5L583.3 390.7L579.7 385.6L576.9 383.6L570.8 380.4L569.4 379.6L563.2 375.3L561.9 373.4L557.2 370.2L554.3 367.1L550.8 365.0L549.8 359.9L554.3 355.7L555.1 354.7L561.9 352.3L569.4 350.2L571.3 349.6L576.9 348.2L584.4 344.6L584.7 344.5L591.6 339.3L591.9 339.0L596.6 334.2L599.5 330.2L600.3 329.0L603.4 323.9L605.9 318.8L607.0 316.1L608.0 313.6L609.9 308.5L611.4 303.3L612.7 298.2L613.9 293.1L614.5 289.7L614.5 293.1L614.5 298.2L614.5 303.3L614.5 308.5L614.5 313.6L614.5 318.8L614.5 323.9L614.5 329.0L614.5 334.2L614.5 339.3L614.5 344.5L614.5 349.6L614.5 354.7L614.5 359.9L614.5 365.0L614.5 370.2L614.5 375.3L614.5 380.4L614.5 385.6L614.5 390.7L614.5 395.9L614.5 401.0L614.5 406.1L614.5 411.3L614.5 416.4L614.5 421.6L614.5 426.7L614.5 431.8L614.5 437.0L614.5 442.1L614.5 447.3L614.5 452.4L614.5 457.5L614.5 462.7L614.5 467.8L614.5 473.0L614.5 478.1L614.5 483.2L614.5 488.4L614.5 493.5L614.5 498.7L607.0 498.7L599.5 498.7L591.9 498.7L584.4 498.7L576.9 498.7L569.4 498.7L561.9 498.7L554.3 498.7L546.8 498.7L539.3 498.7L531.8 498.7L524.3 498.7L516.7 498.7L509.2 498.7L501.7 498.7L494.2 498.7L486.7 498.7L479.1 498.7L471.6 498.7L464.1 498.7L456.6 498.7L449.1 498.7L441.5 498.7L434.0 498.7L426.5 498.7L419.0 498.7L411.5 498.7L403.9 498.7L396.4 498.7L388.9 498.7L381.4 498.7L373.9 498.7L366.3 498.7L358.8 498.7L351.3 498.7L343.8 498.7L336.3 498.7L328.7 498.7L328.7 493.5L328.7 488.4L328.7 483.2L328.7 478.1L328.7 473.0L328.7 467.8L328.7 462.7L328.7 457.5L328.7 452.4L328.7 447.3L328.7 442.1L328.7 437.0L328.7 431.8L328.7 426.7L328.7 421.6L328.7 416.4L328.7 411.3L328.7 406.1L328.7 401.0L328.7 395.9L328.7 390.7L328.7 385.6L328.7 380.4L328.7 375.3L328.7 370.2L328.7 365.0L328.7 359.9L328.7 354.7L328.7 349.6L328.7 344.5L328.7 339.3L328.7 334.2L328.7 329.0L328.7 323.9L328.7 318.8L328.7 313.6L328.7 308.5L328.7 303.3L328.7 298.2L328.7 293.1L328.7 287.9L328.7 282.8L328.7 277.6L328.7 272.5L328.7 267.4L328.7 262.2L328.7 257.1L328.7 251.9L328.7 246.8L328.7 241.7L328.7 236.5L328.7 231.4L328.7 226.2L328.7 221.1L328.7 216.0L328.7 210.8L328.7 205.7L328.7 200.5L328.7 195.4L328.7 190.3L328.7 185.1L328.7 180.0L328.7 174.8L328.7 169.7L328.7 164.6L328.7 159.4L328.7 154.3L328.7 149.1L328.7 144.0L328.7 138.9L328.7 133.7ZM606.6 128.6L607.0 128.6L614.5 128.6L614.5 133.7L614.5 138.9L614.5 144.0L614.5 149.1L614.5 154.3L614.5 159.4L614.5 164.6L614.5 169.7L614.5 174.8L614.5 180.0L614.5 185.1L614.5 190.3L614.5 190.7L614.4 190.3L613.6 185.1L612.8 180.0L612.0 174.8L611.2 169.7L610.3 164.6L609.6 159.4L608.8 154.3L608.2 149.1L607.6 144.0L607.2 138.9L607.0 136.0L606.8 133.7Z" fill="#15afd9"/>
<path d="M328.7 128.6L336.3 128.6L343.8 128.6L351.3 128.6L357.2 128.6L357.6 133.7L358.1 138.9L358.8 144.0L358.8 144.3L359.6 149.1L360.7 154.3L362.5 159.4L366.3 164.0L366.8 164.6L373.9 168.3L375.4 169.7L377.6 174.8L378.5 180.0L381.4 181.6L388.9 180.4L396.4 180.2L403.9 180.0L404.1 180.0L411.5 178.8L419.0 178.2L426.5 178.4L431.6 180.0L434.0 180.6L434.9 180.0L437.9 174.8L441.5 171.6L443.8 169.7L446.9 164.6L449.1 161.8L456.6 162.9L464.1 161.4L468.1 159.4L471.6 157.5L476.1 154.3L479.1 151.7L482.4 149.1L486.7 145.8L488.7 144.0L490.6 138.9L494.2 134.3L494.8 133.7L496.9 128.6L501.7 128.6L509.2 128.6L516.7 128.6L524.3 128.6L528.2 128.6L525.9 133.7L524.3 135.1L521.9 138.9L517.7 144.0L516.7 144.6L513.2 149.1L512.5 154.3L511.5 159.4L509.2 162.5L507.9 164.6L506.3 169.7L506.5 174.8L506.3 180.0L503.4 185.1L501.7 186.6L494.2 188.1L486.7 188.2L483.1 190.3L479.1 192.7L471.6 193.6L464.1 195.2L456.6 194.8L449.1 194.3L447.6 195.4L445.4 200.5L441.5 205.1L440.9 205.7L437.1 210.8L434.0 213.1L427.7 210.8L426.5 210.0L421.3 210.8L419.0 211.5L414.2 216.0L411.5 218.4L403.9 220.5L403.0 221.1L397.1 226.2L396.8 231.4L398.0 236.5L398.6 241.7L398.1 246.8L397.7 251.9L398.3 257.1L400.6 262.2L403.7 267.4L403.9 267.8L407.1 272.5L410.0 277.6L411.5 280.3L413.0 282.8L416.3 287.9L419.0 292.3L419.5 293.1L421.9 298.2L424.1 303.3L426.1 308.5L426.5 309.3L428.4 313.6L430.9 318.8L433.3 323.9L434.0 325.3L435.9 329.0L438.7 334.2L441.5 338.4L442.3 339.3L447.7 344.5L449.1 346.0L452.3 349.6L454.5 354.7L455.0 359.9L456.6 364.2L456.9 365.0L460.6 370.2L464.0 375.3L464.1 375.4L466.6 380.4L467.6 385.6L468.8 390.7L470.8 395.9L471.6 397.8L473.1 401.0L475.3 406.1L477.1 411.3L478.5 416.4L479.1 418.9L479.8 421.6L481.1 426.7L482.8 431.8L484.9 437.0L486.7 440.7L487.4 442.1L490.5 447.3L493.9 452.4L494.2 452.8L500.0 457.5L501.7 458.9L507.3 462.7L509.2 464.1L514.6 467.8L516.7 469.4L521.6 473.0L524.3 475.2L528.1 478.1L531.8 481.0L535.7 483.2L539.3 485.2L546.8 487.0L554.3 485.6L557.5 483.2L561.9 478.7L562.2 478.1L564.0 473.0L564.9 467.8L565.2 462.7L565.5 457.5L566.0 452.4L567.0 447.3L569.4 442.6L569.6 442.1L573.3 437.0L576.9 433.7L578.5 431.8L582.1 426.7L584.4 421.6L584.5 421.6L585.9 416.4L586.7 411.3L587.1 406.1L587.1 401.0L586.6 395.9L585.3 390.7L584.4 389.2L582.0 385.6L576.9 381.9L574.0 380.4L569.4 377.9L565.7 375.3L562.1 370.2L561.9 369.3L558.8 365.0L556.8 359.9L560.3 354.7L561.9 354.2L569.4 352.0L576.9 349.7L577.2 349.6L584.4 346.5L587.9 344.5L591.9 341.4L594.4 339.3L599.1 334.2L599.5 333.7L602.9 329.0L606.0 323.9L607.0 321.9L608.6 318.8L610.8 313.6L612.7 308.5L614.3 303.3L614.5 302.7L614.5 303.3L614.5 308.5L614.5 313.6L614.5 318.8L614.5 323.9L614.5 329.0L614.5 334.2L614.5 339.3L614.5 344.5L614.5 349.6L614.5 354.7L614.5 359.9L614.5 365.0L614.5 370.2L614.5 375.3L614.5 380.4L614.5 385.6L614.5 390.7L614.5 395.9L614.5 401.0L614.5 406.1L614.5 411.3L614.5 416.4L614.5 421.6L614.5 426.7L614.5 431.8L614.5 437.0L614.5 442.1L614.5 447.3L614.5 452.4L614.5 457.5L614.5 462.7L614.5 467.8L614.5 473.0L614.5 478.1L614.5 483.2L614.5 488.4L614.5 493.5L614.5 498.7L607.0 498.7L599.5 498.7L591.9 498.7L584.4 498.7L576.9 498.7L569.4 498.7L561.9 498.7L554.3 498.7L546.8 498.7L539.3 498.7L531.8 498.7L524.3 498.7L516.7 498.7L509.2 498.7L501.7 498.7L494.2 498.7L486.7 498.7L479.1 498.7L471.6 498.7L464.1 498.7L456.6 498.7L449.1 498.7L441.5 498.7L434.0 498.7L426.5 498.7L419.0 498.7L411.5 498.7L403.9 498.7L396.4 498.7L388.9 498.7L381.4 498.7L373.9 498.7L366.3 498.7L358.8 498.7L351.3 498.7L343.8 498.7L336.3 498.7L328.7 498.7L328.7 493.5L328.7 488.4L328.7 483.2L328.7 478.1L328.7 473.0L328.7 467.8L328.7 462.7L328.7 457.5L328.7 452.4L328.7 447.3L328.7 442.1L328.7 437.0L328.7 431.8L328.7 426.7L328.7 421.6L328.7 416.4L328.7 411.3L328.7 406.1L328.7 401.0L328.7 395.9L328.7 390.7L328.7 385.6L328.7 380.4L328.7 375.3L328.7 370.2L328.7 365.0L328.7 359.9L328.7 354.7L328.7 349.6L328.7 344.5L328.7 339.3L328.7 334.2L328.7 329.0L328.7 323.9L328.7 318.8L328.7 313.6L328.7 308.5L328.7 303.3L328.7 298.2L328.7 293.1L328.7 287.9L328.7 282.8L328.7 277.6L328.7 272.5L328.7 267.4L328.7 262.2L328.7 257.1L328.7 251.9L328.7 246.8L328.7 241.7L328.7 236.5L328.7 231.4L328.7 226.2L328.7 221.1L328.7 216.0L328.7 210.8L328.7 205.7L328.7 200.5L328.7 195.4L328.7 190.3L328.7 185.1L328.7 180.0L328.7 174.8L328.7 169.7L328.7 164.6L328.7 159.4L328.7 154.3L328.7 149.1L328.7 144.0L328.7 138.9L328.7 133.7ZM613.2 128.6L614.5 128.6L614.5 133.7L614.5 138.9L614.5 144.0L614.5 149.1L614.5 150.5L614.4 149.1L613.9 144.0L613.6 138.9L613.4 133.7Z" fill="#0db3d3"/>
<path d="M328.7 128.6L336.3 128.6L343.8 128.6L351.3 128.6L354.7 128.6L355.2 133.7L355.8 138.9L356.5 144.0L357.3 149.1L358.3 154.3L358.8 156.7L359.6 159.4L362.4 164.6L366.3 166.9L372.6 169.7L373.9 170.7L375.7 174.8L376.1 180.0L381.4 182.9L388.9 180.7L396.4 180.4L403.9 180.2L406.3 180.0L411.5 179.2L419.0 178.4L426.5 178.6L430.9 180.0L434.0 180.8L435.1 180.0L438.1 174.8L441.5 171.8L444.0 169.7L447.2 164.6L449.1 162.2L456.6 163.1L464.1 161.5L468.4 159.4L471.6 157.7L476.3 154.3L479.1 151.9L482.6 149.1L486.7 146.0L488.9 144.0L490.8 138.9L494.2 134.6L495.1 133.7L497.1 128.6L501.7 128.6L509.2 128.6L516.7 128.6L524.3 128.6L528.0 128.6L525.5 133.7L524.3 134.7L521.7 138.9L517.3 144.0L516.7 144.3L513.0 149.1L512.3 154.3L511.3 159.4L509.2 162.2L507.6 164.6L506.2 169.7L506.3 174.8L506.1 180.0L503.1 185.1L501.7 186.4L494.2 187.9L486.7 188.1L482.9 190.3L479.1 192.5L471.6 193.4L464.1 195.0L456.6 194.6L449.1 194.2L447.4 195.4L445.2 200.5L441.5 204.9L440.7 205.7L436.9 210.8L434.0 212.9L428.3 210.8L426.5 209.6L419.1 210.8L419.0 210.9L413.5 216.0L411.5 217.8L403.9 219.8L401.9 221.1L396.4 225.6L395.6 226.2L395.4 231.4L396.0 236.5L396.2 241.7L395.8 246.8L395.4 251.9L395.8 257.1L396.4 258.4L398.3 262.2L401.6 267.4L403.9 271.4L404.7 272.5L407.8 277.6L410.5 282.8L411.5 284.4L413.7 287.9L416.9 293.1L419.0 297.3L419.4 298.2L421.6 303.3L423.7 308.5L426.0 313.6L426.5 314.7L428.5 318.8L431.1 323.9L433.7 329.0L434.0 329.7L436.6 334.2L440.0 339.3L441.5 341.2L444.9 344.5L449.1 349.0L449.6 349.6L451.9 354.7L452.6 359.9L454.5 365.0L456.6 367.8L458.3 370.2L461.9 375.3L463.9 380.4L464.1 381.4L465.0 385.6L466.3 390.7L468.4 395.9L470.6 401.0L471.6 403.6L472.7 406.1L474.5 411.3L476.0 416.4L477.3 421.6L478.6 426.7L479.1 428.5L480.2 431.8L482.4 437.0L484.8 442.1L486.7 445.4L487.8 447.3L491.3 452.4L494.2 455.6L496.5 457.5L501.7 461.6L503.3 462.7L509.2 467.0L510.4 467.8L516.7 472.7L517.1 473.0L523.4 478.1L524.3 478.9L529.8 483.2L531.8 484.8L538.4 488.4L539.3 488.8L546.8 490.6L554.3 489.5L556.2 488.4L561.9 484.0L562.4 483.2L564.9 478.1L566.2 473.0L566.7 467.8L566.7 462.7L566.7 457.5L567.0 452.4L568.2 447.3L569.4 444.9L570.6 442.1L574.5 437.0L576.9 434.8L579.5 431.8L583.1 426.7L584.4 423.8L585.6 421.6L587.1 416.4L588.2 411.3L588.7 406.1L588.9 401.0L588.5 395.9L587.2 390.7L584.4 385.9L584.2 385.6L577.1 380.4L576.9 380.3L569.4 376.1L568.2 375.3L564.4 370.2L563.5 365.0L563.1 359.9L566.2 354.7L569.4 353.8L576.9 351.6L581.6 349.6L584.4 348.4L591.0 344.5L591.9 343.8L597.2 339.3L599.5 336.8L601.8 334.2L605.6 329.0L607.0 326.7L608.7 323.9L611.3 318.8L613.6 313.6L614.5 311.2L614.5 313.6L614.5 318.8L614.5 323.9L614.5 329.0L614.5 334.2L614.5 339.3L614.5 344.5L614.5 349.6L614.5 354.7L614.5 359.9L614.5 365.0L614.5 370.2L614.5 375.3L614.5 380.4L614.5 385.6L614.5 390.7L614.5 395.9L614.5 401.0L614.5 406.1L614.5 411.3L614.5 416.4L614.5 421.6L614.5 426.7L614.5 431.8L614.5 437.0L614.5 442.1L614.5 447.3L614.5 452.4L614.5 457.5L614.5 462.7L614.5 467.8L614.5 473.0L614.5 478.1L614.5 483.2L614.5 488.4L614.5 493.5L614.5 498.7L607.0 498.7L599.5 498.7L591.9 498.7L584.4 498.7L576.9 498.7L569.4 498.7L561.9 498.7L554.3 498.7L546.8 498.7L539.3 498.7L531.8 498.7L524.3 498.7L516.7 498.7L509.2 498.7L501.7 498.7L494.2 498.7L486.7 498.7L479.1 498.7L471.6 498.7L464.1 498.7L456.6 498.7L449.1 498.7L441.5 498.7L434.0 498.7L426.5 498.7L419.0 498.7L411.5 498.7L403.9 498.7L396.4 498.7L388.9 498.7L381.4 498.7L373.9 498.7L366.3 498.7L358.8 498.7L351.3 498.7L343.8 498.7L336.3 498.7L328.7 498.7L328.7 493.5L328.7 488.4L328.7 483.2L328.7 478.1L328.7 473.0L328.7 467.8L328.7 462.7L328.7 457.5L328.7 452.4L328.7 447.3L328.7 442.1L328.7 437.0L328.7 431.8L328.7 426.7L328.7 421.6L328.7 416.4L328.7 411.3L328.7 406.1L328.7 401.0L328.7 395.9L328.7 390.7L328.7 385.6L328.7 380.4L328.7 375.3L328.7 370.2L328.7 365.0L328.7 359.9L328.7 354.7L328.7 349.6L328.7 344.5L328.7 339.3L328.7 334.2L328.7 329.0L328.7 323.9L328.7 318.8L328.7 313.6L328.7 308.5L328.7 303.3L328.7 298.2L328.7 293.1L328.7 287.9L328.7 282.8L328.7 277.6L328.7 272.5L328.7 267.4L328.7 262.2L328.7 257.1L328.7 251.9L328.7 246.8L328.7 241.7L328.7 236.5L328.7 231.4L328.7 226.2L328.7 221.1L328.7 216.0L328.7 210.8L328.7 205.7L328.7 200.5L328.7 195.4L328.7 190.3L328.7 185.1L328.7 180.0L328.7 174.8L328.7 169.7L328.7 164.6L328.7 159.4L328.7 154.3L328.7 149.1L328.7 144.0L328.7 138.9L328.7 133.7Z" fill="#05b6cd"/>
<path d="M328.7 128.6L336.3 128.6L343.8 128.6L351.3 128.6L352.1 128.6L352.7 133.7L353.5 138.9L354.3 144.0L355.2 149.1L356.1 154.3L357.2 159.4L358.3 164.6L358.8 166.8L366.3 169.6L366.5 169.7L373.5 174.8L373.8 180.0L373.9 180.3L381.4 184.3L388.9 181.0L396.4 180.6L403.9 180.4L408.5 180.0L411.5 179.5L419.0 178.7L426.5 178.8L430.2 180.0L434.0 181.0L435.4 180.0L438.3 174.8L441.5 172.0L444.2 169.7L447.4 164.6L449.1 162.5L456.6 163.3L464.1 161.7L468.7 159.4L471.6 157.9L476.5 154.3L479.1 152.1L482.9 149.1L486.7 146.2L489.1 144.0L491.0 138.9L494.2 134.8L495.3 133.7L497.3 128.6L501.7 128.6L509.2 128.6L516.7 128.6L524.3 128.6L527.7 128.6L525.1 133.7L524.3 134.4L521.5 138.9L516.9 144.0L516.7 144.1L512.8 149.1L512.1 154.3L511.1 159.4L509.2 161.9L507.4 164.6L506.0 169.7L506.1 174.8L505.9 180.0L502.9 185.1L501.7 186.2L494.2 187.7L486.7 188.0L482.7 190.3L479.1 192.4L471.6 193.3L464.1 194.9L456.6 194.5L449.1 194.0L447.2 195.4L445.0 200.5L441.5 204.7L440.4 205.7L436.6 210.8L434.0 212.7L428.8 210.8L426.5 209.3L419.0 210.3L418.6 210.8L412.9 216.0L411.5 217.2L403.9 219.1L400.8 221.1L396.4 224.7L394.4 226.2L394.2 231.4L394.6 236.5L394.5 241.7L393.8 246.8L393.3 251.9L393.7 257.1L396.0 262.2L396.4 262.8L399.5 267.4L402.6 272.5L403.9 275.1L405.5 277.6L408.2 282.8L411.1 287.9L411.5 288.5L414.4 293.1L416.9 298.2L419.0 303.0L419.1 303.3L421.3 308.5L423.6 313.6L426.1 318.8L426.5 319.4L428.9 323.9L431.5 329.0L434.0 333.6L434.4 334.2L437.8 339.3L441.5 343.8L442.2 344.5L446.9 349.6L449.1 354.1L449.3 354.7L450.1 359.9L452.2 365.0L456.0 370.2L456.6 370.9L459.8 375.3L461.8 380.4L462.7 385.6L463.8 390.7L464.1 391.4L466.0 395.9L468.3 401.0L470.2 406.1L471.6 410.5L471.9 411.3L473.4 416.4L474.8 421.6L476.2 426.7L477.8 431.8L479.1 435.3L479.8 437.0L482.4 442.1L485.3 447.3L486.7 449.4L488.8 452.4L493.3 457.5L494.2 458.4L499.7 462.7L501.7 464.2L506.6 467.8L509.2 470.0L513.1 473.0L516.7 476.2L519.1 478.1L524.3 482.7L524.9 483.2L531.6 488.4L531.8 488.5L539.3 492.5L544.0 493.5L546.8 494.2L553.0 493.5L554.3 493.4L561.9 489.0L562.4 488.4L565.8 483.2L567.7 478.1L568.5 473.0L568.5 467.8L568.2 462.7L567.9 457.5L568.1 452.4L569.4 447.3L569.4 447.3L571.6 442.1L575.8 437.0L576.9 436.0L580.4 431.8L584.1 426.7L584.4 426.0L586.6 421.6L588.4 416.4L589.6 411.3L590.4 406.1L590.7 401.0L590.4 395.9L589.2 390.7L586.4 385.6L584.4 383.5L580.3 380.4L576.9 378.7L570.9 375.3L569.4 373.6L566.8 370.2L566.3 365.0L567.2 359.9L569.4 357.1L572.3 354.7L576.9 353.4L584.4 350.4L585.9 349.6L591.9 346.1L594.3 344.5L599.5 339.9L600.1 339.3L604.6 334.2L607.0 330.9L608.3 329.0L611.4 323.9L614.1 318.8L614.5 317.8L614.5 318.8L614.5 323.9L614.5 329.0L614.5 334.2L614.5 339.3L614.5 344.5L614.5 349.6L614.5 354.7L614.5 359.9L614.5 365.0L614.5 370.2L614.5 375.3L614.5 380.4L614.5 385.6L614.5 390.7L614.5 395.9L614.5 401.0L614.5 406.1L614.5 411.3L614.5 416.4L614.5 421.6L614.5 426.7L614.5 431.8L614.5 437.0L614.5 442.1L614.5 447.3L614.5 452.4L614.5 457.5L614.5 462.7L614.5 467.8L614.5 473.0L614.5 478.1L614.5 483.2L614.5 488.4L614.5 493.5L614.5 498.7L607.0 498.7L599.5 498.7L591.9 498.7L584.4 498.7L576.9 498.7L569.4 498.7L561.9 498.7L554.3 498.7L546.8 498.7L539.3 498.7L531.8 498.7L524.3 498.7L516.7 498.7L509.2 498.7L501.7 498.7L494.2 498.7L486.7 498.7L479.1 498.7L471.6 498.7L464.1 498.7L456.6 498.7L449.1 498.7L441.5 498.7L434.0 498.7L426.5 498.7L419.0 498.7L411.5 498.7L403.9 498.7L396.4 498.7L388.9 498.7L381.4 498.7L373.9 498.7L366.3 498.7L358.8 498.7L351.3 498.7L343.8 498.7L336.3 498.7L328.7 498.7L328.7 493.5L328.7 488.4L328.7 483.2L328.7 478.1L328.7 473.0L328.7 467.8L328.7 462.7L328.7 457.5L328.7 452.4L328.7 447.3L328.7 442.1L328.7 437.0L328.7 431.8L328.7 426.7L328.7 421.6L328.7 416.4L328.7 411.3L328.7 406.1L328.7 401.0L328.7 395.9L328.7 390.7L328.7 385.6L328.7 380.4L328.7 375.3L328.7 370.2L328.7 365.0L328.7 359.9L328.7 354.7L328.7 349.6L328.7 344.5L328.7 339.3L328.7 334.2L328.7 329.0L328.7 323.9L328.7 318.8L328.7 313.6L328.7 308.5L328.7 303.3L328.7 298.2L328.7 293.1L328.7 287.9L328.7 282.8L328.7 277.6L328.7 272.5L328.7 267.4L328.7 262.2L328.7 257.1L328.7 251.9L328.7 246.8L328.7 241.7L328.7 236.5L328.7 231.4L328.7 226.2L328.7 221.1L328.7 216.0L328.7 210.8L328.7 205.7L328.7 200.5L328.7 195.4L328.7 190.3L328.7 185.1L328.7 180.0L328.7 174.8L328.7 169.7L328.7 164.6L328.7 159.4L328.7 154.3L328.7 149.1L328.7 144.0L328.7 138.9L328.7 133.7Z" fill="#01b9c7"/>
<path d="M328.7 128.6L336.3 128.6L343.8 128.6L349.6 128.6L350.3 133.7L351.1 138.9L351.3 139.8L352.0 144.0L353.0 149.1L354.0 154.3L355.0 159.4L355.8 164.6L356.5 169.7L358.8 173.6L366.3 172.3L369.9 174.8L371.7 180.0L373.5 185.1L373.9 185.3L381.4 185.3L381.6 185.1L388.9 181.3L396.4 180.8L403.9 180.5L410.7 180.0L411.5 179.9L419.0 178.9L426.5 179.1L429.5 180.0L434.0 181.2L435.6 180.0L438.5 174.8L441.5 172.2L444.4 169.7L447.7 164.6L449.1 162.8L456.6 163.5L464.1 161.8L469.0 159.4L471.6 158.0L476.7 154.3L479.1 152.3L483.1 149.1L486.7 146.3L489.3 144.0L491.2 138.9L494.2 135.0L495.6 133.7L497.5 128.6L501.7 128.6L509.2 128.6L516.7 128.6L524.3 128.6L527.5 128.6L524.7 133.7L524.3 134.1L521.3 138.9L516.7 143.9L516.5 144.0L512.6 149.1L511.9 154.3L510.8 159.4L509.2 161.6L507.2 164.6L505.8 169.7L506.0 174.8L505.7 180.0L502.7 185.1L501.7 186.0L494.2 187.6L486.7 187.8L482.4 190.3L479.1 192.2L471.6 193.2L464.1 194.7L456.6 194.4L449.1 193.8L446.9 195.4L444.8 200.5L441.5 204.4L440.1 205.7L436.4 210.8L434.0 212.5L429.3 210.8L426.5 208.9L419.0 209.8L418.3 210.8L412.2 216.0L411.5 216.6L403.9 218.4L399.7 221.1L396.4 223.7L393.2 226.2L392.9 231.4L393.2 236.5L392.7 241.7L391.9 246.8L391.2 251.9L391.7 257.1L394.2 262.2L396.4 265.8L397.5 267.4L400.7 272.5L403.3 277.6L403.9 279.1L405.9 282.8L408.6 287.9L411.5 292.4L411.9 293.1L414.5 298.2L416.7 303.3L418.9 308.5L419.0 308.7L421.3 313.6L423.9 318.8L426.5 323.7L426.6 323.9L429.4 329.0L432.3 334.2L434.0 336.9L435.7 339.3L439.8 344.5L441.5 346.7L444.2 349.6L446.8 354.7L447.8 359.9L449.1 363.0L449.9 365.0L453.8 370.2L456.6 373.8L457.7 375.3L459.7 380.4L460.4 385.6L461.5 390.7L463.5 395.9L464.1 397.1L465.9 401.0L467.9 406.1L469.4 411.3L470.9 416.4L471.6 419.0L472.4 421.6L473.9 426.7L475.5 431.8L477.4 437.0L479.1 440.6L479.9 442.1L482.9 447.3L486.3 452.4L486.7 452.9L490.7 457.5L494.2 460.9L496.4 462.7L501.7 466.9L503.0 467.8L509.1 473.0L509.2 473.1L515.0 478.1L516.7 479.8L520.6 483.2L524.3 486.6L526.5 488.4L531.8 492.3L534.1 493.5L539.3 496.1L546.8 497.8L554.3 497.3L561.9 493.6L562.0 493.5L566.4 488.4L569.2 483.2L569.4 482.6L570.4 478.1L570.6 473.0L570.3 467.8L569.6 462.7L569.4 460.5L569.1 457.5L569.2 452.4L569.4 451.6L570.3 447.3L572.7 442.1L576.9 437.1L577.0 437.0L581.4 431.8L584.4 427.6L585.1 426.7L587.7 421.6L589.6 416.4L591.1 411.3L591.9 406.6L592.0 406.1L592.4 401.0L592.2 395.9L591.9 394.5L591.1 390.7L588.7 385.6L584.4 381.2L583.4 380.4L576.9 377.2L573.7 375.3L569.4 370.5L569.1 370.2L569.2 365.0L569.4 364.4L571.0 359.9L576.9 355.5L578.4 354.7L584.4 352.5L590.0 349.6L591.9 348.5L597.6 344.5L599.5 342.8L603.1 339.3L607.0 334.7L607.4 334.2L611.1 329.0L614.2 323.9L614.5 323.3L614.5 323.9L614.5 329.0L614.5 334.2L614.5 339.3L614.5 344.5L614.5 349.6L614.5 354.7L614.5 359.9L614.5 365.0L614.5 370.2L614.5 375.3L614.5 380.4L614.5 385.6L614.5 390.7L614.5 395.9L614.5 401.0L614.5 406.1L614.5 411.3L614.5 416.4L614.5 421.6L614.5 426.7L614.5 431.8L614.5 437.0L614.5 442.1L614.5 447.3L614.5 452.4L614.5 457.5L614.5 462.7L614.5 467.8L614.5 473.0L614.5 478.1L614.5 483.2L614.5 488.4L614.5 493.5L614.5 498.7L607.0 498.7L599.5 498.7L591.9 498.7L584.4 498.7L576.9 498.7L569.4 498.7L561.9 498.7L554.3 498.7L546.8 498.7L539.3 498.7L531.8 498.7L524.3 498.7L516.7 498.7L509.2 498.7L501.7 498.7L494.2 498.7L486.7 498.7L479.1 498.7L471.6 498.7L464.1 498.7L456.6 498.7L449.1 498.7L441.5 498.7L434.0 498.7L426.5 498.7L419.0 498.7L411.5 498.7L403.9 498.7L396.4 498.7L388.9 498.7L381.4 498.7L373.9 498.7L366.3 498.7L358.8 498.7L351.3 498.7L343.8 498.7L336.3 498.7L328.7 498.7L328.7 493.5L328.7 488.4L328.7 483.2L328.7 478.1L328.7 473.0L328.7 467.8L328.7 462.7L328.7 457.5L328.7 452.4L328.7 447.3L328.7 442.1L328.7 437.0L328.7 431.8L328.7 426.7L328.7 421.6L328.7 416.4L328.7 411.3L328.7 406.1L328.7 401.0L328.7 395.9L328.7 390.7L328.7 385.6L328.7 380.4L328.7 375.3L328.7 370.2L328.7 365.0L328.7 359.9L328.7 354.7L328.7 349.6L328.7 344.5L328.7 339.3L328.7 334.2L328.7 329.0L328.7 323.9L328.7 318.8L328.7 313.6L328.7 308.5L328.7 303.3L328.7 298.2L328.7 293.1L328.7 287.9L328.7 282.8L328.7 277.6L328.7 272.5L328.7 267.4L328.7 262.2L328.7 257.1L328.7 251.9L328.7 246.8L328.7 241.7L328.7 236.5L328.7 231.4L328.7 226.2L328.7 221.1L328.7 216.0L328.7 210.8L328.7 205.7L328.7 200.5L328.7 195.4L328.7 190.3L328.7 185.1L328.7 180.0L328.7 174.8L328.7 169.7L328.7 164.6L328.7 159.4L328.7 154.3L328.7 149.1L328.7 144.0L328.7 138.9L328.7 133.7Z" fill="#06bcc0"/>
<path d="M328.7 128.6L336.3 128.6L343.8 128.6L347.1 128.6L348.0 133.7L348.9 138.9L349.8 144.0L350.8 149.1L351.3 151.7L351.8 154.3L352.7 159.4L353.4 164.6L353.3 169.7L353.2 174.8L358.8 177.9L366.3 174.9L369.7 180.0L370.9 185.1L373.9 186.7L381.4 185.6L382.2 185.1L388.9 181.6L396.4 181.0L403.9 180.7L411.5 180.1L412.7 180.0L419.0 179.1L426.5 179.3L428.8 180.0L434.0 181.3L435.9 180.0L438.7 174.8L441.5 172.4L444.6 169.7L447.9 164.6L449.1 163.1L456.6 163.7L464.1 162.0L469.3 159.4L471.6 158.2L477.0 154.3L479.1 152.4L483.3 149.1L486.7 146.5L489.5 144.0L491.4 138.9L494.2 135.3L495.8 133.7L497.6 128.6L501.7 128.6L509.2 128.6L516.7 128.6L524.3 128.6L527.2 128.6L524.3 133.7L524.3 133.7L521.1 138.9L516.7 143.6L516.2 144.0L512.4 149.1L511.7 154.3L510.6 159.4L509.2 161.2L507.0 164.6L505.7 169.7L505.8 174.8L505.6 180.0L502.4 185.1L501.7 185.7L494.2 187.4L486.7 187.7L482.2 190.3L479.1 192.1L471.6 193.1L464.1 194.6L456.6 194.2L449.1 193.7L446.7 195.4L444.6 200.5L441.5 204.2L439.8 205.7L436.1 210.8L434.0 212.4L429.8 210.8L426.5 208.6L419.0 209.2L417.9 210.8L411.5 216.0L411.5 216.0L403.9 217.7L398.5 221.1L396.4 222.8L392.0 226.2L391.7 231.4L391.7 236.5L390.9 241.7L389.9 246.8L389.1 251.9L389.6 257.1L392.3 262.2L395.6 267.4L396.4 268.8L398.8 272.5L401.5 277.6L403.6 282.8L403.9 283.6L406.2 287.9L409.2 293.1L411.5 297.2L412.0 298.2L414.4 303.3L416.6 308.5L419.0 313.6L419.0 313.7L421.7 318.8L424.5 323.9L426.5 327.6L427.3 329.0L430.2 334.2L433.5 339.3L434.0 340.0L437.6 344.5L441.5 349.6L441.5 349.6L444.3 354.7L445.6 359.9L447.8 365.0L449.1 366.8L451.7 370.2L455.6 375.3L456.6 377.8L457.6 380.4L458.2 385.6L459.2 390.7L461.1 395.9L463.6 401.0L464.1 402.4L465.5 406.1L467.0 411.3L468.4 416.4L469.9 421.6L471.5 426.7L471.6 427.0L473.2 431.8L475.1 437.0L477.5 442.1L479.1 445.0L480.5 447.3L483.9 452.4L486.7 455.9L488.1 457.5L493.3 462.7L494.2 463.5L499.6 467.8L501.7 469.7L505.6 473.0L509.2 476.4L511.1 478.1L516.4 483.2L516.7 483.6L521.9 488.4L524.3 490.5L528.2 493.5L531.8 496.1L536.9 498.7L531.8 498.7L524.3 498.7L516.7 498.7L509.2 498.7L501.7 498.7L494.2 498.7L486.7 498.7L479.1 498.7L471.6 498.7L464.1 498.7L456.6 498.7L449.1 498.7L441.5 498.7L434.0 498.7L426.5 498.7L419.0 498.7L411.5 498.7L403.9 498.7L396.4 498.7L388.9 498.7L381.4 498.7L373.9 498.7L366.3 498.7L358.8 498.7L351.3 498.7L343.8 498.7L336.3 498.7L328.7 498.7L328.7 493.5L328.7 488.4L328.7 483.2L328.7 478.1L328.7 473.0L328.7 467.8L328.7 462.7L328.7 457.5L328.7 452.4L328.7 447.3L328.7 442.1L328.7 437.0L328.7 431.8L328.7 426.7L328.7 421.6L328.7 416.4L328.7 411.3L328.7 406.1L328.7 401.0L328.7 395.9L328.7 390.7L328.7 385.6L328.7 380.4L328.7 375.3L328.7 370.2L328.7 365.0L328.7 359.9L328.7 354.7L328.7 349.6L328.7 344.5L328.7 339.3L328.7 334.2L328.7 329.0L328.7 323.9L328.7 318.8L328.7 313.6L328.7 308.5L328.7 303.3L328.7 298.2L328.7 293.1L328.7 287.9L328.7 282.8L328.7 277.6L328.7 272.5L328.7 267.4L328.7 262.2L328.7 257.1L328.7 251.9L328.7 246.8L328.7 241.7L328.7 236.5L328.7 231.4L328.7 226.2L328.7 221.1L328.7 216.0L328.7 210.8L328.7 205.7L328.7 200.5L328.7 195.4L328.7 190.3L328.7 185.1L328.7 180.0L328.7 174.8L328.7 169.7L328.7 164.6L328.7 159.4L328.7 154.3L328.7 149.1L328.7 144.0L328.7 138.9L328.7 133.7ZM613.9 329.0L614.5 328.1L614.5 329.0L614.5 334.2L614.5 339.3L614.5 344.5L614.5 349.6L614.5 354.7L614.5 359.9L614.5 365.0L614.5 370.2L614.5 375.3L614.5 380.4L614.5 385.6L614.5 390.7L614.5 395.9L614.5 401.0L614.5 406.1L614.5 411.3L614.5 416.4L614.5 421.6L614.5 426.7L614.5 431.8L614.5 437.0L614.5 442.1L614.5 447.3L614.5 452.4L614.5 457.5L614.5 462.7L614.5 467.8L614.5 473.0L614.5 478.1L614.5 483.2L614.5 488.4L614.5 493.5L614.5 498.7L607.0 498.7L599.5 498.7L591.9 498.7L584.4 498.7L576.9 498.7L569.4 498.7L561.9 498.7L560.6 498.7L561.9 498.1L566.7 493.5L569.4 490.1L570.2 488.4L572.0 483.2L572.8 478.1L572.7 473.0L572.0 467.8L571.0 462.7L570.3 457.5L570.2 452.4L571.3 447.3L573.7 442.1L576.9 438.3L577.9 437.0L582.4 431.8L584.4 429.0L586.1 426.7L588.8 421.6L590.9 416.4L591.9 412.9L592.5 411.3L593.5 406.1L594.1 401.0L594.0 395.9L593.0 390.7L591.9 387.9L590.9 385.6L586.5 380.4L584.4 378.9L576.9 375.6L576.4 375.3L571.6 370.2L571.9 365.0L574.6 359.9L576.9 358.1L584.1 354.7L584.4 354.6L591.9 351.0L594.1 349.6L599.5 345.7L600.9 344.5L606.1 339.3L607.0 338.3L610.3 334.2Z" fill="#12beb9"/>
<path d="M328.7 128.6L336.3 128.6L343.8 128.6L344.6 128.6L345.6 133.7L346.6 138.9L347.6 144.0L348.7 149.1L349.8 154.3L350.6 159.4L351.0 164.6L350.7 169.7L350.1 174.8L351.3 178.7L353.9 180.0L358.8 181.0L361.9 180.0L366.3 177.9L367.7 180.0L368.2 185.1L373.9 188.0L381.4 186.0L382.7 185.1L388.9 181.9L396.4 181.2L403.9 180.9L411.5 180.3L414.5 180.0L419.0 179.4L426.5 179.5L428.1 180.0L434.0 181.5L436.1 180.0L438.9 174.8L441.5 172.6L444.8 169.7L448.2 164.6L449.1 163.5L456.6 163.9L464.1 162.1L469.6 159.4L471.6 158.3L477.2 154.3L479.1 152.6L483.5 149.1L486.7 146.7L489.7 144.0L491.5 138.9L494.2 135.5L496.1 133.7L497.8 128.6L501.7 128.6L509.2 128.6L516.7 128.6L524.3 128.6L526.9 128.6L524.3 133.3L524.0 133.7L520.9 138.9L516.7 143.4L515.9 144.0L512.2 149.1L511.5 154.3L510.3 159.4L509.2 160.9L506.8 164.6L505.5 169.7L505.6 174.8L505.4 180.0L502.2 185.1L501.7 185.5L494.2 187.2L486.7 187.6L482.0 190.3L479.1 192.0L471.6 192.9L464.1 194.4L456.6 194.1L449.1 193.5L446.5 195.4L444.4 200.5L441.5 203.9L439.6 205.7L435.8 210.8L434.0 212.2L430.3 210.8L426.5 208.2L419.0 208.7L417.6 210.8L411.5 215.7L408.6 216.0L403.9 217.0L397.4 221.1L396.4 221.9L390.8 226.2L390.5 231.4L390.3 236.5L389.2 241.7L388.9 242.8L388.0 246.8L387.2 251.9L387.8 257.1L388.9 259.4L390.5 262.2L393.9 267.4L396.4 271.7L396.9 272.5L399.7 277.6L401.8 282.8L403.7 287.9L403.9 288.4L406.6 293.1L409.5 298.2L411.5 302.2L412.0 303.3L414.4 308.5L416.8 313.6L419.0 317.8L419.5 318.8L422.4 323.9L425.2 329.0L426.5 331.3L428.2 334.2L431.4 339.3L434.0 342.8L435.3 344.5L439.3 349.6L441.5 354.2L441.9 354.7L443.5 359.9L445.7 365.0L449.1 369.6L449.5 370.2L453.4 375.3L455.5 380.4L456.0 385.6L456.6 389.2L456.9 390.7L458.8 395.9L461.1 401.0L463.1 406.1L464.1 409.6L464.6 411.3L466.0 416.4L467.4 421.6L469.0 426.7L470.8 431.8L471.6 434.0L472.8 437.0L475.2 442.1L478.1 447.3L479.1 448.8L481.5 452.4L485.5 457.5L486.7 458.8L490.6 462.7L494.2 466.1L496.4 467.8L501.7 472.6L502.1 473.0L507.5 478.1L509.2 480.0L512.6 483.2L516.7 487.5L517.7 488.4L523.2 493.5L524.3 494.5L530.0 498.7L524.3 498.7L516.7 498.7L509.2 498.7L501.7 498.7L494.2 498.7L486.7 498.7L479.1 498.7L471.6 498.7L464.1 498.7L456.6 498.7L449.1 498.7L441.5 498.7L434.0 498.7L426.5 498.7L419.0 498.7L411.5 498.7L403.9 498.7L396.4 498.7L388.9 498.7L381.4 498.7L373.9 498.7L366.3 498.7L358.8 498.7L351.3 498.7L343.8 498.7L336.3 498.7L328.7 498.7L328.7 493.5L328.7 488.4L328.7 483.2L328.7 478.1L328.7 473.0L328.7 467.8L328.7 462.7L328.7 457.5L328.7 452.4L328.7 447.3L328.7 442.1L328.7 437.0L328.7 431.8L328.7 426.7L328.7 421.6L328.7 416.4L328.7 411.3L328.7 406.1L328.7 401.0L328.7 395.9L328.7 390.7L328.7 385.6L328.7 380.4L328.7 375.3L328.7 370.2L328.7 365.0L328.7 359.9L328.7 354.7L328.7 349.6L328.7 344.5L328.7 339.3L328.7 334.2L328.7 329.0L328.7 323.9L328.7 318.8L328.7 313.6L328.7 308.5L328.7 303.3L328.7 298.2L328.7 293.1L328.7 287.9L328.7 282.8L328.7 277.6L328.7 272.5L328.7 267.4L328.7 262.2L328.7 257.1L328.7 251.9L328.7 246.8L328.7 241.7L328.7 236.5L328.7 231.4L328.7 226.2L328.7 221.1L328.7 216.0L328.7 210.8L328.7 205.7L328.7 200.5L328.7 195.4L328.7 190.3L328.7 185.1L328.7 180.0L328.7 174.8L328.7 169.7L328.7 164.6L328.7 159.4L328.7 154.3L328.7 149.1L328.7 144.0L328.7 138.9L328.7 133.7ZM613.3 334.2L614.5 332.4L614.5 334.2L614.5 339.3L614.5 344.5L614.5 349.6L614.5 354.7L614.5 359.9L614.5 365.0L614.5 370.2L614.5 375.3L614.5 380.4L614.5 385.6L614.5 390.7L614.5 395.9L614.5 401.0L614.5 406.1L614.5 411.3L614.5 416.4L614.5 421.6L614.5 426.7L614.5 431.8L614.5 437.0L614.5 442.1L614.5 447.3L614.5 452.4L614.5 457.5L614.5 462.7L614.5 467.8L614.5 473.0L614.5 478.1L614.5 483.2L614.5 488.4L614.5 493.5L614.5 498.7L607.0 498.7L599.5 498.7L591.9 498.7L584.4 498.7L576.9 498.7L569.4 498.7L566.7 498.7L569.4 496.0L571.0 493.5L573.5 488.4L574.8 483.2L575.2 478.1L574.8 473.0L573.7 467.8L572.4 462.7L571.4 457.5L571.2 452.4L572.2 447.3L574.7 442.1L576.9 439.5L578.9 437.0L583.3 431.8L584.4 430.3L587.1 426.7L589.9 421.6L591.9 416.9L592.2 416.4L593.9 411.3L595.1 406.1L595.7 401.0L595.7 395.9L595.0 390.7L593.2 385.6L591.9 383.5L589.5 380.4L584.4 376.5L581.5 375.3L576.9 373.0L574.2 370.2L574.6 365.0L576.9 361.4L579.1 359.9L584.4 357.4L589.7 354.7L591.9 353.7L598.2 349.6L599.5 348.7L604.3 344.5L607.0 341.7L609.2 339.3Z" fill="#1ec0b2"/>
<path d="M328.7 128.6L336.3 128.6L342.2 128.6L343.2 133.7L343.8 136.3L344.3 138.9L345.5 144.0L346.6 149.1L347.8 154.3L348.8 159.4L349.3 164.6L349.2 169.7L348.6 174.8L350.0 180.0L351.3 181.2L358.8 183.1L364.6 185.1L366.3 188.2L373.9 189.4L381.4 186.3L383.3 185.1L388.9 182.2L396.4 181.4L403.9 181.1L411.5 180.5L416.3 180.0L419.0 179.6L426.5 179.7L427.4 180.0L434.0 181.7L436.3 180.0L439.1 174.8L441.5 172.7L445.0 169.7L448.5 164.6L449.1 163.8L456.6 164.1L464.1 162.3L469.9 159.4L471.6 158.5L477.4 154.3L479.1 152.8L483.8 149.1L486.7 146.9L489.9 144.0L491.7 138.9L494.2 135.8L496.3 133.7L498.0 128.6L501.7 128.6L509.2 128.6L516.7 128.6L524.3 128.6L526.7 128.6L524.3 132.9L523.6 133.7L520.7 138.9L516.7 143.2L515.6 144.0L512.0 149.1L511.3 154.3L510.1 159.4L509.2 160.6L506.6 164.6L505.4 169.7L505.5 174.8L505.2 180.0L501.9 185.1L501.7 185.3L494.2 187.0L486.7 187.4L481.7 190.3L479.1 191.8L471.6 192.8L464.1 194.3L456.6 193.9L449.1 193.3L446.3 195.4L444.2 200.5L441.5 203.7L439.3 205.7L435.6 210.8L434.0 212.0L430.8 210.8L426.5 207.9L419.0 208.1L417.2 210.8L411.5 215.4L405.3 216.0L403.9 216.2L396.4 221.1L396.3 221.1L389.6 226.2L389.2 231.4L388.9 236.0L388.9 236.5L387.5 241.7L386.1 246.8L385.3 251.9L386.1 257.1L388.7 262.2L388.9 262.6L392.3 267.4L395.2 272.5L396.4 275.0L397.8 277.6L399.9 282.8L401.7 287.9L403.9 293.0L404.0 293.1L407.0 298.2L409.7 303.3L411.5 307.1L412.1 308.5L414.7 313.6L417.4 318.8L419.0 321.6L420.3 323.9L423.2 329.0L426.1 334.2L426.5 334.9L429.3 339.3L433.1 344.5L434.0 345.7L437.0 349.6L439.6 354.7L441.3 359.9L441.5 360.4L443.7 365.0L447.4 370.2L449.1 372.5L451.2 375.3L453.4 380.4L453.9 385.6L454.7 390.7L456.4 395.9L456.6 396.4L458.6 401.0L460.6 406.1L462.1 411.3L463.5 416.4L464.1 418.5L465.0 421.6L466.6 426.7L468.4 431.8L470.4 437.0L471.6 439.6L472.8 442.1L475.7 447.3L479.1 452.4L479.2 452.4L483.1 457.5L486.7 461.5L487.9 462.7L493.3 467.8L494.2 468.7L498.9 473.0L501.7 475.9L504.0 478.1L508.8 483.2L509.2 483.7L513.7 488.4L516.7 491.6L518.8 493.5L524.3 498.5L524.5 498.7L524.3 498.7L516.7 498.7L509.2 498.7L501.7 498.7L494.2 498.7L486.7 498.7L479.1 498.7L471.6 498.7L464.1 498.7L456.6 498.7L449.1 498.7L441.5 498.7L434.0 498.7L426.5 498.7L419.0 498.7L411.5 498.7L403.9 498.7L396.4 498.7L388.9 498.7L381.4 498.7L373.9 498.7L366.3 498.7L358.8 498.7L351.3 498.7L343.8 498.7L336.3 498.7L328.7 498.7L328.7 493.5L328.7 488.4L328.7 483.2L328.7 478.1L328.7 473.0L328.7 467.8L328.7 462.7L328.7 457.5L328.7 452.4L328.7 447.3L328.7 442.1L328.7 437.0L328.7 431.8L328.7 426.7L328.7 421.6L328.7 416.4L328.7 411.3L328.7 406.1L328.7 401.0L328.7 395.9L328.7 390.7L328.7 385.6L328.7 380.4L328.7 375.3L328.7 370.2L328.7 365.0L328.7 359.9L328.7 354.7L328.7 349.6L328.7 344.5L328.7 339.3L328.7 334.2L328.7 329.0L328.7 323.9L328.7 318.8L328.7 313.6L328.7 308.5L328.7 303.3L328.7 298.2L328.7 293.1L328.7 287.9L328.7 282.8L328.7 277.6L328.7 272.5L328.7 267.4L328.7 262.2L328.7 257.1L328.7 251.9L328.7 246.8L328.7 241.7L328.7 236.5L328.7 231.4L328.7 226.2L328.7 221.1L328.7 216.0L328.7 210.8L328.7 205.7L328.7 200.5L328.7 195.4L328.7 190.3L328.7 185.1L328.7 180.0L328.7 174.8L328.7 169.7L328.7 164.6L328.7 159.4L328.7 154.3L328.7 149.1L328.7 144.0L328.7 138.9L328.7 133.7ZM612.3 339.3L614.5 336.5L614.5 339.3L614.5 344.5L614.5 349.6L614.5 354.7L614.5 359.9L614.5 365.0L614.5 370.2L614.5 375.3L614.5 380.4L614.5 385.6L614.5 390.7L614.5 395.9L614.5 401.0L614.5 406.1L614.5 411.3L614.5 416.4L614.5 421.6L614.5 426.7L614.5 431.8L614.5 437.0L614.5 442.1L614.5 447.3L614.5 452.4L614.5 457.5L614.5 462.7L614.5 467.8L614.5 473.0L614.5 478.1L614.5 483.2L614.5 488.4L614.5 493.5L614.5 498.7L607.0 498.7L599.5 498.7L591.9 498.7L584.4 498.7L576.9 498.7L571.5 498.7L574.6 493.5L576.7 488.4L576.9 487.2L577.6 483.2L577.7 478.1L576.9 473.1L576.9 473.0L575.5 467.8L573.8 462.7L572.5 457.5L572.2 452.4L573.2 447.3L575.8 442.1L576.9 440.8L579.8 437.0L584.3 431.8L584.4 431.6L588.2 426.7L591.0 421.6L591.9 419.4L593.5 416.4L595.3 411.3L596.6 406.1L597.3 401.0L597.5 395.9L597.0 390.7L595.5 385.6L592.6 380.4L591.9 379.6L586.8 375.3L584.4 373.4L576.9 370.3L576.7 370.2L576.9 368.5L577.9 365.0L584.4 360.5L585.4 359.9L591.9 356.9L595.0 354.7L599.5 351.9L602.1 349.6L607.0 345.2L607.7 344.5Z" fill="#28c3ab"/>
<path d="M328.7 128.6L336.3 128.6L339.7 128.6L340.8 133.7L342.0 138.9L343.3 144.0L343.8 145.9L344.6 149.1L345.8 154.3L346.9 159.4L347.6 164.6L347.7 169.7L347.0 174.8L348.2 180.0L351.3 182.8L358.6 185.1L358.8 185.4L362.7 190.3L366.3 191.2L373.9 190.4L374.1 190.3L381.4 186.7L383.9 185.1L388.9 182.5L396.4 181.6L403.9 181.3L411.5 180.7L418.1 180.0L419.0 179.9L426.5 179.9L426.7 180.0L434.0 181.9L436.6 180.0L439.3 174.8L441.5 172.9L445.2 169.7L448.7 164.6L449.1 164.1L456.6 164.4L464.1 162.4L470.1 159.4L471.6 158.6L477.6 154.3L479.1 153.0L484.0 149.1L486.7 147.0L490.1 144.0L491.9 138.9L494.2 136.0L496.6 133.7L498.2 128.6L501.7 128.6L509.2 128.6L516.7 128.6L524.3 128.6L526.4 128.6L524.3 132.4L523.3 133.7L520.5 138.9L516.7 142.9L515.3 144.0L511.8 149.1L511.1 154.3L509.9 159.4L509.2 160.3L506.4 164.6L505.2 169.7L505.3 174.8L505.1 180.0L501.7 185.1L501.7 185.1L494.2 186.9L486.7 187.3L481.5 190.3L479.1 191.7L471.6 192.7L464.1 194.1L456.6 193.8L449.1 193.2L446.0 195.4L444.0 200.5L441.5 203.5L439.0 205.7L435.3 210.8L434.0 211.8L431.4 210.8L426.5 207.5L419.0 207.6L416.9 210.8L411.5 215.2L403.9 215.8L403.5 216.0L396.4 220.6L395.7 221.1L388.9 226.0L388.5 226.2L388.0 231.4L387.5 236.5L386.0 241.7L384.3 246.8L383.5 251.9L384.4 257.1L387.1 262.2L388.9 264.9L390.6 267.4L393.6 272.5L396.1 277.6L396.4 278.7L398.0 282.8L399.7 287.9L401.7 293.1L403.9 297.2L404.5 298.2L407.4 303.3L409.9 308.5L411.5 311.5L412.5 313.6L415.3 318.8L418.2 323.9L419.0 325.3L421.1 329.0L424.0 334.2L426.5 338.2L427.2 339.3L430.8 344.5L434.0 348.6L434.8 349.6L437.4 354.7L439.1 359.9L441.5 364.8L441.6 365.0L445.3 370.2L449.0 375.3L449.1 375.4L451.2 380.4L451.9 385.6L452.6 390.7L454.1 395.9L456.1 401.0L456.6 402.3L458.0 406.1L459.6 411.3L461.1 416.4L462.5 421.6L464.1 426.7L464.1 426.8L465.9 431.8L468.0 437.0L470.4 442.1L471.6 444.3L473.3 447.3L476.7 452.4L479.1 455.6L480.6 457.5L485.2 462.7L486.7 464.2L490.4 467.8L494.2 471.6L495.7 473.0L500.6 478.1L501.7 479.4L505.4 483.2L509.2 487.7L509.9 488.4L514.7 493.5L516.7 495.7L519.9 498.7L516.7 498.7L509.2 498.7L501.7 498.7L494.2 498.7L486.7 498.7L479.1 498.7L471.6 498.7L464.1 498.7L456.6 498.7L449.1 498.7L441.5 498.7L434.0 498.7L426.5 498.7L419.0 498.7L411.5 498.7L403.9 498.7L396.4 498.7L388.9 498.7L381.4 498.7L373.9 498.7L366.3 498.7L358.8 498.7L351.3 498.7L343.8 498.7L336.3 498.7L328.7 498.7L328.7 493.5L328.7 488.4L328.7 483.2L328.7 478.1L328.7 473.0L328.7 467.8L328.7 462.7L328.7 457.5L328.7 452.4L328.7 447.3L328.7 442.1L328.7 437.0L328.7 431.8L328.7 426.7L328.7 421.6L328.7 416.4L328.7 411.3L328.7 406.1L328.7 401.0L328.7 395.9L328.7 390.7L328.7 385.6L328.7 380.4L328.7 375.3L328.7 370.2L328.7 365.0L328.7 359.9L328.7 354.7L328.7 349.6L328.7 344.5L328.7 339.3L328.7 334.2L328.7 329.0L328.7 323.9L328.7 318.8L328.7 313.6L328.7 308.5L328.7 303.3L328.7 298.2L328.7 293.1L328.7 287.9L328.7 282.8L328.7 277.6L328.7 272.5L328.7 267.4L328.7 262.2L328.7 257.1L328.7 251.9L328.7 246.8L328.7 241.7L328.7 236.5L328.7 231.4L328.7 226.2L328.7 221.1L328.7 216.0L328.7 210.8L328.7 205.7L328.7 200.5L328.7 195.4L328.7 190.3L328.7 185.1L328.7 180.0L328.7 174.8L328.7 169.7L328.7 164.6L328.7 159.4L328.7 154.3L328.7 149.1L328.7 144.0L328.7 138.9L328.7 133.7ZM611.1 344.5L614.5 340.5L614.5 344.5L614.5 349.6L614.5 354.7L614.5 359.9L614.5 365.0L614.5 370.2L614.5 375.3L614.5 380.4L614.5 385.6L614.5 390.7L614.5 395.9L614.5 401.0L614.5 406.1L614.5 411.3L614.5 416.4L614.5 421.6L614.5 426.7L614.5 431.8L614.5 437.0L614.5 442.1L614.5 447.3L614.5 452.4L614.5 457.5L614.5 462.7L614.5 467.8L614.5 473.0L614.5 478.1L614.5 483.2L614.5 488.4L614.5 493.5L614.5 498.7L607.0 498.7L599.5 498.7L591.9 498.7L584.4 498.7L576.9 498.7L575.6 498.7L576.9 496.3L578.1 493.5L579.5 488.4L580.1 483.2L580.0 478.1L579.1 473.0L577.3 467.8L576.9 467.2L575.2 462.7L573.7 457.5L573.1 452.4L574.1 447.3L576.8 442.1L576.9 442.0L580.7 437.0L584.4 432.8L585.3 431.8L589.2 426.7L591.9 421.9L592.2 421.6L594.8 416.4L596.7 411.3L598.1 406.1L599.0 401.0L599.3 395.9L598.9 390.7L597.7 385.6L595.5 380.4L591.9 375.4L591.9 375.3L585.8 370.2L585.4 365.0L591.9 360.7L592.8 359.9L599.5 355.3L600.0 354.7L606.0 349.6L607.0 348.7Z" fill="#2fc5a3"/>
<path d="M328.7 128.6L336.3 128.6L337.2 128.6L338.4 133.7L339.7 138.9L341.1 144.0L342.4 149.1L343.8 154.1L343.8 154.3L345.0 159.4L345.9 164.6L346.2 169.7L345.5 174.8L346.5 180.0L351.3 184.5L353.4 185.1L358.4 190.3L358.8 193.1L366.3 192.5L373.9 190.8L374.8 190.3L381.4 187.0L384.4 185.1L388.9 182.8L396.4 181.8L403.9 181.5L411.5 180.9L419.0 180.1L426.5 180.1L434.0 182.1L436.8 180.0L439.6 174.8L441.5 173.1L445.5 169.7L449.0 164.6L449.1 164.5L456.5 164.6L456.6 164.6L456.6 164.6L464.1 162.6L470.4 159.4L471.6 158.8L477.8 154.3L479.1 153.2L484.2 149.1L486.7 147.2L490.3 144.0L492.1 138.9L494.2 136.2L496.8 133.7L498.4 128.6L501.7 128.6L509.2 128.6L516.7 128.6L524.3 128.6L526.2 128.6L524.3 132.0L523.0 133.7L520.3 138.9L516.7 142.7L515.0 144.0L511.6 149.1L510.9 154.3L509.6 159.4L509.2 160.0L506.2 164.6L505.0 169.7L505.1 174.8L504.9 180.0L501.7 184.9L500.9 185.1L494.2 186.7L486.7 187.2L481.2 190.3L479.1 191.5L471.6 192.6L464.1 194.0L456.6 193.6L449.1 193.0L445.8 195.4L443.8 200.5L441.5 203.2L438.8 205.7L435.1 210.8L434.0 211.6L431.9 210.8L426.5 207.2L419.0 207.1L416.5 210.8L411.5 214.9L403.9 215.5L402.9 216.0L396.4 220.2L395.0 221.1L388.9 225.5L387.4 226.2L386.9 231.4L386.2 236.5L384.4 241.7L382.5 246.8L381.6 251.9L382.8 257.1L385.6 262.2L388.9 267.3L388.9 267.4L392.0 272.5L394.5 277.6L396.2 282.8L396.4 283.7L397.6 287.9L399.4 293.1L402.1 298.2L403.9 301.3L405.1 303.3L407.8 308.5L410.4 313.6L411.5 315.5L413.3 318.8L416.2 323.9L419.0 328.9L419.1 329.0L422.0 334.2L425.1 339.3L426.5 341.5L428.6 344.5L432.4 349.6L434.0 352.4L435.3 354.7L436.9 359.9L439.5 365.0L441.5 367.8L443.2 370.2L446.9 375.3L449.1 380.4L449.1 380.4L449.8 385.6L450.5 390.7L451.8 395.9L453.7 401.0L455.5 406.1L456.6 409.4L457.2 411.3L458.6 416.4L460.0 421.6L461.6 426.7L463.5 431.8L464.1 433.3L465.6 437.0L468.1 442.1L470.9 447.3L471.6 448.4L474.2 452.4L478.1 457.5L479.1 458.8L482.6 462.7L486.7 466.9L487.6 467.8L492.6 473.0L494.2 474.8L497.4 478.1L501.7 483.1L501.9 483.2L506.3 488.4L509.2 491.8L510.8 493.5L515.6 498.7L509.2 498.7L501.7 498.7L494.2 498.7L486.7 498.7L479.1 498.7L471.6 498.7L464.1 498.7L456.6 498.7L449.1 498.7L441.5 498.7L434.0 498.7L426.5 498.7L419.0 498.7L411.5 498.7L403.9 498.7L396.4 498.7L388.9 498.7L381.4 498.7L373.9 498.7L366.3 498.7L358.8 498.7L351.3 498.7L343.8 498.7L336.3 498.7L328.7 498.7L328.7 493.5L328.7 488.4L328.7 483.2L328.7 478.1L328.7 473.0L328.7 467.8L328.7 462.7L328.7 457.5L328.7 452.4L328.7 447.3L328.7 442.1L328.7 437.0L328.7 431.8L328.7 426.7L328.7 421.6L328.7 416.4L328.7 411.3L328.7 406.1L328.7 401.0L328.7 395.9L328.7 390.7L328.7 385.6L328.7 380.4L328.7 375.3L328.7 370.2L328.7 365.0L328.7 359.9L328.7 354.7L328.7 349.6L328.7 344.5L328.7 339.3L328.7 334.2L328.7 329.0L328.7 323.9L328.7 318.8L328.7 313.6L328.7 308.5L328.7 303.3L328.7 298.2L328.7 293.1L328.7 287.9L328.7 282.8L328.7 277.6L328.7 272.5L328.7 267.4L328.7 262.2L328.7 257.1L328.7 251.9L328.7 246.8L328.7 241.7L328.7 236.5L328.7 231.4L328.7 226.2L328.7 221.1L328.7 216.0L328.7 210.8L328.7 205.7L328.7 200.5L328.7 195.4L328.7 190.3L328.7 185.1L328.7 180.0L328.7 174.8L328.7 169.7L328.7 164.6L328.7 159.4L328.7 154.3L328.7 149.1L328.7 144.0L328.7 138.9L328.7 133.7ZM609.8 349.6L614.5 344.5L614.5 349.6L614.5 354.7L614.5 359.9L614.5 365.0L614.5 370.2L614.5 375.3L614.5 380.4L614.5 385.6L614.5 390.7L614.5 395.9L614.5 401.0L614.5 406.1L614.5 411.3L614.5 416.4L614.5 421.6L614.5 426.7L614.5 431.8L614.5 437.0L614.5 442.1L614.5 447.3L614.5 452.4L614.5 457.5L614.5 462.7L614.5 467.8L614.5 473.0L614.5 478.1L614.5 483.2L614.5 488.4L614.5 493.5L614.5 498.7L607.0 498.7L599.5 498.7L591.9 498.7L584.4 498.7L579.2 498.7L581.1 493.5L582.3 488.4L582.7 483.2L582.4 478.1L581.3 473.0L579.3 467.8L576.9 463.4L576.6 462.7L574.8 457.5L574.1 452.4L575.0 447.3L576.9 443.7L577.7 442.1L581.7 437.0L584.4 433.8L586.3 431.8L590.2 426.7L591.9 423.6L593.4 421.6L596.1 416.4L598.1 411.3L599.5 406.6L599.6 406.1L600.7 401.0L601.1 395.9L600.9 390.7L600.1 385.6L599.5 383.4L598.4 380.4L595.9 375.3L593.4 370.2L594.0 365.0L598.9 359.9L599.5 359.5L604.5 354.7L607.0 352.5Z" fill="#35c79b"/>
<path d="M328.7 128.6L334.7 128.6L336.0 133.7L336.3 134.5L337.4 138.9L338.8 144.0L340.3 149.1L341.7 154.3L343.1 159.4L343.8 162.2L344.2 164.6L344.7 169.7L343.9 174.8L344.7 180.0L349.6 185.1L351.3 186.9L355.1 190.3L356.2 195.4L358.8 196.7L361.7 195.4L366.3 193.7L373.9 191.1L375.5 190.3L381.4 187.3L385.0 185.1L388.9 183.1L396.4 182.0L403.9 181.6L411.5 181.1L419.0 180.3L426.5 180.4L434.0 182.2L437.1 180.0L439.8 174.8L441.5 173.3L445.7 169.7L449.1 164.8L456.6 164.8L457.1 164.6L464.1 162.7L470.7 159.4L471.6 158.9L478.0 154.3L479.1 153.3L484.4 149.1L486.7 147.4L490.5 144.0L492.3 138.9L494.2 136.5L497.1 133.7L498.6 128.6L501.7 128.6L509.2 128.6L516.7 128.6L524.3 128.6L525.9 128.6L524.3 131.5L522.7 133.7L520.1 138.9L516.7 142.5L514.7 144.0L511.4 149.1L510.7 154.3L509.4 159.4L509.2 159.7L506.0 164.6L504.9 169.7L505.0 174.8L504.7 180.0L501.7 184.6L500.1 185.1L494.2 186.5L486.7 187.0L481.0 190.3L479.1 191.4L471.6 192.5L464.1 193.8L456.6 193.5L449.1 192.8L445.6 195.4L443.6 200.5L441.5 203.0L438.5 205.7L434.8 210.8L434.0 211.4L432.4 210.8L426.5 206.8L419.0 206.5L416.2 210.8L411.5 214.6L403.9 215.2L402.2 216.0L396.4 219.8L394.3 221.1L388.9 225.0L386.4 226.2L385.7 231.4L384.9 236.5L382.8 241.7L381.4 245.2L380.4 246.8L379.2 251.9L380.9 257.1L381.4 257.5L384.1 262.2L387.3 267.4L388.9 270.0L390.4 272.5L392.9 277.6L394.6 282.8L395.7 287.9L396.4 290.7L397.2 293.1L399.8 298.2L402.9 303.3L403.9 305.3L405.7 308.5L408.4 313.6L411.2 318.8L411.5 319.2L414.1 323.9L417.0 329.0L419.0 332.5L419.9 334.2L422.9 339.3L426.3 344.5L426.5 344.7L430.0 349.6L433.0 354.7L434.0 357.6L434.8 359.9L437.3 365.0L441.1 370.2L441.5 370.7L444.8 375.3L447.0 380.4L447.6 385.6L448.3 390.7L449.1 393.8L449.6 395.9L451.3 401.0L453.1 406.1L454.7 411.3L456.1 416.4L456.6 418.1L457.5 421.6L459.1 426.7L461.0 431.8L463.2 437.0L464.1 438.8L465.7 442.1L468.5 447.3L471.6 452.2L471.7 452.4L475.5 457.5L479.1 461.8L479.9 462.7L484.8 467.8L486.7 469.8L489.7 473.0L494.2 478.1L494.2 478.1L498.6 483.2L501.7 487.1L502.8 488.4L507.0 493.5L509.2 496.1L511.5 498.7L509.2 498.7L501.7 498.7L494.2 498.7L486.7 498.7L479.1 498.7L471.6 498.7L464.1 498.7L456.6 498.7L449.1 498.7L441.5 498.7L434.0 498.7L426.5 498.7L419.0 498.7L411.5 498.7L403.9 498.7L396.4 498.7L388.9 498.7L381.4 498.7L373.9 498.7L366.3 498.7L358.8 498.7L351.3 498.7L343.8 498.7L336.3 498.7L328.7 498.7L328.7 493.5L328.7 488.4L328.7 483.2L328.7 478.1L328.7 473.0L328.7 467.8L328.7 462.7L328.7 457.5L328.7 452.4L328.7 447.3L328.7 442.1L328.7 437.0L328.7 431.8L328.7 426.7L328.7 421.6L328.7 416.4L328.7 411.3L328.7 406.1L328.7 401.0L328.7 395.9L328.7 390.7L328.7 385.6L328.7 380.4L328.7 375.3L328.7 370.2L328.7 365.0L328.7 359.9L328.7 354.7L328.7 349.6L328.7 344.5L328.7 339.3L328.7 334.2L328.7 329.0L328.7 323.9L328.7 318.8L328.7 313.6L328.7 308.5L328.7 303.3L328.7 298.2L328.7 293.1L328.7 287.9L328.7 282.8L328.7 277.6L328.7 272.5L328.7 267.4L328.7 262.2L328.7 257.1L328.7 251.9L328.7 246.8L328.7 241.7L328.7 236.5L328.7 231.4L328.7 226.2L328.7 221.1L328.7 216.0L328.7 210.8L328.7 205.7L328.7 200.5L328.7 195.4L328.7 190.3L328.7 185.1L328.7 180.0L328.7 174.8L328.7 169.7L328.7 164.6L328.7 159.4L328.7 154.3L328.7 149.1L328.7 144.0L328.7 138.9L328.7 133.7ZM613.5 349.6L614.5 348.5L614.5 349.6L614.5 354.7L614.5 359.9L614.5 365.0L614.5 370.2L614.5 375.3L614.5 380.4L614.5 385.6L614.5 390.7L614.5 395.9L614.5 401.0L614.5 406.1L614.5 411.3L614.5 416.4L614.5 421.6L614.5 426.7L614.5 431.8L614.5 437.0L614.5 442.1L614.5 447.3L614.5 452.4L614.5 457.5L614.5 462.7L614.5 467.8L614.5 473.0L614.5 478.1L614.5 483.2L614.5 488.4L614.5 493.5L614.5 498.7L607.0 498.7L599.5 498.7L591.9 498.7L584.4 498.7L582.6 498.7L584.2 493.5L584.4 492.5L585.0 488.4L585.2 483.2L584.7 478.1L584.4 476.9L583.5 473.0L581.3 467.8L578.4 462.7L576.9 460.1L576.0 457.5L575.1 452.4L576.0 447.3L576.9 445.5L578.6 442.1L582.6 437.0L584.4 434.9L587.3 431.8L591.2 426.7L591.9 425.4L594.7 421.6L597.3 416.4L599.5 411.3L599.5 411.3L601.2 406.1L602.4 401.0L603.0 395.9L603.0 390.7L602.4 385.6L601.3 380.4L599.9 375.3L599.5 372.2L599.0 370.2L599.5 368.4L600.2 365.0L603.9 359.9L607.0 356.9L608.8 354.7Z" fill="#3cc992"/>
<path d="M328.7 128.6L332.1 128.6L333.5 133.7L335.0 138.9L336.3 142.8L336.6 144.0L338.1 149.1L339.6 154.3L341.1 159.4L342.3 164.6L343.0 169.7L342.2 174.8L343.0 180.0L343.8 181.6L346.8 185.1L351.3 189.9L351.7 190.3L353.3 195.4L358.8 198.2L365.0 195.4L366.3 194.9L373.9 191.5L376.2 190.3L381.4 187.7L385.6 185.1L388.9 183.4L396.4 182.2L403.9 181.8L411.5 181.2L419.0 180.5L426.5 180.6L434.0 182.4L437.3 180.0L440.0 174.8L441.5 173.5L445.9 169.7L449.1 165.1L456.6 165.1L457.7 164.6L464.1 162.8L471.0 159.4L471.6 159.1L478.2 154.3L479.1 153.5L484.7 149.1L486.7 147.6L490.7 144.0L492.5 138.9L494.2 136.7L497.3 133.7L498.7 128.6L501.7 128.6L509.2 128.6L516.7 128.6L524.3 128.6L525.7 128.6L524.3 131.1L522.4 133.7L519.9 138.9L516.7 142.3L514.4 144.0L511.3 149.1L510.5 154.3L509.2 159.3L509.1 159.4L505.8 164.6L504.7 169.7L504.8 174.8L504.5 180.0L501.7 184.3L499.4 185.1L494.2 186.3L486.7 186.9L480.8 190.3L479.1 191.2L471.6 192.3L464.1 193.7L456.6 193.3L449.1 192.7L445.4 195.4L443.4 200.5L441.5 202.7L438.2 205.7L434.6 210.8L434.0 211.2L432.9 210.8L426.5 206.5L419.0 206.0L415.8 210.8L411.5 214.3L403.9 214.9L401.6 216.0L396.4 219.3L393.6 221.1L388.9 224.5L385.4 226.2L384.6 231.4L383.5 236.5L381.4 241.3L381.0 241.7L377.8 246.8L376.6 251.9L378.0 257.1L381.4 260.2L382.5 262.2L385.7 267.4L388.8 272.5L388.9 272.7L391.3 277.6L393.0 282.8L393.9 287.9L395.0 293.1L396.4 296.1L397.5 298.2L400.7 303.3L403.6 308.5L403.9 309.2L406.4 313.6L409.2 318.8L411.5 322.8L412.1 323.9L415.0 329.0L417.8 334.2L419.0 336.2L420.7 339.3L423.9 344.5L426.5 348.1L427.6 349.6L430.6 354.7L432.6 359.9L434.0 362.8L435.1 365.0L438.8 370.2L441.5 373.6L442.7 375.3L444.8 380.4L445.4 385.6L446.1 390.7L447.3 395.9L448.9 401.0L449.1 401.6L450.6 406.1L452.2 411.3L453.6 416.4L455.1 421.6L456.6 426.7L456.6 426.7L458.5 431.8L460.8 437.0L463.3 442.1L464.1 443.6L466.1 447.3L469.2 452.4L471.6 455.7L473.0 457.5L477.2 462.7L479.1 464.8L482.0 467.8L486.7 472.9L486.7 473.0L491.1 478.1L494.2 482.0L495.3 483.2L499.3 488.4L501.7 491.4L503.4 493.5L507.6 498.7L501.7 498.7L494.2 498.7L486.7 498.7L479.1 498.7L471.6 498.7L464.1 498.7L456.6 498.7L449.1 498.7L441.5 498.7L434.0 498.7L426.5 498.7L419.0 498.7L411.5 498.7L403.9 498.7L396.4 498.7L388.9 498.7L381.4 498.7L373.9 498.7L366.3 498.7L358.8 498.7L351.3 498.7L343.8 498.7L336.3 498.7L328.7 498.7L328.7 493.5L328.7 488.4L328.7 483.2L328.7 478.1L328.7 473.0L328.7 467.8L328.7 462.7L328.7 457.5L328.7 452.4L328.7 447.3L328.7 442.1L328.7 437.0L328.7 431.8L328.7 426.7L328.7 421.6L328.7 416.4L328.7 411.3L328.7 406.1L328.7 401.0L328.7 395.9L328.7 390.7L328.7 385.6L328.7 380.4L328.7 375.3L328.7 370.2L328.7 365.0L328.7 359.9L328.7 354.7L328.7 349.6L328.7 344.5L328.7 339.3L328.7 334.2L328.7 329.0L328.7 323.9L328.7 318.8L328.7 313.6L328.7 308.5L328.7 303.3L328.7 298.2L328.7 293.1L328.7 287.9L328.7 282.8L328.7 277.6L328.7 272.5L328.7 267.4L328.7 262.2L328.7 257.1L328.7 251.9L328.7 246.8L328.7 241.7L328.7 236.5L328.7 231.4L328.7 226.2L328.7 221.1L328.7 216.0L328.7 210.8L328.7 205.7L328.7 200.5L328.7 195.4L328.7 190.3L328.7 185.1L328.7 180.0L328.7 174.8L328.7 169.7L328.7 164.6L328.7 159.4L328.7 154.3L328.7 149.1L328.7 144.0L328.7 138.9L328.7 133.7ZM612.8 354.7L614.5 352.9L614.5 354.7L614.5 359.9L614.5 365.0L614.5 370.2L614.5 375.3L614.5 380.4L614.5 385.6L614.5 390.7L614.5 395.9L614.5 401.0L614.5 406.1L614.5 411.3L614.5 416.4L614.5 421.6L614.5 426.7L614.5 431.8L614.5 437.0L614.5 442.1L614.5 447.3L614.5 452.4L614.5 457.5L614.5 462.7L614.5 467.8L614.5 473.0L614.5 478.1L614.5 483.2L614.5 488.4L614.5 493.5L614.5 498.7L607.0 498.7L599.5 498.7L591.9 498.7L585.8 498.7L587.0 493.5L587.6 488.4L587.6 483.2L587.0 478.1L585.6 473.0L584.4 470.3L583.3 467.8L580.1 462.7L577.1 457.5L576.9 456.6L576.1 452.4L576.9 447.5L576.9 447.3L579.5 442.1L583.5 437.0L584.4 436.0L588.3 431.8L591.9 427.0L592.3 426.7L595.9 421.6L598.6 416.4L599.5 414.4L601.0 411.3L602.8 406.1L604.1 401.0L604.8 395.9L605.0 390.7L604.8 385.6L604.2 380.4L603.4 375.3L603.4 370.2L605.1 365.0L607.0 362.4L608.5 359.9Z" fill="#46cb88"/>
<path d="M328.7 128.6L329.6 128.6L331.1 133.7L332.6 138.9L334.2 144.0L335.9 149.1L336.3 150.1L337.5 154.3L339.0 159.4L340.3 164.6L341.1 169.7L340.6 174.8L341.3 180.0L343.8 184.9L344.0 185.1L348.8 190.3L350.7 195.4L351.3 195.9L358.8 199.6L366.3 195.7L366.8 195.4L373.9 191.9L376.9 190.3L381.4 188.0L386.1 185.1L388.9 183.7L396.4 182.4L403.9 182.0L411.5 181.4L419.0 180.7L426.5 180.8L434.0 182.6L437.6 180.0L440.2 174.8L441.5 173.7L446.1 169.7L449.1 165.4L456.6 165.3L458.2 164.6L464.1 163.0L471.3 159.4L471.6 159.3L478.5 154.3L479.1 153.7L484.9 149.1L486.7 147.7L490.9 144.0L492.6 138.9L494.2 136.9L497.5 133.7L498.9 128.6L501.7 128.6L509.2 128.6L516.7 128.6L524.3 128.6L525.4 128.6L524.3 130.6L522.1 133.7L519.6 138.9L516.7 142.0L514.0 144.0L511.1 149.1L510.3 154.3L509.2 158.5L508.8 159.4L505.6 164.6L504.5 169.7L504.6 174.8L504.4 180.0L501.7 184.1L498.6 185.1L494.2 186.1L486.7 186.7L480.5 190.3L479.1 191.1L471.6 192.2L464.1 193.5L456.6 193.2L449.1 192.5L445.1 195.4L443.2 200.5L441.5 202.5L438.0 205.7L434.3 210.8L434.0 211.0L433.4 210.8L426.5 206.1L421.0 205.7L419.0 202.7L418.8 205.7L415.5 210.8L411.5 214.0L403.9 214.6L400.9 216.0L396.4 218.9L392.9 221.1L388.9 224.0L384.4 226.2L383.4 231.4L382.2 236.5L381.4 238.3L378.3 241.7L375.3 246.8L374.1 251.9L375.1 257.1L380.7 262.2L381.4 262.8L384.2 267.4L387.1 272.5L388.9 276.0L389.7 277.6L391.4 282.8L392.1 287.9L392.7 293.1L395.1 298.2L396.4 300.1L398.5 303.3L401.6 308.5L403.9 312.9L404.3 313.6L407.2 318.8L410.1 323.9L411.5 326.4L412.9 329.0L415.8 334.2L418.6 339.3L419.0 340.1L421.6 344.5L425.1 349.6L426.5 351.8L428.3 354.7L430.5 359.9L433.0 365.0L434.0 366.6L436.6 370.2L440.5 375.3L441.5 377.5L442.7 380.4L443.2 385.6L443.8 390.7L445.0 395.9L446.5 401.0L448.1 406.1L449.1 409.3L449.7 411.3L451.1 416.4L452.6 421.6L454.2 426.7L456.1 431.8L456.6 433.0L458.3 437.0L460.9 442.1L463.7 447.3L464.1 448.0L466.8 452.4L470.4 457.5L471.6 459.1L474.5 462.7L479.1 467.8L479.1 467.8L483.7 473.0L486.7 476.5L488.0 478.1L492.0 483.2L494.2 486.1L496.0 488.4L499.9 493.5L501.7 496.0L503.9 498.7L501.7 498.7L494.2 498.7L486.7 498.7L479.1 498.7L471.6 498.7L464.1 498.7L456.6 498.7L449.1 498.7L441.5 498.7L434.0 498.7L426.5 498.7L419.0 498.7L411.5 498.7L403.9 498.7L396.4 498.7L388.9 498.7L381.4 498.7L373.9 498.7L366.3 498.7L358.8 498.7L351.3 498.7L343.8 498.7L336.3 498.7L328.7 498.7L328.7 493.5L328.7 488.4L328.7 483.2L328.7 478.1L328.7 473.0L328.7 467.8L328.7 462.7L328.7 457.5L328.7 452.4L328.7 447.3L328.7 442.1L328.7 437.0L328.7 431.8L328.7 426.7L328.7 421.6L328.7 416.4L328.7 411.3L328.7 406.1L328.7 401.0L328.7 395.9L328.7 390.7L328.7 385.6L328.7 380.4L328.7 375.3L328.7 370.2L328.7 365.0L328.7 359.9L328.7 354.7L328.7 349.6L328.7 344.5L328.7 339.3L328.7 334.2L328.7 329.0L328.7 323.9L328.7 318.8L328.7 313.6L328.7 308.5L328.7 303.3L328.7 298.2L328.7 293.1L328.7 287.9L328.7 282.8L328.7 277.6L328.7 272.5L328.7 267.4L328.7 262.2L328.7 257.1L328.7 251.9L328.7 246.8L328.7 241.7L328.7 236.5L328.7 231.4L328.7 226.2L328.7 221.1L328.7 216.0L328.7 210.8L328.7 205.7L328.7 200.5L328.7 195.4L328.7 190.3L328.7 185.1L328.7 180.0L328.7 174.8L328.7 169.7L328.7 164.6L328.7 159.4L328.7 154.3L328.7 149.1L328.7 144.0L328.7 138.9L328.7 133.7ZM612.7 359.9L614.5 357.7L614.5 359.9L614.5 365.0L614.5 370.2L614.5 375.3L614.5 380.4L614.5 385.6L614.5 390.7L614.5 395.9L614.5 401.0L614.5 406.1L614.5 411.3L614.5 416.4L614.5 421.6L614.5 426.7L614.5 431.8L614.5 437.0L614.5 442.1L614.5 447.3L614.5 452.4L614.5 457.5L614.5 462.7L614.5 467.8L614.5 473.0L614.5 478.1L614.5 483.2L614.5 488.4L614.5 493.5L614.5 498.7L607.0 498.7L599.5 498.7L591.9 498.7L588.8 498.7L589.8 493.5L590.1 488.4L590.0 483.2L589.2 478.1L587.8 473.0L585.4 467.8L584.4 466.5L581.9 462.7L578.5 457.5L577.1 452.4L577.8 447.3L580.3 442.1L584.4 437.0L584.5 437.0L589.3 431.8L591.9 428.4L593.5 426.7L597.1 421.6L599.5 417.3L600.0 416.4L602.5 411.3L604.4 406.1L605.8 401.0L606.6 395.9L607.0 391.8L607.1 390.7L607.2 385.6L607.0 380.4L607.0 377.2L607.0 375.3L607.0 375.1L607.6 370.2L609.4 365.0Z" fill="#52cc7e"/>
<path d="M499.1 128.6L501.7 128.6L509.2 128.6L516.7 128.6L524.3 128.6L525.2 128.6L524.3 130.2L521.7 133.7L519.4 138.9L516.7 141.8L513.7 144.0L510.9 149.1L510.1 154.3L509.2 157.7L508.4 159.4L505.3 164.6L504.4 169.7L504.5 174.8L504.2 180.0L501.7 183.8L497.8 185.1L494.2 186.0L486.7 186.6L480.3 190.3L479.1 191.0L471.6 192.1L464.1 193.4L456.6 193.0L449.1 192.3L444.9 195.4L443.0 200.5L441.5 202.2L437.7 205.7L434.1 210.8L434.0 210.8L433.9 210.8L426.5 205.8L425.2 205.7L420.0 200.5L419.0 199.6L418.3 200.5L418.3 205.7L415.1 210.8L411.5 213.7L403.9 214.3L400.2 216.0L396.4 218.5L392.2 221.1L388.9 223.5L383.4 226.2L382.3 231.4L381.4 234.7L379.9 236.5L375.6 241.7L373.9 244.7L373.0 246.8L371.3 251.9L372.3 257.1L373.9 258.5L377.9 262.2L381.4 265.4L382.6 267.4L385.4 272.5L388.0 277.6L388.9 280.1L389.8 282.8L390.3 287.9L390.5 293.1L392.7 298.2L396.3 303.3L396.4 303.5L399.6 308.5L402.4 313.6L403.9 316.5L405.2 318.8L408.1 323.9L410.9 329.0L411.5 330.1L413.7 334.2L416.3 339.3L419.0 344.1L419.2 344.5L422.5 349.6L425.9 354.7L426.5 355.8L428.4 359.9L430.9 365.0L434.0 369.7L434.4 370.2L438.1 375.3L440.4 380.4L441.0 385.6L441.5 390.7L441.5 390.7L442.6 395.9L444.1 401.0L445.6 406.1L447.1 411.3L448.6 416.4L449.1 417.8L450.2 421.6L451.7 426.7L453.6 431.8L455.9 437.0L456.6 438.3L458.4 442.1L461.2 447.3L464.1 452.1L464.3 452.4L467.8 457.5L471.6 462.4L471.8 462.7L476.2 467.8L479.1 471.2L480.7 473.0L484.9 478.1L486.7 480.5L488.8 483.2L492.6 488.4L494.2 490.6L496.4 493.5L500.2 498.7L494.2 498.7L486.7 498.7L479.1 498.7L471.6 498.7L464.1 498.7L456.6 498.7L449.1 498.7L441.5 498.7L434.0 498.7L426.5 498.7L419.0 498.7L411.5 498.7L403.9 498.7L396.4 498.7L388.9 498.7L381.4 498.7L373.9 498.7L366.3 498.7L358.8 498.7L351.3 498.7L343.8 498.7L336.3 498.7L328.7 498.7L328.7 493.5L328.7 488.4L328.7 483.2L328.7 478.1L328.7 473.0L328.7 467.8L328.7 462.7L328.7 457.5L328.7 452.4L328.7 447.3L328.7 442.1L328.7 437.0L328.7 431.8L328.7 426.7L328.7 421.6L328.7 416.4L328.7 411.3L328.7 406.1L328.7 401.0L328.7 395.9L328.7 390.7L328.7 385.6L328.7 380.4L328.7 375.3L328.7 370.2L328.7 365.0L328.7 359.9L328.7 354.7L328.7 349.6L328.7 344.5L328.7 339.3L328.7 334.2L328.7 329.0L328.7 323.9L328.7 318.8L328.7 313.6L328.7 308.5L328.7 303.3L328.7 298.2L328.7 293.1L328.7 287.9L328.7 282.8L328.7 277.6L328.7 272.5L328.7 267.4L328.7 262.2L328.7 257.1L328.7 251.9L328.7 246.8L328.7 241.7L328.7 236.5L328.7 231.4L328.7 226.2L328.7 221.1L328.7 216.0L328.7 210.8L328.7 205.7L328.7 200.5L328.7 195.4L328.7 190.3L328.7 185.1L328.7 180.0L328.7 174.8L328.7 169.7L328.7 164.6L328.7 159.4L328.7 154.3L328.7 149.1L328.7 144.0L328.7 138.9L328.7 134.2L330.2 138.9L331.9 144.0L333.6 149.1L335.4 154.3L336.3 156.9L337.0 159.4L338.3 164.6L339.1 169.7L338.9 174.8L339.6 180.0L341.9 185.1L343.8 188.0L345.9 190.3L348.6 195.4L351.3 197.6L357.5 200.5L358.8 200.8L359.1 200.5L366.3 196.1L367.5 195.4L373.9 192.2L377.6 190.3L381.4 188.4L386.7 185.1L388.9 184.0L396.4 182.6L403.9 182.2L411.5 181.6L419.0 181.0L426.5 181.0L434.0 182.8L437.8 180.0L440.4 174.8L441.5 173.8L446.3 169.7L449.1 165.7L456.6 165.5L458.7 164.6L464.1 163.1L471.6 159.4L471.6 159.4L478.7 154.3L479.1 153.9L485.1 149.1L486.7 147.9L491.1 144.0L492.8 138.9L494.2 137.2L497.8 133.7ZM613.5 365.0L614.5 363.5L614.5 365.0L614.5 370.2L614.5 375.3L614.5 380.4L614.5 385.6L614.5 390.7L614.5 395.9L614.5 401.0L614.5 406.1L614.5 411.3L614.5 416.4L614.5 421.6L614.5 426.7L614.5 431.8L614.5 437.0L614.5 442.1L614.5 447.3L614.5 452.4L614.5 457.5L614.5 462.7L614.5 467.8L614.5 473.0L614.5 478.1L614.5 483.2L614.5 488.4L614.5 493.5L614.5 498.7L607.0 498.7L599.5 498.7L591.9 498.7L591.8 498.7L591.9 497.7L592.5 493.5L592.6 488.4L592.3 483.2L591.9 480.9L591.5 478.1L590.0 473.0L587.6 467.8L584.4 463.8L583.7 462.7L579.9 457.5L578.1 452.4L578.7 447.3L581.2 442.1L584.4 438.1L585.5 437.0L590.3 431.8L591.9 429.7L594.8 426.7L598.4 421.6L599.5 419.6L601.5 416.4L604.1 411.3L606.0 406.1L607.0 402.6L607.5 401.0L608.6 395.9L609.3 390.7L609.6 385.6L609.8 380.4L610.2 375.3L611.3 370.2Z" fill="#5fcd73"/>
<path d="M499.3 128.6L501.7 128.6L509.2 128.6L516.7 128.6L524.3 128.6L524.9 128.6L524.3 129.7L521.4 133.7L519.2 138.9L516.7 141.6L513.4 144.0L510.7 149.1L509.9 154.3L509.2 156.9L508.0 159.4L505.1 164.6L504.2 169.7L504.3 174.8L504.0 180.0L501.7 183.5L497.1 185.1L494.2 185.8L486.7 186.5L480.1 190.3L479.1 190.8L471.6 192.0L464.1 193.2L456.6 192.9L449.1 192.2L444.7 195.4L442.8 200.5L441.5 202.0L437.4 205.7L434.0 210.5L426.9 205.7L426.5 204.8L421.4 200.5L419.0 198.3L417.2 200.5L417.8 205.7L414.8 210.8L411.5 213.5L403.9 214.0L399.6 216.0L396.4 218.0L391.5 221.1L388.9 223.0L382.4 226.2L381.4 230.4L380.5 231.4L376.1 236.5L373.9 239.7L373.5 241.7L371.0 246.8L368.5 251.9L369.6 257.1L373.9 261.1L375.1 262.2L380.7 267.4L381.4 268.2L383.7 272.5L386.3 277.6L388.1 282.8L388.4 287.9L388.3 293.1L388.9 294.6L390.3 298.2L393.9 303.3L396.4 306.7L397.6 308.5L400.5 313.6L403.3 318.8L403.9 320.0L406.1 323.9L408.8 329.0L411.5 334.0L411.6 334.2L414.1 339.3L416.7 344.5L419.0 348.1L420.0 349.6L423.3 354.7L426.3 359.9L426.5 360.2L428.9 365.0L432.1 370.2L434.0 373.0L435.6 375.3L437.9 380.4L438.5 385.6L439.1 390.7L440.2 395.9L441.5 400.5L441.7 401.0L443.1 406.1L444.6 411.3L446.0 416.4L447.6 421.6L449.1 425.9L449.3 426.7L451.1 431.8L453.3 437.0L456.0 442.1L456.6 443.1L458.8 447.3L461.9 452.4L464.1 455.9L465.2 457.5L469.1 462.7L471.6 465.8L473.3 467.8L477.6 473.0L479.1 474.9L481.7 478.1L485.6 483.2L486.7 484.8L489.3 488.4L492.9 493.5L494.2 495.4L496.6 498.7L494.2 498.7L486.7 498.7L479.1 498.7L471.6 498.7L464.1 498.7L456.6 498.7L449.1 498.7L441.5 498.7L434.0 498.7L426.5 498.7L419.0 498.7L411.5 498.7L403.9 498.7L396.4 498.7L388.9 498.7L381.4 498.7L373.9 498.7L366.3 498.7L358.8 498.7L351.3 498.7L343.8 498.7L336.3 498.7L328.7 498.7L328.7 493.5L328.7 488.4L328.7 483.2L328.7 478.1L328.7 473.0L328.7 467.8L328.7 462.7L328.7 457.5L328.7 452.4L328.7 447.3L328.7 442.1L328.7 437.0L328.7 431.8L328.7 426.7L328.7 421.6L328.7 416.4L328.7 411.3L328.7 406.1L328.7 401.0L328.7 395.9L328.7 390.7L328.7 385.6L328.7 380.4L328.7 375.3L328.7 370.2L328.7 365.0L328.7 359.9L328.7 354.7L328.7 349.6L328.7 344.5L328.7 339.3L328.7 334.2L328.7 329.0L328.7 323.9L328.7 318.8L328.7 313.6L328.7 308.5L328.7 303.3L328.7 298.2L328.7 293.1L328.7 287.9L328.7 282.8L328.7 277.6L328.7 272.5L328.7 267.4L328.7 262.2L328.7 257.1L328.7 251.9L328.7 246.8L328.7 241.7L328.7 236.5L328.7 231.4L328.7 226.2L328.7 221.1L328.7 216.0L328.7 210.8L328.7 205.7L328.7 200.5L328.7 195.4L328.7 190.3L328.7 185.1L328.7 180.0L328.7 174.8L328.7 169.7L328.7 164.6L328.7 159.4L328.7 154.3L328.7 149.1L328.7 144.0L328.7 141.8L329.5 144.0L331.2 149.1L333.0 154.3L334.8 159.4L336.3 164.3L336.3 164.6L337.1 169.7L337.3 174.8L337.9 180.0L339.9 185.1L343.1 190.3L343.8 191.2L346.5 195.4L351.3 199.4L353.8 200.5L358.8 201.7L359.8 200.5L366.3 196.6L368.3 195.4L373.9 192.6L378.3 190.3L381.4 188.7L387.3 185.1L388.9 184.3L396.4 182.8L403.9 182.4L411.5 181.8L419.0 181.2L426.5 181.3L434.0 183.0L438.1 180.0L440.6 174.8L441.5 174.0L446.5 169.7L449.1 166.0L456.6 165.8L459.3 164.6L464.1 163.3L471.6 159.7L472.0 159.4L478.9 154.3L479.1 154.1L485.3 149.1L486.7 148.1L491.3 144.0L493.0 138.9L494.2 137.4L498.0 133.7ZM613.5 375.3L614.5 371.8L614.5 375.3L614.5 380.4L614.5 385.6L614.5 390.7L614.5 395.9L614.5 401.0L614.5 406.1L614.5 411.3L614.5 416.4L614.5 421.6L614.5 426.7L614.5 431.8L614.5 437.0L614.5 442.1L614.5 447.3L614.5 452.4L614.5 457.5L614.5 462.7L614.5 467.8L614.5 473.0L614.5 478.1L614.5 483.2L614.5 488.4L614.5 493.5L614.5 498.7L607.0 498.7L599.5 498.7L594.6 498.7L595.0 493.5L595.0 488.4L594.6 483.2L593.6 478.1L592.1 473.0L591.9 472.6L589.7 467.8L585.7 462.7L584.4 461.7L581.2 457.5L579.1 452.4L579.5 447.3L582.1 442.1L584.4 439.2L586.6 437.0L591.4 431.8L591.9 431.1L596.0 426.7L599.5 421.8L599.7 421.6L603.0 416.4L605.6 411.3L607.0 407.7L607.7 406.1L609.4 401.0L610.6 395.9L611.5 390.7L612.1 385.6L612.7 380.4Z" fill="#6dcd68"/>
<path d="M499.5 128.6L501.7 128.6L509.2 128.6L516.7 128.6L524.3 128.6L524.7 128.6L524.3 129.3L521.1 133.7L519.0 138.9L516.7 141.4L513.1 144.0L510.5 149.1L509.7 154.3L509.2 156.1L507.6 159.4L504.9 164.6L504.1 169.7L504.1 174.8L503.8 180.0L501.7 183.3L496.3 185.1L494.2 185.6L486.7 186.3L479.8 190.3L479.1 190.7L471.6 191.8L464.1 193.1L456.6 192.8L449.1 192.0L444.5 195.4L442.6 200.5L441.5 201.8L437.1 205.7L434.0 210.1L427.5 205.7L426.5 203.6L422.9 200.5L419.0 196.9L416.2 200.5L417.4 205.7L414.4 210.8L411.5 213.2L403.9 213.7L398.9 216.0L396.4 217.6L390.8 221.1L388.9 222.5L381.4 226.2L381.4 226.4L377.0 231.4L373.9 234.9L373.5 236.5L372.5 241.7L369.0 246.8L366.3 251.2L365.8 251.9L366.3 254.5L366.9 257.1L371.9 262.2L373.9 263.5L378.2 267.4L381.4 271.3L382.0 272.5L384.5 277.6L386.3 282.8L386.5 287.9L385.8 293.1L387.9 298.2L388.9 299.5L391.6 303.3L395.5 308.5L396.4 309.8L398.6 313.6L401.3 318.8L403.9 323.7L404.1 323.9L406.8 329.0L409.4 334.2L411.5 338.5L411.8 339.3L414.2 344.5L417.2 349.6L419.0 352.0L420.8 354.7L423.9 359.9L426.5 364.4L426.8 365.0L429.9 370.2L433.2 375.3L434.0 377.3L435.4 380.4L436.1 385.6L436.7 390.7L437.7 395.9L439.1 401.0L440.5 406.1L441.5 409.6L442.0 411.3L443.5 416.4L445.0 421.6L446.7 426.7L448.6 431.8L449.1 432.8L450.8 437.0L453.4 442.1L456.4 447.3L456.6 447.5L459.4 452.4L462.7 457.5L464.1 459.6L466.4 462.7L470.4 467.8L471.6 469.4L474.6 473.0L478.6 478.1L479.1 478.9L482.3 483.2L485.9 488.4L486.7 489.5L489.5 493.5L493.0 498.7L486.7 498.7L479.1 498.7L471.6 498.7L464.1 498.7L456.6 498.7L449.1 498.7L441.5 498.7L434.0 498.7L426.5 498.7L419.0 498.7L411.5 498.7L403.9 498.7L396.4 498.7L388.9 498.7L381.4 498.7L373.9 498.7L366.3 498.7L358.8 498.7L351.3 498.7L343.8 498.7L336.3 498.7L328.7 498.7L328.7 493.5L328.7 488.4L328.7 483.2L328.7 478.1L328.7 473.0L328.7 467.8L328.7 462.7L328.7 457.5L328.7 452.4L328.7 447.3L328.7 442.1L328.7 437.0L328.7 431.8L328.7 426.7L328.7 421.6L328.7 416.4L328.7 411.3L328.7 406.1L328.7 401.0L328.7 395.9L328.7 390.7L328.7 385.6L328.7 380.4L328.7 375.3L328.7 370.2L328.7 365.0L328.7 359.9L328.7 354.7L328.7 349.6L328.7 344.5L328.7 339.3L328.7 334.2L328.7 329.0L328.7 323.9L328.7 318.8L328.7 313.6L328.7 308.5L328.7 303.3L328.7 298.2L328.7 293.1L328.7 287.9L328.7 282.8L328.7 277.6L328.7 272.5L328.7 267.4L328.7 262.2L328.7 257.1L328.7 251.9L328.7 246.8L328.7 241.7L328.7 236.5L328.7 231.4L328.7 226.2L328.7 221.1L328.7 216.0L328.7 210.8L328.7 205.7L328.7 200.5L328.7 195.4L328.7 190.3L328.7 185.1L328.7 180.0L328.7 174.8L328.7 169.7L328.7 164.6L328.7 159.4L328.7 154.3L328.7 149.1L328.7 148.8L328.9 149.1L330.7 154.3L332.4 159.4L334.0 164.6L335.0 169.7L335.4 174.8L336.2 180.0L336.3 180.1L337.9 185.1L340.9 190.3L343.8 194.3L344.5 195.4L350.4 200.5L351.3 201.0L358.8 202.5L360.6 200.5L366.3 197.0L369.0 195.4L373.9 193.0L379.0 190.3L381.4 189.1L387.8 185.1L388.9 184.6L396.4 183.0L403.9 182.6L411.5 182.0L419.0 181.4L426.5 181.5L434.0 183.1L438.3 180.0L440.8 174.8L441.5 174.2L446.7 169.7L449.1 166.3L456.6 166.0L459.8 164.6L464.1 163.4L471.6 160.0L472.5 159.4L479.1 154.3L479.1 154.2L485.6 149.1L486.7 148.3L491.5 144.0L493.2 138.9L494.2 137.6L498.3 133.7ZM613.7 390.7L614.5 385.9L614.5 390.7L614.5 395.9L614.5 401.0L614.5 406.1L614.5 411.3L614.5 416.4L614.5 421.6L614.5 426.7L614.5 431.8L614.5 437.0L614.5 442.1L614.5 447.3L614.5 452.4L614.5 457.5L614.5 462.7L614.5 467.8L614.5 473.0L614.5 478.1L614.5 483.2L614.5 488.4L614.5 493.5L614.5 498.7L607.0 498.7L599.5 498.7L597.3 498.7L597.6 493.5L597.4 488.4L596.8 483.2L595.7 478.1L594.1 473.0L591.9 468.1L591.8 467.8L587.9 462.7L584.4 459.9L582.6 457.5L580.1 452.4L580.4 447.3L583.0 442.1L584.4 440.4L587.7 437.0L591.9 432.3L592.5 431.8L597.3 426.7L599.5 423.6L601.2 421.6L604.5 416.4L607.0 411.6L607.2 411.3L609.5 406.1L611.3 401.0L612.6 395.9Z" fill="#7ccc5c"/>
<path d="M499.7 128.6L501.7 128.6L509.2 128.6L516.7 128.6L524.3 128.6L524.4 128.6L524.3 128.8L520.8 133.7L518.8 138.9L516.7 141.1L512.8 144.0L510.3 149.1L509.5 154.3L509.2 155.3L507.3 159.4L504.7 164.6L503.9 169.7L504.0 174.8L503.7 180.0L501.7 183.0L495.5 185.1L494.2 185.4L486.7 186.2L479.6 190.3L479.1 190.5L471.6 191.7L464.1 192.9L456.6 192.6L449.1 191.8L444.2 195.4L442.4 200.5L441.5 201.5L436.9 205.7L434.0 209.7L428.0 205.7L426.5 202.3L424.4 200.5L419.0 195.5L415.1 200.5L416.9 205.7L414.1 210.8L411.5 212.9L403.9 213.4L398.3 216.0L396.4 217.2L390.1 221.1L388.9 222.0L381.4 221.8L380.2 226.2L373.9 231.3L373.8 231.4L372.6 236.5L371.4 241.7L367.0 246.8L366.3 247.9L363.2 251.9L364.4 257.1L366.3 260.0L368.3 262.2L373.9 265.8L375.6 267.4L379.8 272.5L381.4 274.8L382.7 277.6L384.5 282.8L384.6 287.9L383.4 293.1L385.4 298.2L388.9 302.9L389.2 303.3L393.2 308.5L396.4 313.1L396.7 313.6L399.4 318.8L402.0 323.9L403.9 327.6L404.7 329.0L407.2 334.2L409.5 339.3L411.5 344.0L411.7 344.5L414.4 349.6L418.2 354.7L419.0 355.8L421.6 359.9L424.5 365.0L426.5 368.2L427.6 370.2L430.8 375.3L432.9 380.4L433.7 385.6L434.0 388.5L434.3 390.7L435.2 395.9L436.5 401.0L437.9 406.1L439.3 411.3L440.8 416.4L441.5 418.6L442.4 421.6L444.2 426.7L446.0 431.8L448.2 437.0L449.1 438.6L450.8 442.1L453.8 447.3L456.6 451.6L457.0 452.4L460.2 457.5L463.6 462.7L464.1 463.4L467.5 467.8L471.5 473.0L471.6 473.2L475.3 478.1L479.1 483.2L479.1 483.4L482.6 488.4L486.0 493.5L486.7 494.5L489.4 498.7L486.7 498.7L479.1 498.7L471.6 498.7L464.1 498.7L456.6 498.7L449.1 498.7L441.5 498.7L434.0 498.7L426.5 498.7L419.0 498.7L411.5 498.7L403.9 498.7L396.4 498.7L388.9 498.7L381.4 498.7L373.9 498.7L366.3 498.7L358.8 498.7L351.3 498.7L343.8 498.7L336.3 498.7L328.7 498.7L328.7 493.5L328.7 488.4L328.7 483.2L328.7 478.1L328.7 473.0L328.7 467.8L328.7 462.7L328.7 457.5L328.7 452.4L328.7 447.3L328.7 442.1L328.7 437.0L328.7 431.8L328.7 426.7L328.7 421.6L328.7 416.4L328.7 411.3L328.7 406.1L328.7 401.0L328.7 395.9L328.7 390.7L328.7 385.6L328.7 380.4L328.7 375.3L328.7 370.2L328.7 365.0L328.7 359.9L328.7 354.7L328.7 349.6L328.7 344.5L328.7 339.3L328.7 334.2L328.7 329.0L328.7 323.9L328.7 318.8L328.7 313.6L328.7 308.5L328.7 303.3L328.7 298.2L328.7 293.1L328.7 287.9L328.7 282.8L328.7 277.6L328.7 272.5L328.7 267.4L328.7 262.2L328.7 257.1L328.7 251.9L328.7 246.8L328.7 241.7L328.7 236.5L328.7 231.4L328.7 226.2L328.7 221.1L328.7 216.0L328.7 210.8L328.7 205.7L328.7 200.5L328.7 195.4L328.7 190.3L328.7 185.1L328.7 180.0L328.7 174.8L328.7 169.7L328.7 164.6L328.7 159.4L328.7 155.6L330.0 159.4L331.6 164.6L332.7 169.7L333.3 174.8L334.2 180.0L335.9 185.1L336.3 185.9L338.6 190.3L342.2 195.4L343.8 197.1L347.5 200.5L351.3 202.5L358.8 203.3L361.4 200.5L366.3 197.5L369.7 195.4L373.9 193.4L379.7 190.3L381.4 189.4L388.4 185.1L388.9 184.9L396.4 183.2L403.9 182.7L411.5 182.2L419.0 181.6L426.5 181.7L434.0 183.3L438.5 180.0L441.0 174.8L441.5 174.4L446.9 169.7L449.1 166.6L456.6 166.3L460.4 164.6L464.1 163.6L471.6 160.3L472.9 159.4L479.1 154.6L479.5 154.3L485.8 149.1L486.7 148.5L491.7 144.0L493.4 138.9L494.2 137.9L498.5 133.7ZM613.2 401.0L614.5 396.4L614.5 401.0L614.5 406.1L614.5 411.3L614.5 416.4L614.5 421.6L614.5 426.7L614.5 431.8L614.5 437.0L614.5 442.1L614.5 447.3L614.5 452.4L614.5 457.5L614.5 462.7L614.5 467.8L614.5 473.0L614.5 478.1L614.5 483.2L614.5 488.4L614.5 493.5L614.5 498.7L607.0 498.7L600.1 498.7L600.2 493.5L599.8 488.4L599.5 486.0L599.0 483.2L597.8 478.1L596.1 473.0L593.7 467.8L591.9 465.2L590.0 462.7L584.4 458.2L583.9 457.5L581.1 452.4L581.3 447.3L583.9 442.1L584.4 441.5L588.8 437.0L591.9 433.5L593.9 431.8L598.6 426.7L599.5 425.4L602.8 421.6L606.1 416.4L607.0 414.6L609.0 411.3L611.3 406.1Z" fill="#8bcb51"/>
<path d="M499.8 128.6L501.7 128.6L509.2 128.6L516.7 128.6L524.0 128.6L520.5 133.7L518.6 138.9L516.7 140.9L512.5 144.0L510.1 149.1L509.3 154.3L509.2 154.5L506.9 159.4L504.5 164.6L503.7 169.7L503.8 174.8L503.5 180.0L501.7 182.7L494.7 185.1L494.2 185.2L486.7 186.1L479.4 190.3L479.1 190.4L471.6 191.6L464.1 192.8L456.6 192.5L449.1 191.7L444.0 195.4L442.2 200.5L441.5 201.3L436.6 205.7L434.0 209.3L428.6 205.7L426.5 201.1L425.9 200.5L425.4 195.4L419.0 195.1L417.6 195.4L414.1 200.5L416.4 205.7L413.7 210.8L411.5 212.6L403.9 213.1L397.6 216.0L396.4 216.7L389.4 221.1L388.9 221.5L385.3 221.1L381.4 219.1L380.6 221.1L378.9 226.2L373.9 230.3L372.9 231.4L371.7 236.5L370.4 241.7L366.3 246.1L365.1 246.8L360.7 251.9L362.0 257.1L365.2 262.2L366.3 263.4L372.5 267.4L373.9 268.4L377.2 272.5L380.8 277.6L381.4 278.8L382.8 282.8L382.7 287.9L381.4 292.0L381.0 293.1L381.4 294.2L383.0 298.2L386.7 303.3L388.9 305.8L391.0 308.5L394.6 313.6L396.4 316.8L397.4 318.8L400.0 323.9L402.6 329.0L403.9 331.9L405.0 334.2L407.2 339.3L409.1 344.5L411.5 349.4L411.6 349.6L415.2 354.7L419.0 359.6L419.2 359.9L422.2 365.0L425.2 370.2L426.5 372.2L428.3 375.3L430.3 380.4L431.1 385.6L431.7 390.7L432.6 395.9L433.9 401.0L434.0 401.3L435.2 406.1L436.5 411.3L438.0 416.4L439.7 421.6L441.5 426.6L441.6 426.7L443.3 431.8L445.4 437.0L448.1 442.1L449.1 443.6L451.2 447.3L454.4 452.4L456.6 455.7L457.7 457.5L461.0 462.7L464.1 467.3L464.5 467.8L468.3 473.0L471.6 477.5L472.1 478.1L475.7 483.2L479.1 488.3L479.2 488.4L482.5 493.5L485.9 498.7L479.1 498.7L471.6 498.7L464.1 498.7L456.6 498.7L449.1 498.7L441.5 498.7L434.0 498.7L426.5 498.7L419.0 498.7L411.5 498.7L403.9 498.7L396.4 498.7L388.9 498.7L381.4 498.7L373.9 498.7L366.3 498.7L358.8 498.7L351.3 498.7L343.8 498.7L336.3 498.7L328.7 498.7L328.7 493.5L328.7 488.4L328.7 483.2L328.7 478.1L328.7 473.0L328.7 467.8L328.7 462.7L328.7 457.5L328.7 452.4L328.7 447.3L328.7 442.1L328.7 437.0L328.7 431.8L328.7 426.7L328.7 421.6L328.7 416.4L328.7 411.3L328.7 406.1L328.7 401.0L328.7 395.9L328.7 390.7L328.7 385.6L328.7 380.4L328.7 375.3L328.7 370.2L328.7 365.0L328.7 359.9L328.7 354.7L328.7 349.6L328.7 344.5L328.7 339.3L328.7 334.2L328.7 329.0L328.7 323.9L328.7 318.8L328.7 313.6L328.7 308.5L328.7 303.3L328.7 298.2L328.7 293.1L328.7 287.9L328.7 282.8L328.7 277.6L328.7 272.5L328.7 267.4L328.7 262.2L328.7 257.1L328.7 251.9L328.7 246.8L328.7 241.7L328.7 236.5L328.7 231.4L328.7 226.2L328.7 221.1L328.7 216.0L328.7 210.8L328.7 205.7L328.7 200.5L328.7 195.4L328.7 190.3L328.7 185.1L328.7 180.0L328.7 174.8L328.7 169.7L328.7 164.6L328.7 163.0L329.2 164.6L330.4 169.7L331.2 174.8L332.2 180.0L333.8 185.1L336.3 190.2L336.3 190.3L339.7 195.4L343.8 199.8L344.6 200.5L351.3 204.1L358.8 204.2L362.1 200.5L366.3 198.0L370.5 195.4L373.9 193.7L380.4 190.3L381.4 189.8L388.9 185.2L389.0 185.1L396.4 183.4L403.9 182.9L411.5 182.4L419.0 181.8L426.5 181.9L434.0 183.5L438.8 180.0L441.2 174.8L441.5 174.6L447.1 169.7L449.1 166.9L456.6 166.5L460.9 164.6L464.1 163.7L471.6 160.6L473.4 159.4L479.1 154.9L480.0 154.3L486.0 149.1L486.7 148.6L491.9 144.0L493.6 138.9L494.2 138.1L498.8 133.7ZM613.1 406.1L614.5 402.5L614.5 406.1L614.5 411.3L614.5 416.4L614.5 421.6L614.5 426.7L614.5 431.8L614.5 437.0L614.5 442.1L614.5 447.3L614.5 452.4L614.5 457.5L614.5 462.7L614.5 467.8L614.5 473.0L614.5 478.1L614.5 483.2L614.5 488.4L614.5 493.5L614.5 498.7L607.0 498.7L602.7 498.7L602.7 493.5L602.2 488.4L601.3 483.2L599.9 478.1L599.5 476.9L598.0 473.0L595.5 467.8L592.2 462.7L591.9 462.5L585.7 457.5L584.4 456.4L582.1 452.4L582.2 447.3L584.4 442.8L584.9 442.1L589.9 437.0L591.9 434.7L595.3 431.8L599.5 427.2L600.0 426.7L604.3 421.6L607.0 417.4L607.7 416.4L610.8 411.3Z" fill="#99c946"/>
<path d="M500.0 128.6L501.7 128.6L509.2 128.6L516.7 128.6L523.4 128.6L520.2 133.7L518.4 138.9L516.7 140.7L512.2 144.0L509.9 149.1L509.2 153.4L508.8 154.3L506.5 159.4L504.3 164.6L503.6 169.7L503.6 174.8L503.3 180.0L501.7 182.5L494.2 185.0L493.9 185.1L486.7 185.9L479.1 190.2L479.1 190.3L471.6 191.5L464.1 192.6L456.6 192.3L449.1 191.5L443.8 195.4L442.0 200.5L441.5 201.0L436.3 205.7L434.0 209.0L429.2 205.7L426.9 200.5L427.1 195.4L426.5 195.1L419.0 194.8L416.0 195.4L413.0 200.5L416.0 205.7L413.4 210.8L411.5 212.3L403.9 212.8L397.0 216.0L396.4 216.3L388.9 220.9L381.4 216.8L379.7 221.1L377.7 226.2L373.9 229.3L371.9 231.4L370.8 236.5L369.4 241.7L366.3 245.0L363.2 246.8L358.8 251.4L358.1 251.9L358.8 254.5L359.5 257.1L362.4 262.2L366.3 266.2L368.2 267.4L373.9 271.6L374.6 272.5L378.0 277.6L380.7 282.8L380.6 287.9L379.0 293.1L380.6 298.2L381.4 299.5L384.1 303.3L388.7 308.5L388.9 308.7L392.4 313.6L395.4 318.8L396.4 320.8L397.9 323.9L400.4 329.0L402.8 334.2L403.9 337.1L404.8 339.3L406.6 344.5L408.7 349.6L411.5 353.5L412.3 354.7L416.4 359.9L419.0 363.6L419.8 365.0L422.7 370.2L425.8 375.3L426.5 377.1L427.8 380.4L428.5 385.6L429.1 390.7L429.9 395.9L431.0 401.0L432.3 406.1L433.7 411.3L434.0 412.4L435.2 416.4L436.8 421.6L438.6 426.7L440.6 431.8L441.5 434.2L442.6 437.0L445.2 442.1L448.4 447.3L449.1 448.1L451.8 452.4L455.1 457.5L456.6 459.9L458.3 462.7L461.6 467.8L464.1 471.5L465.2 473.0L468.8 478.1L471.6 482.2L472.4 483.2L475.7 488.4L479.1 493.5L479.1 493.6L482.3 498.7L479.1 498.7L471.6 498.7L464.1 498.7L456.6 498.7L449.1 498.7L441.5 498.7L434.0 498.7L426.5 498.7L419.0 498.7L411.5 498.7L403.9 498.7L396.4 498.7L388.9 498.7L381.4 498.7L373.9 498.7L366.3 498.7L358.8 498.7L351.3 498.7L343.8 498.7L336.3 498.7L328.7 498.7L328.7 493.5L328.7 488.4L328.7 483.2L328.7 478.1L328.7 473.0L328.7 467.8L328.7 462.7L328.7 457.5L328.7 452.4L328.7 447.3L328.7 442.1L328.7 437.0L328.7 431.8L328.7 426.7L328.7 421.6L328.7 416.4L328.7 411.3L328.7 406.1L328.7 401.0L328.7 395.9L328.7 390.7L328.7 385.6L328.7 380.4L328.7 375.3L328.7 370.2L328.7 365.0L328.7 359.9L328.7 354.7L328.7 349.6L328.7 344.5L328.7 339.3L328.7 334.2L328.7 329.0L328.7 323.9L328.7 318.8L328.7 313.6L328.7 308.5L328.7 303.3L328.7 298.2L328.7 293.1L328.7 287.9L328.7 282.8L328.7 277.6L328.7 272.5L328.7 267.4L328.7 262.2L328.7 257.1L328.7 251.9L328.7 246.8L328.7 241.7L328.7 236.5L328.7 231.4L328.7 226.2L328.7 221.1L328.7 216.0L328.7 210.8L328.7 205.7L328.7 200.5L328.7 195.4L328.7 190.3L328.7 185.1L328.7 180.0L328.7 174.8L328.7 172.9L329.1 174.8L330.1 180.0L331.7 185.1L334.0 190.3L336.3 193.9L337.3 195.4L341.7 200.5L343.8 202.4L351.3 205.6L358.8 205.0L362.9 200.5L366.3 198.4L371.2 195.4L373.9 194.1L381.1 190.3L381.4 190.1L388.9 185.5L389.9 185.1L396.4 183.6L403.9 183.1L411.5 182.6L419.0 182.0L426.5 182.2L434.0 183.7L439.0 180.0L441.4 174.8L441.5 174.8L447.4 169.7L449.1 167.2L456.6 166.8L461.5 164.6L464.1 163.9L471.6 160.9L473.9 159.4L479.1 155.3L480.5 154.3L486.2 149.1L486.7 148.8L492.1 144.0L493.8 138.9L494.2 138.3L499.0 133.7ZM612.6 411.3L614.5 407.1L614.5 411.3L614.5 416.4L614.5 421.6L614.5 426.7L614.5 431.8L614.5 437.0L614.5 442.1L614.5 447.3L614.5 452.4L614.5 457.5L614.5 462.7L614.5 467.8L614.5 473.0L614.5 478.1L614.5 483.2L614.5 488.4L614.5 493.5L614.5 498.7L607.0 498.7L605.4 498.7L605.2 493.5L604.5 488.4L603.5 483.2L602.0 478.1L600.0 473.0L599.5 471.9L597.4 467.8L593.9 462.7L591.9 461.0L587.6 457.5L584.4 454.6L583.2 452.4L583.0 447.3L584.4 444.5L586.1 442.1L590.9 437.0L591.9 435.9L596.7 431.8L599.5 428.7L601.6 426.7L605.9 421.6L607.0 419.8L609.5 416.4Z" fill="#a7c73c"/>
<path d="M500.2 128.6L501.7 128.6L509.2 128.6L516.7 128.6L522.8 128.6L519.8 133.7L518.2 138.9L516.7 140.5L511.9 144.0L509.7 149.1L509.2 152.2L508.2 154.3L506.1 159.4L504.1 164.6L503.4 169.7L503.5 174.8L503.1 180.0L501.7 182.2L494.2 184.7L492.7 185.1L486.7 185.8L479.1 189.9L478.4 190.3L471.6 191.4L464.1 192.5L456.6 192.2L449.1 191.3L443.6 195.4L441.8 200.5L441.5 200.8L436.1 205.7L434.0 208.6L429.7 205.7L427.6 200.5L427.7 195.4L426.5 194.7L419.0 194.4L414.5 195.4L412.0 200.5L415.5 205.7L413.0 210.8L411.5 212.1L403.9 212.5L396.4 215.8L396.2 216.0L388.9 220.3L382.1 216.0L382.1 210.8L381.4 209.9L380.4 210.8L380.5 216.0L378.8 221.1L376.4 226.2L373.9 228.3L371.0 231.4L369.9 236.5L368.4 241.7L366.3 243.9L361.3 246.8L358.8 249.4L355.5 251.9L357.0 257.1L358.8 260.6L359.7 262.2L364.5 267.4L366.3 269.1L370.9 272.5L373.9 275.5L375.3 277.6L377.8 282.8L377.9 287.9L376.9 293.1L378.4 298.2L381.4 303.1L381.5 303.3L386.0 308.5L388.9 311.7L390.3 313.6L393.1 318.8L395.8 323.9L396.4 325.1L398.3 329.0L400.6 334.2L402.5 339.3L403.9 344.2L404.0 344.5L405.9 349.6L409.3 354.7L411.5 357.2L413.7 359.9L417.2 365.0L419.0 368.1L420.1 370.2L422.9 375.3L425.1 380.4L425.9 385.6L426.4 390.7L426.5 391.2L427.2 395.9L428.1 401.0L429.2 406.1L430.7 411.3L432.2 416.4L433.9 421.6L434.0 421.8L435.7 426.7L437.6 431.8L439.7 437.0L441.5 440.7L442.2 442.1L445.3 447.3L449.1 452.2L449.2 452.4L452.5 457.5L455.7 462.7L456.6 464.3L458.8 467.8L462.1 473.0L464.1 476.0L465.5 478.1L469.0 483.2L471.6 487.4L472.3 488.4L475.5 493.5L478.7 498.7L471.6 498.7L464.1 498.7L456.6 498.7L449.1 498.7L441.5 498.7L434.0 498.7L426.5 498.7L419.0 498.7L411.5 498.7L403.9 498.7L396.4 498.7L388.9 498.7L381.4 498.7L373.9 498.7L366.3 498.7L358.8 498.7L351.3 498.7L343.8 498.7L336.3 498.7L328.7 498.7L328.7 493.5L328.7 488.4L328.7 483.2L328.7 478.1L328.7 473.0L328.7 467.8L328.7 462.7L328.7 457.5L328.7 452.4L328.7 447.3L328.7 442.1L328.7 437.0L328.7 431.8L328.7 426.7L328.7 421.6L328.7 416.4L328.7 411.3L328.7 406.1L328.7 401.0L328.7 395.9L328.7 390.7L328.7 385.6L328.7 380.4L328.7 375.3L328.7 370.2L328.7 365.0L328.7 359.9L328.7 354.7L328.7 349.6L328.7 344.5L328.7 339.3L328.7 334.2L328.7 329.0L328.7 323.9L328.7 318.8L328.7 313.6L328.7 308.5L328.7 303.3L328.7 298.2L328.7 293.1L328.7 287.9L328.7 282.8L328.7 277.6L328.7 272.5L328.7 267.4L328.7 262.2L328.7 257.1L328.7 251.9L328.7 246.8L328.7 241.7L328.7 236.5L328.7 231.4L328.7 226.2L328.7 221.1L328.7 216.0L328.7 210.8L328.7 205.7L328.7 200.5L328.7 195.4L328.7 190.3L328.7 185.1L328.7 182.3L329.5 185.1L331.7 190.3L334.8 195.4L336.3 197.5L338.8 200.5L343.8 205.1L345.2 205.7L351.3 206.7L358.8 205.8L359.2 205.7L363.6 200.5L366.3 198.9L372.0 195.4L373.9 194.5L381.4 190.6L381.8 190.3L388.9 185.9L390.8 185.1L396.4 183.8L403.9 183.3L411.5 182.8L419.0 182.2L426.5 182.4L434.0 183.9L439.3 180.0L441.5 175.1L441.9 174.8L447.6 169.7L449.1 167.5L456.6 167.0L462.0 164.6L464.1 164.0L471.6 161.2L474.3 159.4L479.1 155.6L481.1 154.3L486.5 149.1L486.7 149.0L492.3 144.0L493.9 138.9L494.2 138.6L499.3 133.7ZM388.9 205.2L387.3 205.7L388.9 206.3L390.2 205.7ZM614.4 411.3L614.5 411.0L614.5 411.3L614.5 416.4L614.5 421.6L614.5 426.7L614.5 431.8L614.5 437.0L614.5 442.1L614.5 447.3L614.5 452.4L614.5 457.5L614.5 462.7L614.5 467.8L614.5 473.0L614.5 478.1L614.5 483.2L614.5 488.4L614.5 493.5L614.5 498.7L608.1 498.7L607.7 493.5L607.0 489.0L606.9 488.4L605.7 483.2L604.2 478.1L602.1 473.0L599.5 468.2L599.3 467.8L595.7 462.7L591.9 459.5L589.5 457.5L584.4 452.9L584.2 452.4L583.9 447.3L584.4 446.2L587.2 442.1L591.9 437.1L592.1 437.0L598.1 431.8L599.5 430.3L603.3 426.7L607.0 422.1L607.5 421.6L611.4 416.4Z" fill="#b5c533"/>
<path d="M500.4 128.6L501.7 128.6L509.2 128.6L516.7 128.6L522.2 128.6L519.5 133.7L518.0 138.9L516.7 140.2L511.6 144.0L509.5 149.1L509.2 151.0L507.7 154.3L505.7 159.4L503.9 164.6L503.2 169.7L503.3 174.8L503.0 180.0L501.7 181.9L494.2 184.3L491.5 185.1L486.7 185.7L479.1 189.6L477.6 190.3L471.6 191.2L464.1 192.3L456.6 192.0L449.1 191.2L443.4 195.4L441.6 200.5L441.5 200.6L435.8 205.7L434.0 208.2L430.3 205.7L428.3 200.5L428.4 195.4L426.5 194.3L419.0 194.1L412.9 195.4L411.5 198.8L403.9 200.3L396.4 200.1L394.8 200.5L396.4 202.6L403.9 200.8L411.5 200.8L415.0 205.7L412.7 210.8L411.5 211.8L403.9 212.2L396.4 215.1L395.1 216.0L388.9 219.6L383.1 216.0L384.0 210.8L381.4 207.5L377.8 210.8L379.2 216.0L377.8 221.1L375.2 226.2L373.9 227.3L370.1 231.4L369.0 236.5L367.4 241.7L366.3 242.8L359.4 246.8L358.8 247.4L352.8 251.9L354.4 257.1L357.0 262.2L358.8 264.7L361.1 267.4L366.3 272.1L366.8 272.5L372.0 277.6L373.9 280.8L374.8 282.8L375.2 287.9L374.9 293.1L376.2 298.2L379.1 303.3L381.4 306.3L383.3 308.5L387.8 313.6L388.9 315.1L390.9 318.8L393.5 323.9L396.1 329.0L396.4 329.8L398.3 334.2L400.2 339.3L401.7 344.5L403.2 349.6L403.9 351.1L406.3 354.7L410.9 359.9L411.5 360.7L414.5 365.0L417.4 370.2L419.0 373.2L420.1 375.3L422.3 380.4L423.4 385.6L424.0 390.7L424.5 395.9L425.1 401.0L426.2 406.1L426.5 407.2L427.6 411.3L429.2 416.4L430.9 421.6L432.7 426.7L434.0 430.1L434.6 431.8L436.7 437.0L439.1 442.1L441.5 446.2L442.1 447.3L445.9 452.4L449.1 456.4L449.8 457.5L453.0 462.7L456.0 467.8L456.6 468.9L459.1 473.0L462.3 478.1L464.1 481.0L465.6 483.2L468.8 488.4L471.6 492.9L472.0 493.5L475.1 498.7L471.6 498.7L464.1 498.7L456.6 498.7L449.1 498.7L441.5 498.7L434.0 498.7L426.5 498.7L419.0 498.7L411.5 498.7L403.9 498.7L396.4 498.7L388.9 498.7L381.4 498.7L373.9 498.7L366.3 498.7L358.8 498.7L351.3 498.7L343.8 498.7L336.3 498.7L328.7 498.7L328.7 493.5L328.7 488.4L328.7 483.2L328.7 478.1L328.7 473.0L328.7 467.8L328.7 462.7L328.7 457.5L328.7 452.4L328.7 447.3L328.7 442.1L328.7 437.0L328.7 431.8L328.7 426.7L328.7 421.6L328.7 416.4L328.7 411.3L328.7 406.1L328.7 401.0L328.7 395.9L328.7 390.7L328.7 385.6L328.7 380.4L328.7 375.3L328.7 370.2L328.7 365.0L328.7 359.9L328.7 354.7L328.7 349.6L328.7 344.5L328.7 339.3L328.7 334.2L328.7 329.0L328.7 323.9L328.7 318.8L328.7 313.6L328.7 308.5L328.7 303.3L328.7 298.2L328.7 293.1L328.7 287.9L328.7 282.8L328.7 277.6L328.7 272.5L328.7 267.4L328.7 262.2L328.7 257.1L328.7 251.9L328.7 246.8L328.7 241.7L328.7 236.5L328.7 231.4L328.7 226.2L328.7 221.1L328.7 216.0L328.7 210.8L328.7 205.7L328.7 200.5L328.7 195.4L328.7 190.3L328.7 188.6L329.4 190.3L332.2 195.4L335.9 200.5L336.3 200.9L341.0 205.7L343.8 207.8L351.3 207.7L358.8 206.6L361.4 205.7L364.4 200.5L366.3 199.3L372.7 195.4L373.9 194.8L381.4 191.0L382.4 190.3L388.9 186.3L391.7 185.1L396.4 184.0L403.9 183.5L411.5 182.9L419.0 182.5L426.5 182.6L434.0 184.1L439.5 180.0L441.5 175.6L442.4 174.8L447.8 169.7L449.1 167.8L456.6 167.3L462.5 164.6L464.1 164.1L471.6 161.5L474.8 159.4L479.1 156.0L481.6 154.3L486.7 149.2L486.7 149.1L492.5 144.0L494.1 138.9L494.2 138.8L499.5 133.7ZM388.9 204.1L384.0 205.7L388.9 207.5L392.8 205.7ZM613.2 416.4L614.5 414.2L614.5 416.4L614.5 421.6L614.5 426.7L614.5 431.8L614.5 437.0L614.5 442.1L614.5 447.3L614.5 452.4L614.5 457.5L614.5 462.7L614.5 467.8L614.5 473.0L614.5 478.1L614.5 483.2L614.5 488.4L614.5 493.5L614.5 498.7L610.8 498.7L610.2 493.5L609.3 488.4L608.0 483.2L607.0 480.3L606.3 478.1L604.1 473.0L601.3 467.8L599.5 465.5L597.5 462.7L591.9 457.9L591.4 457.5L585.5 452.4L584.9 447.3L588.4 442.1L591.9 438.3L593.8 437.0L599.5 431.9L599.5 431.8L605.0 426.7L607.0 424.3L609.5 421.6Z" fill="#c2c22c"/>
<path d="M500.6 128.6L501.7 128.6L509.2 128.6L516.7 128.6L521.6 128.6L519.2 133.7L517.8 138.9L516.7 140.0L511.2 144.0L509.3 149.1L509.2 149.8L507.1 154.3L505.4 159.4L503.7 164.6L503.1 169.7L503.2 174.8L502.8 180.0L501.7 181.7L494.2 184.0L490.3 185.1L486.7 185.5L479.1 189.3L476.9 190.3L471.6 191.1L464.1 192.2L456.6 191.9L449.1 191.0L443.1 195.4L441.5 200.0L440.7 200.5L435.5 205.7L434.0 207.8L430.9 205.7L429.0 200.5L429.0 195.4L426.5 193.9L419.0 193.8L411.5 195.4L411.4 195.4L403.9 199.7L396.4 199.6L393.0 200.5L388.9 203.0L381.4 205.5L380.4 205.7L375.2 210.8L377.8 216.0L376.9 221.1L373.9 226.2L373.9 226.3L369.2 231.4L368.0 236.5L366.4 241.7L366.3 241.7L358.8 245.6L351.3 244.5L350.2 246.8L350.2 251.9L351.3 255.3L351.9 257.1L354.3 262.2L357.9 267.4L358.8 268.5L363.0 272.5L366.3 275.9L368.1 277.6L371.3 282.8L372.3 287.9L372.6 293.1L373.9 297.6L374.0 298.2L376.6 303.3L380.5 308.5L381.4 309.5L384.9 313.6L388.6 318.8L388.9 319.3L391.2 323.9L393.6 329.0L396.0 334.2L396.4 335.3L397.8 339.3L399.3 344.5L400.8 349.6L403.4 354.7L403.9 355.4L407.9 359.9L411.5 364.5L411.8 365.0L414.6 370.2L417.1 375.3L419.0 379.4L419.4 380.4L420.9 385.6L421.5 390.7L421.9 395.9L422.3 401.0L423.2 406.1L424.6 411.3L426.2 416.4L426.5 417.5L427.8 421.6L429.7 426.7L431.6 431.8L433.7 437.0L434.0 437.8L436.0 442.1L438.8 447.3L441.5 451.0L442.6 452.4L446.7 457.5L449.1 460.6L450.4 462.7L453.4 467.8L456.1 473.0L456.6 474.0L459.1 478.1L462.2 483.2L464.1 486.5L465.3 488.4L468.4 493.5L471.5 498.7L464.1 498.7L456.6 498.7L449.1 498.7L441.5 498.7L434.0 498.7L426.5 498.7L419.0 498.7L411.5 498.7L403.9 498.7L396.4 498.7L388.9 498.7L381.4 498.7L373.9 498.7L366.3 498.7L358.8 498.7L351.3 498.7L343.8 498.7L336.3 498.7L328.7 498.7L328.7 493.5L328.7 488.4L328.7 483.2L328.7 478.1L328.7 473.0L328.7 467.8L328.7 462.7L328.7 457.5L328.7 452.4L328.7 447.3L328.7 442.1L328.7 437.0L328.7 431.8L328.7 426.7L328.7 421.6L328.7 416.4L328.7 411.3L328.7 406.1L328.7 401.0L328.7 395.9L328.7 390.7L328.7 385.6L328.7 380.4L328.7 375.3L328.7 370.2L328.7 365.0L328.7 359.9L328.7 354.7L328.7 349.6L328.7 344.5L328.7 339.3L328.7 334.2L328.7 329.0L328.7 323.9L328.7 318.8L328.7 313.6L328.7 308.5L328.7 303.3L328.7 298.2L328.7 293.1L328.7 287.9L328.7 282.8L328.7 277.6L328.7 272.5L328.7 267.4L328.7 262.2L328.7 257.1L328.7 251.9L328.7 246.8L328.7 241.7L328.7 236.5L328.7 231.4L328.7 226.2L328.7 221.1L328.7 216.0L328.7 210.8L328.7 205.7L328.7 200.5L328.7 195.4L328.7 193.6L329.7 195.4L333.1 200.5L336.3 204.6L337.4 205.7L343.8 210.5L351.3 208.7L358.8 207.4L363.5 205.7L365.1 200.5L366.3 199.8L373.5 195.4L373.9 195.2L381.4 191.5L383.0 190.3L388.9 186.7L392.5 185.1L396.4 184.2L403.9 183.7L411.5 183.1L419.0 182.7L426.5 182.8L434.0 184.2L439.8 180.0L441.5 176.2L443.0 174.8L448.0 169.7L449.1 168.1L456.6 167.5L463.1 164.6L464.1 164.3L471.6 161.8L475.2 159.4L479.1 156.3L482.1 154.3L486.7 149.7L487.5 149.1L492.7 144.0L494.2 139.3L494.8 138.9L499.8 133.7ZM351.3 225.0L349.3 226.2L350.1 231.4L351.3 233.4L352.0 231.4L352.4 226.2ZM395.4 205.7L396.4 204.8L403.9 201.5L411.5 201.5L414.6 205.7L412.3 210.8L411.5 211.5L403.9 211.9L396.4 214.4L393.9 216.0L388.9 218.9L384.2 216.0L385.8 210.8L388.9 208.8ZM611.5 421.6L614.5 417.3L614.5 421.6L614.5 426.7L614.5 431.8L614.5 437.0L614.5 442.1L614.5 447.3L614.5 452.4L614.5 457.5L614.5 462.7L614.5 467.8L614.5 473.0L614.5 478.1L614.5 483.2L614.5 488.4L614.5 493.5L614.5 498.7L613.4 498.7L612.8 493.5L611.8 488.4L610.4 483.2L608.5 478.1L607.0 474.9L606.2 473.0L603.3 467.8L599.5 463.0L599.3 462.7L593.5 457.5L591.9 456.6L587.1 452.4L586.2 447.3L589.6 442.1L591.9 439.6L595.5 437.0L599.5 433.4L601.5 431.8L606.7 426.7L607.0 426.4Z" fill="#cec028"/>
<path d="M500.8 128.6L501.7 128.6L509.2 128.6L516.7 128.6L521.0 128.6L518.9 133.7L517.6 138.9L516.7 139.8L510.9 144.0L509.2 148.7L508.8 149.1L506.5 154.3L505.0 159.4L503.5 164.6L502.9 169.7L503.0 174.8L502.6 180.0L501.7 181.4L494.2 183.6L489.1 185.1L486.7 185.4L479.1 189.0L476.1 190.3L471.6 191.0L464.1 192.0L456.6 191.7L449.1 190.8L442.9 195.4L441.5 199.3L439.8 200.5L435.2 205.7L434.0 207.4L431.4 205.7L429.7 200.5L429.7 195.4L426.5 193.5L419.0 193.4L411.5 195.0L410.3 195.4L403.9 199.1L396.4 199.1L391.2 200.5L388.9 202.0L381.4 204.7L376.3 205.7L373.9 208.5L372.7 210.8L373.9 211.9L376.4 216.0L376.0 221.1L373.9 224.7L372.1 226.2L368.3 231.4L367.1 236.5L366.3 239.0L363.0 241.7L358.8 243.8L353.6 241.7L353.5 236.5L354.5 231.4L354.6 226.2L351.3 222.6L345.2 226.2L345.6 231.4L347.4 236.5L348.0 241.7L347.0 246.8L347.6 251.9L349.2 257.1L351.3 261.5L351.6 262.2L354.9 267.4L358.8 272.1L359.2 272.5L364.2 277.6L366.3 280.7L367.7 282.8L369.3 287.9L370.1 293.1L371.6 298.2L373.9 302.8L374.1 303.3L377.8 308.5L381.4 312.8L382.1 313.6L385.8 318.8L388.8 323.9L388.9 324.0L391.2 329.0L393.5 334.2L395.4 339.3L396.4 342.6L396.9 344.5L398.5 349.6L400.9 354.7L403.9 358.7L405.0 359.9L408.9 365.0L411.5 369.7L411.7 370.2L414.0 375.3L416.4 380.4L418.3 385.6L419.0 390.1L419.1 390.7L419.2 395.9L419.4 401.0L420.2 406.1L421.6 411.3L423.1 416.4L424.8 421.6L426.5 426.5L426.6 426.7L428.5 431.8L430.6 437.0L432.8 442.1L434.0 444.5L435.5 447.3L439.1 452.4L441.5 455.2L443.5 457.5L447.5 462.7L449.1 464.9L450.7 467.8L453.3 473.0L455.9 478.1L456.6 479.4L458.8 483.2L461.8 488.4L464.1 492.4L464.8 493.5L467.8 498.7L464.1 498.7L456.6 498.7L449.1 498.7L441.5 498.7L434.0 498.7L426.5 498.7L419.0 498.7L411.5 498.7L403.9 498.7L396.4 498.7L388.9 498.7L381.4 498.7L373.9 498.7L366.3 498.7L358.8 498.7L351.3 498.7L343.8 498.7L336.3 498.7L328.7 498.7L328.7 493.5L328.7 488.4L328.7 483.2L328.7 478.1L328.7 473.0L328.7 467.8L328.7 462.7L328.7 457.5L328.7 452.4L328.7 447.3L328.7 442.1L328.7 437.0L328.7 431.8L328.7 426.7L328.7 421.6L328.7 416.4L328.7 411.3L328.7 406.1L328.7 401.0L328.7 395.9L328.7 390.7L328.7 385.6L328.7 380.4L328.7 375.3L328.7 370.2L328.7 365.0L328.7 359.9L328.7 354.7L328.7 349.6L328.7 344.5L328.7 339.3L328.7 334.2L328.7 329.0L328.7 323.9L328.7 318.8L328.7 313.6L328.7 308.5L328.7 303.3L328.7 298.2L328.7 293.1L328.7 287.9L328.7 282.8L328.7 277.6L328.7 272.5L328.7 267.4L328.7 262.2L328.7 257.1L328.7 251.9L328.7 246.8L328.7 241.7L328.7 236.5L328.7 231.4L328.7 226.2L328.7 221.1L328.7 216.0L328.7 210.8L328.7 205.7L328.7 200.5L328.7 198.3L330.2 200.5L334.0 205.7L336.3 208.6L339.0 210.8L343.8 213.1L347.2 210.8L351.3 209.7L358.8 208.3L365.6 205.7L365.9 200.5L366.3 200.3L373.9 195.8L374.3 195.4L381.4 192.0L383.6 190.3L388.9 187.1L393.4 185.1L396.4 184.4L403.9 183.8L411.5 183.3L419.0 182.9L426.5 183.1L434.0 184.4L440.0 180.0L441.5 176.7L443.6 174.8L448.2 169.7L449.1 168.4L456.6 167.7L463.6 164.6L464.1 164.4L471.6 162.1L475.7 159.4L479.1 156.7L482.6 154.3L486.7 150.2L488.2 149.1L492.9 144.0L494.2 140.0L495.6 138.9L500.0 133.7ZM397.3 205.7L403.9 202.3L411.5 202.1L414.1 205.7L412.0 210.8L411.5 211.2L403.9 211.6L396.4 213.7L392.8 216.0L388.9 218.2L385.3 216.0L387.7 210.8L388.9 210.0L396.4 206.3ZM613.4 421.6L614.5 420.1L614.5 421.6L614.5 426.7L614.5 431.8L614.5 437.0L614.5 442.1L614.5 447.3L614.5 452.4L614.5 457.5L614.5 462.7L614.5 467.8L614.5 473.0L614.5 478.1L614.5 483.2L614.5 488.4L614.5 489.7L614.2 488.4L612.8 483.2L610.9 478.1L608.4 473.0L607.0 470.8L605.3 467.8L601.4 462.7L599.5 460.9L595.7 457.5L591.9 455.3L588.6 452.4L587.5 447.3L590.8 442.1L591.9 440.9L597.2 437.0L599.5 435.0L603.6 431.8L607.0 428.4L608.9 426.7Z" fill="#dabd28"/>
<path d="M501.0 128.6L501.7 128.6L509.2 128.6L516.7 128.6L520.4 128.6L518.6 133.7L517.4 138.9L516.7 139.5L510.6 144.0L509.2 147.9L507.9 149.1L506.0 154.3L504.6 159.4L503.3 164.6L502.8 169.7L502.8 174.8L502.5 180.0L501.7 181.1L494.2 183.3L487.9 185.1L486.7 185.3L479.1 188.7L475.4 190.3L471.6 190.9L464.1 191.9L456.6 191.6L449.1 190.7L442.7 195.4L441.5 198.7L438.8 200.5L435.0 205.7L434.0 207.0L432.0 205.7L430.4 200.5L430.3 195.4L426.5 193.1L419.0 193.1L411.5 194.5L409.3 195.4L403.9 198.5L396.4 198.7L389.5 200.5L388.9 200.9L381.4 203.9L373.9 205.3L366.9 200.5L373.9 196.5L375.3 195.4L381.4 192.4L384.3 190.3L388.9 187.4L394.3 185.1L396.4 184.6L403.9 184.0L411.5 183.5L419.0 183.1L426.5 183.3L434.0 184.6L440.2 180.0L441.5 177.2L444.2 174.8L448.4 169.7L449.1 168.8L456.6 168.0L464.1 164.6L464.2 164.6L471.6 162.3L476.1 159.4L479.1 157.0L483.1 154.3L486.7 150.7L488.9 149.1L493.1 144.0L494.2 140.6L496.4 138.9L500.3 133.7ZM328.7 205.7L328.7 202.8L330.7 205.7L334.5 210.8L336.3 213.6L343.8 215.6L351.0 210.8L351.3 210.7L358.8 209.1L366.3 207.1L370.4 210.8L373.9 214.0L375.1 216.0L375.1 221.1L373.9 223.2L370.2 226.2L367.4 231.4L366.3 236.0L364.6 236.5L359.6 241.7L358.8 242.0L357.9 241.7L357.4 236.5L357.1 231.4L356.8 226.2L352.6 221.1L351.3 220.1L343.8 218.1L342.5 221.1L341.5 226.2L341.9 231.4L342.4 236.5L342.9 241.7L343.8 246.8L343.8 246.8L345.0 251.9L346.6 257.1L348.9 262.2L351.3 266.4L351.9 267.4L355.9 272.5L358.8 276.1L360.3 277.6L364.0 282.8L366.3 287.9L366.3 288.0L367.6 293.1L369.2 298.2L371.6 303.3L373.9 306.8L375.0 308.5L379.1 313.6L381.4 316.6L383.0 318.8L386.1 323.9L388.8 329.0L388.9 329.3L391.0 334.2L392.9 339.3L394.5 344.5L396.1 349.6L396.4 350.3L398.4 354.7L402.1 359.9L403.9 362.3L406.0 365.0L408.8 370.2L411.0 375.3L411.5 376.3L413.4 380.4L415.4 385.6L416.3 390.7L416.6 395.9L416.7 401.0L417.4 406.1L418.6 411.3L419.0 412.6L420.1 416.4L421.8 421.6L423.6 426.7L425.4 431.8L426.5 434.5L427.5 437.0L429.7 442.1L432.3 447.3L434.0 450.2L435.5 452.4L440.1 457.5L441.5 459.0L444.5 462.7L448.0 467.8L449.1 469.9L450.5 473.0L452.8 478.1L455.4 483.2L456.6 485.4L458.2 488.4L461.2 493.5L464.1 498.6L464.1 498.7L464.1 498.7L456.6 498.7L449.1 498.7L441.5 498.7L434.0 498.7L426.5 498.7L419.0 498.7L411.5 498.7L403.9 498.7L396.4 498.7L388.9 498.7L381.4 498.7L373.9 498.7L366.3 498.7L358.8 498.7L351.3 498.7L343.8 498.7L336.3 498.7L328.7 498.7L328.7 493.5L328.7 488.4L328.7 483.2L328.7 478.1L328.7 473.0L328.7 467.8L328.7 462.7L328.7 457.5L328.7 452.4L328.7 447.3L328.7 442.1L328.7 437.0L328.7 431.8L328.7 426.7L328.7 421.6L328.7 416.4L328.7 411.3L328.7 406.1L328.7 401.0L328.7 395.9L328.7 390.7L328.7 385.6L328.7 380.4L328.7 375.3L328.7 370.2L328.7 365.0L328.7 359.9L328.7 354.7L328.7 349.6L328.7 344.5L328.7 339.3L328.7 334.2L328.7 329.0L328.7 323.9L328.7 318.8L328.7 313.6L328.7 308.5L328.7 303.3L328.7 298.2L328.7 293.1L328.7 287.9L328.7 282.8L328.7 277.6L328.7 272.5L328.7 267.4L328.7 262.2L328.7 257.1L328.7 251.9L328.7 246.8L328.7 241.7L328.7 236.5L328.7 231.4L328.7 226.2L328.7 221.1L328.7 216.0L328.7 210.8ZM398.7 205.7L403.9 203.0L411.5 202.7L413.7 205.7L411.6 210.8L411.5 210.9L403.9 211.3L396.4 213.1L391.6 216.0L388.9 217.6L386.4 216.0L388.9 211.5L389.7 210.8L396.4 207.4ZM611.1 426.7L614.5 422.8L614.5 426.7L614.5 431.8L614.5 437.0L614.5 442.1L614.5 447.3L614.5 452.4L614.5 457.5L614.5 462.7L614.5 467.8L614.5 473.0L614.5 478.1L614.5 481.6L613.2 478.1L610.7 473.0L607.5 467.8L607.0 467.2L603.6 462.7L599.5 459.0L597.9 457.5L591.9 454.0L590.1 452.4L588.8 447.3L591.9 442.1L591.9 442.1L599.0 437.0L599.5 436.5L605.6 431.8L607.0 430.4Z" fill="#e4bb2c"/>
<path d="M501.1 128.6L501.7 128.6L509.2 128.6L516.7 128.6L519.7 128.6L518.3 133.7L517.2 138.9L516.7 139.3L510.3 144.0L509.2 147.0L507.1 149.1L505.4 154.3L504.2 159.4L503.0 164.6L502.6 169.7L502.7 174.8L502.3 180.0L501.7 180.9L494.2 182.9L486.7 185.1L486.7 185.1L479.1 188.4L474.6 190.3L471.6 190.7L464.1 191.7L456.6 191.4L449.1 190.5L442.5 195.4L441.5 198.0L437.9 200.5L434.7 205.7L434.0 206.7L432.6 205.7L431.1 200.5L431.0 195.4L426.5 192.7L419.0 192.8L411.5 194.1L408.2 195.4L403.9 197.9L396.4 198.2L388.9 200.0L387.7 200.5L381.4 203.2L373.9 204.4L368.2 200.5L373.9 197.3L376.3 195.4L381.4 192.9L384.9 190.3L388.9 187.8L395.2 185.1L396.4 184.8L403.9 184.2L411.5 183.7L419.0 183.3L426.5 183.5L434.0 184.8L440.5 180.0L441.5 177.7L444.8 174.8L448.6 169.7L449.1 169.1L456.6 168.2L464.1 165.1L465.2 164.6L471.6 162.6L476.6 159.4L479.1 157.4L483.6 154.3L486.7 151.2L489.7 149.1L493.3 144.0L494.2 141.2L497.2 138.9L500.5 133.7ZM400.1 205.7L403.9 203.7L411.5 203.4L413.2 205.7L411.5 210.1L408.1 210.8L403.9 211.0L396.4 212.4L391.8 210.8L396.4 208.5ZM328.7 210.8L328.7 207.7L330.9 210.8L334.1 216.0L336.3 220.9L336.4 221.1L337.9 226.2L338.7 231.4L339.4 236.5L340.1 241.7L341.0 246.8L342.3 251.9L343.8 256.5L344.0 257.1L346.2 262.2L349.0 267.4L351.3 270.8L352.6 272.5L356.6 277.6L358.8 280.7L360.4 282.8L363.0 287.9L364.9 293.1L366.3 296.9L366.8 298.2L369.1 303.3L372.3 308.5L373.9 310.7L376.1 313.6L380.0 318.8L381.4 320.7L383.3 323.9L386.0 329.0L388.4 334.2L388.9 335.4L390.4 339.3L392.0 344.5L393.7 349.6L395.9 354.7L396.4 355.6L399.2 359.9L403.0 365.0L403.9 366.6L405.8 370.2L408.1 375.3L410.3 380.4L411.5 383.0L412.6 385.6L413.6 390.7L413.9 395.9L414.1 401.0L414.7 406.1L415.8 411.3L417.2 416.4L418.8 421.6L419.0 422.2L420.5 426.7L422.4 431.8L424.4 437.0L426.5 441.8L426.6 442.1L429.2 447.3L432.2 452.4L434.0 454.8L436.5 457.5L441.4 462.7L441.5 462.8L445.1 467.8L447.7 473.0L449.1 476.4L449.8 478.1L452.1 483.2L454.7 488.4L456.6 491.8L457.5 493.5L460.4 498.7L456.6 498.7L449.1 498.7L441.5 498.7L434.0 498.7L426.5 498.7L419.0 498.7L411.5 498.7L403.9 498.7L396.4 498.7L388.9 498.7L381.4 498.7L373.9 498.7L366.3 498.7L358.8 498.7L351.3 498.7L343.8 498.7L336.3 498.7L328.7 498.7L328.7 493.5L328.7 488.4L328.7 483.2L328.7 478.1L328.7 473.0L328.7 467.8L328.7 462.7L328.7 457.5L328.7 452.4L328.7 447.3L328.7 442.1L328.7 437.0L328.7 431.8L328.7 426.7L328.7 421.6L328.7 416.4L328.7 411.3L328.7 406.1L328.7 401.0L328.7 395.9L328.7 390.7L328.7 385.6L328.7 380.4L328.7 375.3L328.7 370.2L328.7 365.0L328.7 359.9L328.7 354.7L328.7 349.6L328.7 344.5L328.7 339.3L328.7 334.2L328.7 329.0L328.7 323.9L328.7 318.8L328.7 313.6L328.7 308.5L328.7 303.3L328.7 298.2L328.7 293.1L328.7 287.9L328.7 282.8L328.7 277.6L328.7 272.5L328.7 267.4L328.7 262.2L328.7 257.1L328.7 251.9L328.7 246.8L328.7 241.7L328.7 236.5L328.7 231.4L328.7 226.2L328.7 221.1L328.7 216.0ZM354.6 210.8L358.8 209.9L366.3 209.3L368.0 210.8L373.6 216.0L373.9 217.1L374.2 221.1L373.9 221.6L368.4 226.2L366.5 231.4L366.3 231.9L364.1 231.4L359.4 226.2L358.8 225.8L356.0 221.1L351.3 217.6L348.0 216.0L351.3 213.8ZM387.4 216.0L388.9 213.4L390.5 216.0L388.9 216.9ZM613.4 426.7L614.5 425.4L614.5 426.7L614.5 431.8L614.5 437.0L614.5 442.1L614.5 447.3L614.5 452.4L614.5 457.5L614.5 462.7L614.5 467.8L614.5 473.0L614.5 476.0L613.1 473.0L610.0 467.8L607.0 464.2L605.9 462.7L600.2 457.5L599.5 457.0L591.9 452.7L591.6 452.4L590.0 447.3L591.9 444.2L594.5 442.1L599.5 438.3L601.4 437.0L607.0 432.5L607.8 431.8Z" fill="#eeba34"/>
<path d="M501.3 128.6L501.7 128.6L509.2 128.6L516.7 128.6L519.1 128.6L517.9 133.7L517.0 138.9L516.7 139.1L510.0 144.0L509.2 146.1L506.2 149.1L504.8 154.3L503.9 159.4L502.8 164.6L502.4 169.7L502.5 174.8L502.1 180.0L501.7 180.6L494.2 182.6L486.7 184.7L486.0 185.1L479.1 188.1L473.9 190.3L471.6 190.6L464.1 191.6L456.6 191.3L449.1 190.3L442.2 195.4L441.5 197.4L437.0 200.5L434.4 205.7L434.0 206.3L433.1 205.7L431.8 200.5L431.6 195.4L426.5 192.3L419.0 192.4L411.5 193.7L407.1 195.4L403.9 197.2L396.4 197.7L388.9 199.2L385.8 200.5L381.4 202.4L373.9 203.5L369.6 200.5L373.9 198.1L377.2 195.4L381.4 193.4L385.5 190.3L388.9 188.2L396.1 185.1L396.4 185.0L403.9 184.4L411.5 183.9L419.0 183.5L426.5 183.7L434.0 185.0L440.7 180.0L441.5 178.3L445.3 174.8L448.8 169.7L449.1 169.4L456.6 168.5L464.1 165.7L466.2 164.6L471.6 162.9L477.0 159.4L479.1 157.8L484.1 154.3L486.7 151.7L490.4 149.1L493.5 144.0L494.2 141.8L498.0 138.9L500.7 133.7ZM401.5 205.7L403.9 204.4L411.5 204.0L412.7 205.7L411.5 208.9L403.9 210.0ZM358.2 210.8L358.8 210.7L361.7 210.8L366.3 211.7L370.5 216.0L370.5 221.1L366.5 226.2L366.3 226.7L365.8 226.2L359.9 221.1L358.8 220.1L354.1 216.0ZM393.8 210.8L396.4 209.5L402.4 210.8L396.4 211.7ZM328.7 216.0L328.7 213.3L330.4 216.0L332.7 221.1L334.4 226.2L335.5 231.4L336.3 236.0L336.3 236.5L337.2 241.7L338.2 246.8L339.6 251.9L341.2 257.1L343.4 262.2L343.8 262.9L346.1 267.4L349.4 272.5L351.3 275.3L353.1 277.6L356.8 282.8L358.8 286.2L359.8 287.9L362.0 293.1L364.0 298.2L366.3 302.9L366.5 303.3L369.5 308.5L373.1 313.6L373.9 314.6L377.0 318.8L380.4 323.9L381.4 325.5L383.2 329.0L385.6 334.2L387.7 339.3L388.9 342.6L389.5 344.5L391.2 349.6L393.4 354.7L396.3 359.9L396.4 360.1L399.9 365.0L402.8 370.2L403.9 372.5L405.1 375.3L407.3 380.4L409.5 385.6L410.8 390.7L411.2 395.9L411.5 401.0L411.5 401.1L412.0 406.1L413.0 411.3L414.3 416.4L415.8 421.6L417.5 426.7L419.0 430.8L419.4 431.8L421.4 437.0L423.6 442.1L426.0 447.3L426.5 448.1L429.0 452.4L432.9 457.5L434.0 458.8L437.7 462.7L441.5 466.8L442.2 467.8L444.7 473.0L446.6 478.1L448.7 483.2L449.1 484.0L451.2 488.4L453.9 493.5L456.6 498.4L456.7 498.7L456.6 498.7L449.1 498.7L441.5 498.7L434.0 498.7L426.5 498.7L419.0 498.7L411.5 498.7L403.9 498.7L396.4 498.7L388.9 498.7L381.4 498.7L373.9 498.7L366.3 498.7L358.8 498.7L351.3 498.7L343.8 498.7L336.3 498.7L328.7 498.7L328.7 493.5L328.7 488.4L328.7 483.2L328.7 478.1L328.7 473.0L328.7 467.8L328.7 462.7L328.7 457.5L328.7 452.4L328.7 447.3L328.7 442.1L328.7 437.0L328.7 431.8L328.7 426.7L328.7 421.6L328.7 416.4L328.7 411.3L328.7 406.1L328.7 401.0L328.7 395.9L328.7 390.7L328.7 385.6L328.7 380.4L328.7 375.3L328.7 370.2L328.7 365.0L328.7 359.9L328.7 354.7L328.7 349.6L328.7 344.5L328.7 339.3L328.7 334.2L328.7 329.0L328.7 323.9L328.7 318.8L328.7 313.6L328.7 308.5L328.7 303.3L328.7 298.2L328.7 293.1L328.7 287.9L328.7 282.8L328.7 277.6L328.7 272.5L328.7 267.4L328.7 262.2L328.7 257.1L328.7 251.9L328.7 246.8L328.7 241.7L328.7 236.5L328.7 231.4L328.7 226.2L328.7 221.1ZM388.5 216.0L388.9 215.2L389.3 216.0L388.9 216.2ZM610.6 431.8L614.5 428.1L614.5 431.8L614.5 437.0L614.5 442.1L614.5 447.3L614.5 452.4L614.5 457.5L614.5 462.7L614.5 467.8L614.5 471.3L612.4 467.8L608.4 462.7L607.0 461.3L603.1 457.5L599.5 454.9L594.9 452.4L591.9 449.2L591.3 447.3L591.9 446.3L597.0 442.1L599.5 440.3L604.2 437.0L607.0 434.7Z" fill="#f7ba3c"/>
<path d="M501.5 128.6L501.7 128.6L509.2 128.6L516.7 128.6L518.5 128.6L517.6 133.7L516.7 138.9L516.7 138.9L509.7 144.0L509.2 145.3L505.3 149.1L504.3 154.3L503.5 159.4L502.6 164.6L502.3 169.7L502.3 174.8L501.9 180.0L501.7 180.3L494.2 182.2L486.7 184.2L485.3 185.1L479.1 187.8L473.1 190.3L471.6 190.5L464.1 191.4L456.6 191.2L449.6 190.3L449.1 189.9L448.2 190.3L442.0 195.4L441.5 196.7L436.0 200.5L434.2 205.7L434.0 205.9L433.7 205.7L432.5 200.5L432.3 195.4L426.5 191.9L419.0 192.1L411.5 193.3L406.1 195.4L403.9 196.6L396.4 197.2L388.9 198.5L384.0 200.5L381.4 201.6L373.9 202.5L371.0 200.5L373.9 198.9L378.2 195.4L381.4 193.9L386.1 190.3L388.9 188.6L396.4 185.5L397.6 185.1L403.9 184.6L411.5 184.1L419.0 183.7L426.5 184.0L433.9 185.1L434.0 185.2L434.1 185.1L441.0 180.0L441.5 178.8L445.9 174.8L449.0 169.7L449.1 169.7L456.6 168.7L464.1 166.2L467.2 164.6L471.6 163.2L477.5 159.4L479.1 158.1L484.6 154.3L486.7 152.2L491.1 149.1L493.7 144.0L494.2 142.5L498.8 138.9L501.0 133.7ZM402.9 205.7L403.9 205.2L411.5 204.6L412.3 205.7L411.5 207.7L403.9 207.5ZM395.9 210.8L396.4 210.6L397.5 210.8L396.4 211.0ZM362.9 216.0L366.3 214.8L367.5 216.0L366.3 219.4ZM328.7 221.1L328.7 220.3L329.1 221.1L330.9 226.2L332.2 231.4L333.2 236.5L333.9 241.7L335.0 246.8L336.3 249.8L336.8 251.9L338.5 257.1L340.5 262.2L342.9 267.4L343.8 268.4L346.3 272.5L349.4 277.6L351.3 279.9L353.3 282.8L356.3 287.9L358.8 292.6L359.0 293.1L361.3 298.2L363.4 303.3L366.3 307.8L366.7 308.5L370.2 313.6L373.9 318.7L373.9 318.8L377.3 323.9L380.0 329.0L381.4 331.0L382.8 334.2L385.0 339.3L386.3 344.5L388.6 349.6L388.9 349.9L390.8 354.7L393.3 359.9L396.4 364.6L396.7 365.0L399.7 370.2L401.7 375.3L403.9 379.6L404.3 380.4L406.3 385.6L407.7 390.7L408.2 395.9L408.4 401.0L408.8 406.1L409.7 411.3L411.4 416.4L411.5 416.5L412.9 421.6L414.5 426.7L416.1 431.8L418.0 437.0L419.0 438.6L420.5 442.1L422.9 447.3L425.5 452.4L426.5 453.5L429.4 457.5L433.9 462.7L434.0 462.8L438.5 467.8L441.5 472.4L441.8 473.0L443.3 478.1L445.2 483.2L447.4 488.4L449.1 491.2L450.3 493.5L453.0 498.7L449.1 498.7L441.5 498.7L434.0 498.7L426.5 498.7L419.0 498.7L411.5 498.7L403.9 498.7L396.4 498.7L388.9 498.7L381.4 498.7L373.9 498.7L366.3 498.7L358.8 498.7L351.3 498.7L343.8 498.7L336.3 498.7L328.7 498.7L328.7 493.5L328.7 488.4L328.7 483.2L328.7 478.1L328.7 473.0L328.7 467.8L328.7 462.7L328.7 457.5L328.7 452.4L328.7 447.3L328.7 442.1L328.7 437.0L328.7 431.8L328.7 426.7L328.7 421.6L328.7 416.4L328.7 411.3L328.7 406.1L328.7 401.0L328.7 395.9L328.7 390.7L328.7 385.6L328.7 380.4L328.7 375.3L328.7 370.2L328.7 365.0L328.7 359.9L328.7 354.7L328.7 349.6L328.7 344.5L328.7 339.3L328.7 334.2L328.7 329.0L328.7 323.9L328.7 318.8L328.7 313.6L328.7 308.5L328.7 303.3L328.7 298.2L328.7 293.1L328.7 287.9L328.7 282.8L328.7 277.6L328.7 272.5L328.7 267.4L328.7 262.2L328.7 257.1L328.7 251.9L328.7 246.8L328.7 241.7L328.7 236.5L328.7 231.4L328.7 226.2ZM613.4 431.8L614.5 430.7L614.5 431.8L614.5 437.0L614.5 442.1L614.5 447.3L614.5 452.4L614.5 457.5L614.5 462.7L614.5 467.2L611.2 462.7L607.0 458.5L606.0 457.5L599.5 452.8L598.7 452.4L594.3 447.3L599.5 442.3L599.7 442.1L606.9 437.0L607.0 437.0Z" fill="#fdbd3d"/>
<path d="M501.7 128.6L501.7 128.6L509.2 128.6L516.7 128.6L517.9 128.6L517.3 133.7L516.7 137.1L514.6 138.9L509.4 144.0L509.2 144.4L504.5 149.1L503.7 154.3L503.1 159.4L502.4 164.6L502.1 169.7L502.2 174.8L501.8 180.0L501.7 180.1L494.2 181.9L486.7 183.7L484.6 185.1L479.1 187.5L472.3 190.3L471.6 190.4L464.1 191.3L456.6 191.0L450.7 190.3L449.1 189.2L446.3 190.3L441.8 195.4L441.5 196.1L435.1 200.5L434.0 204.2L433.2 200.5L432.9 195.4L426.5 191.5L419.0 191.8L411.5 192.9L405.0 195.4L403.9 196.0L396.4 196.8L388.9 197.7L382.1 200.5L381.4 200.8L373.9 201.6L372.3 200.5L373.9 199.7L379.2 195.4L381.4 194.3L386.8 190.3L388.9 189.0L396.4 186.2L399.8 185.1L403.9 184.8L411.5 184.3L419.0 184.0L426.5 184.2L432.5 185.1L434.0 186.5L435.8 185.1L441.2 180.0L441.5 179.3L446.5 174.8L449.1 170.6L450.8 169.7L456.6 169.0L464.1 166.7L468.2 164.6L471.6 163.5L477.9 159.4L479.1 158.5L485.1 154.3L486.7 152.7L491.9 149.1L493.9 144.0L494.2 143.1L499.6 138.9L501.2 133.7ZM406.2 205.7L411.5 205.2L411.8 205.7L411.5 206.5ZM328.7 231.4L328.7 230.6L328.9 231.4L330.1 236.5L330.3 241.7L330.6 246.8L331.4 251.9L334.0 257.1L336.3 258.6L337.5 262.2L338.2 267.4L341.5 272.5L343.8 274.1L345.5 277.6L347.6 282.8L351.3 285.3L352.8 287.9L353.7 293.1L357.1 298.2L358.8 299.4L360.2 303.3L361.3 308.5L366.3 312.3L367.2 313.6L368.6 318.8L373.9 323.3L374.3 323.9L375.7 329.0L377.4 334.2L381.4 337.3L382.2 339.3L382.9 344.5L383.6 349.6L386.2 354.7L388.9 356.6L390.2 359.9L391.3 365.0L396.4 370.0L396.5 370.2L398.0 375.3L398.9 380.4L401.1 385.6L403.9 388.5L404.5 390.7L405.2 395.9L405.3 401.0L405.4 406.1L405.7 411.3L406.2 416.4L407.4 421.6L411.5 426.3L411.6 426.7L412.9 431.8L413.4 437.0L414.9 442.1L419.0 445.5L419.8 447.3L420.9 452.4L424.5 457.5L426.5 458.9L428.7 462.7L434.0 467.2L434.6 467.8L436.4 473.0L437.7 478.1L441.5 482.5L441.8 483.2L443.3 488.4L444.5 493.5L449.1 498.3L449.3 498.7L449.1 498.7L441.5 498.7L434.0 498.7L426.5 498.7L419.0 498.7L411.5 498.7L403.9 498.7L396.4 498.7L388.9 498.7L381.4 498.7L373.9 498.7L366.3 498.7L358.8 498.7L351.3 498.7L343.8 498.7L336.3 498.7L328.7 498.7L328.7 493.5L328.7 488.4L328.7 483.2L328.7 478.1L328.7 473.0L328.7 467.8L328.7 462.7L328.7 457.5L328.7 452.4L328.7 447.3L328.7 442.1L328.7 437.0L328.7 431.8L328.7 426.7L328.7 421.6L328.7 416.4L328.7 411.3L328.7 406.1L328.7 401.0L328.7 395.9L328.7 390.7L328.7 385.6L328.7 380.4L328.7 375.3L328.7 370.2L328.7 365.0L328.7 359.9L328.7 354.7L328.7 349.6L328.7 344.5L328.7 339.3L328.7 334.2L328.7 329.0L328.7 323.9L328.7 318.8L328.7 313.6L328.7 308.5L328.7 303.3L328.7 298.2L328.7 293.1L328.7 287.9L328.7 282.8L328.7 277.6L328.7 272.5L328.7 267.4L328.7 262.2L328.7 257.1L328.7 251.9L328.7 246.8L328.7 241.7L328.7 236.5ZM612.2 437.0L614.5 434.8L614.5 437.0L614.5 442.1L614.5 447.3L614.5 452.4L614.5 457.5L614.5 462.7L614.5 463.3L614.1 462.7L611.6 457.5L607.0 454.4L604.4 452.4L599.5 447.9L598.9 447.3L599.5 446.7L604.8 442.1L607.0 440.6Z" fill="#fec239"/>
<path d="M501.5 133.7L501.7 131.2L505.2 128.6L509.2 128.6L516.7 128.6L517.3 128.6L517.0 133.7L516.7 135.2L512.4 138.9L509.2 142.6L507.6 144.0L503.6 149.1L503.1 154.3L502.7 159.4L502.2 164.6L502.0 169.7L502.0 174.8L501.7 178.7L500.7 180.0L494.2 181.5L486.7 183.2L483.9 185.1L479.1 187.2L471.6 190.2L471.6 190.3L464.1 191.1L456.6 190.9L451.9 190.3L449.1 188.5L444.5 190.3L441.6 195.4L441.5 195.5L434.2 200.5L434.0 201.0L433.9 200.5L433.6 195.4L426.5 191.2L419.0 191.4L411.5 192.5L403.9 195.4L403.9 195.4L396.4 196.3L388.9 196.9L381.4 198.9L380.1 195.4L381.4 194.8L387.4 190.3L388.9 189.3L396.4 186.9L401.9 185.1L403.9 184.9L411.5 184.5L419.0 184.2L426.5 184.4L431.0 185.1L434.0 187.9L437.5 185.1L441.5 180.0L441.5 179.8L447.1 174.8L449.1 171.6L452.8 169.7L456.6 169.2L464.1 167.2L469.1 164.6L471.6 163.8L478.4 159.4L479.1 158.8L485.6 154.3L486.7 153.2L492.6 149.1L494.1 144.0L494.2 143.7L500.4 138.9ZM373.7 200.5L373.9 200.4L375.1 200.5L373.9 200.7Z" fill="#fec934"/>
<path d="M509.1 128.6L509.2 128.6L511.6 128.6L513.3 133.7L510.1 138.9L509.2 140.0L504.5 144.0L502.7 149.1L502.5 154.3L502.3 159.4L502.0 164.6L501.8 169.7L501.8 174.8L501.7 176.6L499.2 180.0L494.2 181.2L486.7 182.7L483.1 185.1L479.1 186.9L471.6 189.6L470.3 190.3L464.1 191.0L456.6 190.7L453.0 190.3L449.1 187.8L442.6 190.3L441.5 192.2L434.0 193.9L426.5 190.8L419.0 191.1L411.5 192.1L403.9 194.6L399.9 195.4L396.4 195.8L388.9 196.1L381.4 196.2L381.1 195.4L381.4 195.3L388.0 190.3L388.9 189.7L396.4 187.6L403.9 185.1L404.0 185.1L411.5 184.6L419.0 184.4L426.5 184.6L429.5 185.1L434.0 189.2L439.2 185.1L441.5 181.7L442.7 180.0L447.7 174.8L449.1 172.5L454.7 169.7L456.6 169.5L464.1 167.8L470.1 164.6L471.6 164.1L478.8 159.4L479.1 159.2L486.1 154.3L486.7 153.7L493.3 149.1L494.2 145.8L497.2 144.0L501.3 138.9L501.7 134.6L504.1 133.7Z" fill="#fccf30"/>
<path d="M494.1 149.1L494.2 148.7L501.7 145.8L501.9 149.1L502.0 154.3L502.0 159.4L501.8 164.6L501.7 167.2L500.6 169.7L501.2 174.8L497.7 180.0L494.2 180.8L486.7 182.2L482.4 185.1L479.1 186.5L471.6 189.0L469.0 190.3L464.1 190.8L456.6 190.6L454.1 190.3L449.1 187.1L441.5 187.6L440.8 185.1L441.5 184.1L444.3 180.0L448.2 174.8L449.1 173.5L456.6 169.7L456.6 169.7L464.1 168.3L471.1 164.6L471.6 164.4L479.1 160.2L480.8 159.4L486.6 154.3L486.7 154.2ZM407.0 185.1L411.5 184.8L419.0 184.6L426.5 184.9L428.1 185.1L430.9 190.3L426.5 190.4L419.0 190.8L411.5 191.7L403.9 193.8L396.4 195.1L388.9 195.0L388.6 190.3L388.9 190.1L396.4 188.3L403.9 186.1Z" fill="#fad52d"/>
<path d="M486.2 159.4L486.7 159.0L494.2 157.6L497.1 159.4L498.6 164.6L497.9 169.7L498.7 174.8L496.2 180.0L494.2 180.5L486.7 181.7L481.7 185.1L479.1 186.2L471.6 188.3L467.7 190.3L464.1 190.7L456.6 190.4L455.2 190.3L449.1 186.5L443.3 185.1L446.0 180.0L448.8 174.8L449.1 174.5L456.6 171.2L459.4 169.7L464.1 168.8L471.6 165.4L474.6 164.6L479.1 162.7ZM410.0 185.1L411.5 185.0L419.0 184.8L426.5 185.1L426.6 185.1L426.5 185.7L422.1 190.3L419.0 190.4L411.5 191.2L403.9 192.9L396.4 193.4L390.6 190.3L396.4 189.0L403.9 187.1Z" fill="#f7dc2a"/>
<path d="M484.0 164.6L486.7 163.8L489.7 164.6L494.2 166.5L495.2 169.7L496.2 174.8L494.7 180.0L494.2 180.1L486.7 181.2L481.0 185.1L479.1 185.9L471.6 187.7L466.5 190.3L464.1 190.5L456.6 190.3L456.4 190.3L449.1 185.8L446.3 185.1L447.7 180.0L449.1 177.0L451.3 174.8L456.6 172.7L462.2 169.7L464.1 169.3L471.6 167.2L479.1 165.3ZM415.5 185.1L419.0 185.0L421.4 185.1L419.0 187.6L417.0 190.3L411.5 190.8L403.9 192.1L396.4 191.7L393.7 190.3L396.4 189.7L403.9 188.1L411.5 186.5Z" fill="#f5e227"/>
<path d="M467.1 169.7L471.6 168.9L479.1 167.9L486.7 168.1L489.6 169.7L493.2 174.8L491.9 180.0L486.7 180.7L480.3 185.1L479.1 185.6L471.6 187.0L465.2 190.3L464.1 190.4L460.3 190.3L456.6 189.0L449.3 185.1L449.5 180.0L455.0 174.8L456.6 174.2L464.1 170.2ZM397.1 190.3L403.9 189.1L411.5 189.2L413.0 190.3L411.5 190.4L403.9 191.3Z" fill="#f5e924"/>
<path d="M458.6 174.8L464.1 172.0L471.6 171.0L479.1 170.5L486.7 172.8L488.5 174.8L488.5 180.0L486.7 180.2L479.6 185.1L479.1 185.3L471.6 186.4L464.1 189.9L456.6 187.5L452.1 185.1L452.4 180.0L456.6 176.2ZM402.7 190.3L403.9 190.0L406.0 190.3L403.9 190.4Z" fill="#f5ef20"/>
<path d="M462.1 174.8L464.1 173.8L471.6 173.3L479.1 173.4L482.5 174.8L484.2 180.0L479.1 183.7L477.1 185.1L471.6 185.8L464.1 187.5L456.6 186.0L454.9 185.1L455.2 180.0L456.6 178.8Z" fill="#f7f51b"/></g>
<path d="M200.0 48.0 V549.3M274.5 48.0 V549.3M349.0 48.0 V549.3M423.5 48.0 V549.3M497.9 48.0 V549.3M572.4 48.0 V549.3M646.9 48.0 V549.3M721.4 48.0 V549.3M795.9 48.0 V549.3M125.5 477.7 H870.4M125.5 406.1 H870.4M125.5 334.4 H870.4M125.5 262.8 H870.4M125.5 191.2 H870.4M125.5 119.6 H870.4" stroke="#262626" stroke-opacity="0.11" stroke-width="0.8" fill="none"/>
<g clip-path="url(#ax)"><path d="M125.3 367.6 L140.2 365.2 L149.1 360.8 L160.4 353.8 L172.0 345.3 L172.5 340.9 L179.8 340.1 L182.2 334.9 L187.9 330.1 L192.7 323.1 L195.6 317.5 L196.0 313.4 L195.2 309.4 L199.5 310.5 L204.0 306.2 L208.9 298.9 L215.4 290.0 L215.8 289.1 L221.1 288.4 L223.0 283.6 L222.2 280.7 L224.3 274.5 L228.2 274.2 L229.5 268.5 L230.8 262.6 L220.6 259.6 L210.1 259.6 L206.5 257.7 L213.3 256.1 L219.0 252.4 L226.3 249.9 L228.7 247.0 L226.3 241.9 L219.5 238.6 L226.6 237.8 L224.6 233.0 L219.8 228.6 L214.1 224.9 L204.9 200.7 L187.5 193.4 L193.6 184.0 L200.1 179.2 L210.6 173.5 L212.2 168.7 L221.1 166.3 L230.0 162.7 L234.4 164.3 L238.1 157.4 L227.6 156.6 L218.7 155.3 L212.2 151.7 L204.9 154.1 L195.3 161.4 L188.8 161.1 L183.9 156.6 L182.3 151.7 L174.2 146.9 L166.2 141.2 L163.7 138.0 L166.2 133.1 L170.2 130.2 L175.9 132.0 L184.7 130.7 L192.0 122.6 L204.9 117.0 L211.4 111.3 L218.7 106.5 L228.4 107.3 L233.2 112.1 L230.0 117.8 L220.3 125.1 L224.3 129.9 L217.9 137.2 L224.3 135.9 L235.7 128.3 L247.0 125.1 L255.1 122.3 L261.5 121.8 L271.2 124.6 L280.6 127.5 L276.1 137.8 L270.8 146.7 L278.9 152.3 L290.2 151.5 L297.5 156.4 L300.4 162.3 L292.3 163.6 L295.9 171.7 L300.4 180.6 L294.6 187.1 L294.2 191.9 L297.8 200.5 L307.2 195.6 L318.5 192.7 L329.8 190.3 L336.3 185.5 L339.8 176.6 L340.3 168.5 L337.9 160.4 L333.0 152.3 L324.9 141.8 L318.5 135.4 L316.7 134.5 L309.4 130.5 L311.0 126.5 L309.4 122.1 L318.3 120.0 L328.8 115.2 L337.7 109.8 L343.7 107.9 L342.5 96.6 L349.8 89.8 L359.2 86.9 L361.1 82.8 L366.3 82.3 L370.8 77.2 L375.7 72.6 L383.4 72.6 L383.7 77.5 L395.1 81.2 L403.9 78.8 L414.4 73.1 L423.8 69.9 L430.6 63.4 L433.8 57.0 L447.6 47.4M223.4 330.4 L228.3 332.8 L228.6 338.5 L225.9 346.6 L223.4 353.8 L221.0 361.1 L215.4 369.2 L212.1 376.9 L209.7 371.6 L204.8 368.9 L202.7 361.1 L202.4 353.8 L207.3 345.8 L212.9 337.7 L217.8 333.3ZM523.8 47.4 L523.4 54.5 L521.1 60.2 L516.9 65.9 L516.6 72.3 L503.6 73.6 L502.3 78.8 L495.6 82.8 L494.3 86.9 L497.5 91.7 L498.5 98.5 L506.9 94.9 L513.3 92.5 L508.5 89.3 L502.3 86.9 L502.8 83.6 L513.3 84.4 L524.6 82.3 L536.0 86.9 L546.5 90.4 L548.9 86.1 L558.6 77.5 L569.9 75.9 L578.0 72.3 L584.1 70.4 L577.2 70.7 L575.1 65.9 L573.9 64.2 L576.7 59.1 L569.9 61.8 L563.4 62.6 L555.4 60.2 L545.7 55.4 L539.2 51.3 L534.7 47.4M579.6 62.3 L587.7 55.4 L592.8 55.4 L587.7 58.6ZM615.2 47.4 L609.5 50.0 L601.4 55.7 L620.0 48.1M498.0 127.3 L497.5 117.6 L498.5 109.5 L503.3 103.0 L508.5 105.5 L513.3 105.9 L513.7 102.2 L509.8 101.4 L510.4 98.2 L517.4 99.5 L518.5 107.9 L522.2 114.3 L525.5 120.8 L526.3 128.9 L523.8 134.5 L522.7 135.0 L521.0 139.0 L520.2 143.5 L514.1 143.8 L511.6 148.0 L510.9 155.0 L510.1 161.1 L506.6 167.1 L506.1 173.1 L507.9 179.1 L504.1 183.1 L499.1 189.1 L494.9 191.1 L494.9 184.6 L490.1 187.1 L484.1 187.6 L480.1 195.1 L478.1 190.1 L473.1 193.1 L465.1 195.1 L458.0 195.1 L454.0 194.1 L449.5 191.6 L446.5 195.1 L447.3 199.2 L442.4 202.4 L438.2 209.6 L434.2 213.1 L430.2 211.1 L427.2 207.1 L426.0 202.1 L427.7 198.6 L430.2 194.5 L422.1 193.5 L414.1 193.8 L406.1 197.1 L398.1 198.6 L390.1 200.9 L383.1 202.3 L379.1 205.9 L370.0 205.1 L362.2 206.1 L362.5 201.1 L370.0 197.1 L378.1 192.5 L384.1 188.0 L389.1 184.5 L395.1 183.5 L406.1 182.5 L418.1 180.8 L426.2 180.0 L430.2 181.0 L433.2 183.0 L436.2 182.0 L438.2 179.5 L438.7 176.0 L440.7 173.0 L444.2 170.0 L445.0 169.1 L449.0 164.1 L450.0 159.0 L453.0 156.0 L455.0 156.5 L453.0 161.1 L453.5 165.1 L459.0 163.6 L466.1 161.1 L473.1 157.5 L477.1 154.0 L482.1 149.0 L487.1 146.5 L489.1 144.0 L491.1 139.0 L494.6 135.0 L497.4 128.1ZM341.5 215.9 L349.5 210.1 L356.8 207.2 L362.6 206.9 L366.3 209.4 L373.1 210.1 L375.0 216.6 L377.2 222.5 L373.1 229.0 L369.9 234.8 L369.2 240.6 L366.3 244.3 L359.7 247.2 L351.3 244.7 L351.7 234.1 L356.1 229.0 L355.4 222.5 L352.5 218.8 L350.3 222.5 L345.2 222.9ZM383.1 213.6 L389.6 209.1 L391.1 205.1 L398.6 205.9 L402.1 202.6 L408.6 201.1 L415.1 202.1 L418.1 206.1 L415.1 210.1 L409.9 215.6 L404.1 212.6 L397.1 215.6 L392.6 223.1 L386.1 221.1 L383.6 217.1ZM337.1 287.2 L339.9 284.7 L344.1 284.0 L345.1 285.7 L342.0 288.2 L338.4 290.3ZM313.6 316.6 L315.7 312.4 L319.9 309.2 L324.1 307.1 L324.5 309.2 L321.0 313.4 L316.8 317.6 L314.2 319.1ZM210.1 427.0 L216.1 425.8 L221.7 428.6 L228.2 431.0 L234.6 427.5 L232.7 442.3 L236.6 448.0 L234.6 454.4 L229.8 460.1 L224.1 466.6 L221.4 473.0 L223.7 481.1 L226.6 490.0 L232.2 492.4 L238.7 489.2 L245.2 489.5 L251.6 492.4 L258.1 495.3 L253.7 497.3 L254.8 502.1 L261.8 507.3 L256.5 508.3 L250.0 505.4 L246.0 499.7 L242.7 495.7 L238.7 494.4 L239.5 504.5 L235.5 500.5 L231.4 495.7 L225.8 493.2 L220.1 497.3 L214.4 496.5 L210.1 494.8 L209.6 489.2 L213.3 484.7 L210.1 481.4 L208.0 485.2 L203.1 481.1 L200.7 474.6 L199.1 467.4 L197.2 460.4 L204.7 461.7 L205.9 447.2 L204.7 440.7 L207.2 432.6ZM206.4 500.7 L214.4 500.4 L220.1 502.3 L223.3 506.4 L223.0 513.6 L217.7 518.2 L213.6 512.8 L210.4 506.4ZM181.3 549.4 L187.0 541.1 L192.6 531.7 L194.6 541.1 L186.2 549.4M242.2 549.4 L241.9 543.5 L237.1 541.9 L228.5 541.1 L230.6 531.4 L228.5 523.3 L237.1 523.7 L237.9 527.4 L245.6 527.9 L246.8 534.6 L251.1 536.6 L252.1 541.9 L256.5 538.7 L259.2 534.3 L259.2 546.0 L265.4 547.6 L267.0 549.4M264.5 513.6 L278.6 513.3 L281.5 520.1 L282.3 526.6 L284.4 533.8 L275.1 533.8 L274.7 539.5 L278.3 545.2 L271.0 546.8 L270.5 537.9 L266.2 537.1 L265.7 530.6 L272.1 529.5 L273.4 523.3 L267.0 519.3Z" fill="none" stroke="#1a1a1a" stroke-width="0.75" stroke-linejoin="round"/></g>
<path d="M200.0 549.3 v-7.6 M200.0 48.0 v7.6M274.5 549.3 v-7.6 M274.5 48.0 v7.6M349.0 549.3 v-7.6 M349.0 48.0 v7.6M423.5 549.3 v-7.6 M423.5 48.0 v7.6M497.9 549.3 v-7.6 M497.9 48.0 v7.6M572.4 549.3 v-7.6 M572.4 48.0 v7.6M646.9 549.3 v-7.6 M646.9 48.0 v7.6M721.4 549.3 v-7.6 M721.4 48.0 v7.6M795.9 549.3 v-7.6 M795.9 48.0 v7.6M125.5 477.7 h7.6 M870.4 477.7 h-7.6M125.5 406.1 h7.6 M870.4 406.1 h-7.6M125.5 334.4 h7.6 M870.4 334.4 h-7.6M125.5 262.8 h7.6 M870.4 262.8 h-7.6M125.5 191.2 h7.6 M870.4 191.2 h-7.6M125.5 119.6 h7.6 M870.4 119.6 h-7.6" stroke="#262626" stroke-width="0.7" fill="none" stroke-opacity="0.85"/>
<rect x="125.5" y="48.0" width="744.9" height="501.3" fill="none" stroke="#262626" stroke-width="0.8" stroke-opacity="0.8"/>
<text x="125.5" y="563.3" font-size="10.9" text-anchor="middle">115</text>
<text x="200.0" y="563.3" font-size="10.9" text-anchor="middle">120</text>
<text x="274.5" y="563.3" font-size="10.9" text-anchor="middle">125</text>
<text x="349.0" y="563.3" font-size="10.9" text-anchor="middle">130</text>
<text x="423.5" y="563.3" font-size="10.9" text-anchor="middle">135</text>
<text x="497.9" y="563.3" font-size="10.9" text-anchor="middle">140</text>
<text x="572.4" y="563.3" font-size="10.9" text-anchor="middle">145</text>
<text x="646.9" y="563.3" font-size="10.9" text-anchor="middle">150</text>
<text x="721.4" y="563.3" font-size="10.9" text-anchor="middle">155</text>
<text x="795.9" y="563.3" font-size="10.9" text-anchor="middle">160</text>
<text x="870.4" y="563.3" font-size="10.9" text-anchor="middle">165</text>
<text x="120.6" y="553.1" font-size="10.9" text-anchor="end">10</text>
<text x="120.6" y="481.5" font-size="10.9" text-anchor="end">15</text>
<text x="120.6" y="409.9" font-size="10.9" text-anchor="end">20</text>
<text x="120.6" y="338.2" font-size="10.9" text-anchor="end">25</text>
<text x="120.6" y="266.6" font-size="10.9" text-anchor="end">30</text>
<text x="120.6" y="195.0" font-size="10.9" text-anchor="end">35</text>
<text x="120.6" y="123.4" font-size="10.9" text-anchor="end">40</text>
<text x="120.6" y="51.7" font-size="10.9" text-anchor="end">45</text>
<rect x="889.0" y="48.0" width="18.3" height="501.6" fill="url(#cb)"/>
<text x="911.9" y="512.6" font-size="10.9">210</text>
<text x="911.9" y="431.0" font-size="10.9">220</text>
<text x="911.9" y="349.5" font-size="10.9">230</text>
<text x="911.9" y="267.9" font-size="10.9">240</text>
<text x="911.9" y="186.3" font-size="10.9">250</text>
<text x="911.9" y="104.8" font-size="10.9">260</text>
<path d="M907.3 508.8 h-6M907.3 427.2 h-6M907.3 345.7 h-6M907.3 264.1 h-6M907.3 182.5 h-6M907.3 101.0 h-6" stroke="#262626" stroke-width="0.7" fill="none" stroke-opacity="0.8"/>
<rect x="889.0" y="48.0" width="18.3" height="501.6" fill="none" stroke="#262626" stroke-width="0.6" stroke-opacity="0.5"/>
<text x="378.8" y="29.5" font-size="19.6" textLength="272" lengthAdjust="spacing" stroke="#262626" stroke-width="0.25">HYMS 50 - 58 GHz (averaged)</text>
<text x="455.0" y="599" font-size="22.3" textLength="127.4" lengthAdjust="spacing" stroke="#262626" stroke-width="0.25">Latitude (Eº)</text>
<text transform="translate(72.8 356.2) rotate(-90)" font-size="20.2" textLength="128.6" lengthAdjust="spacing" stroke="#262626" stroke-width="0.25">Longitude (Nº)</text>
<text transform="translate(970.5 432.2) rotate(-90)" font-size="19" textLength="246.6" lengthAdjust="spacing" stroke="#262626" stroke-width="0.2">Brightness Temperature (K)</text>
</svg></body></html>
